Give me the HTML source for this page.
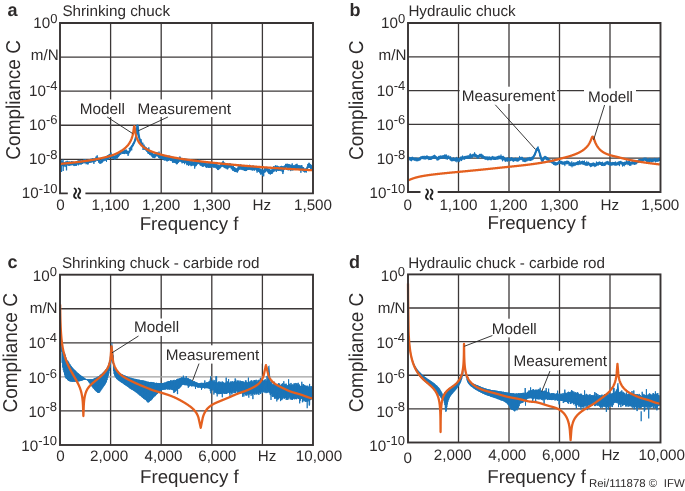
<!DOCTYPE html><html><head><meta charset="utf-8"><style>html,body{margin:0;padding:0;background:#fff;overflow:hidden}svg{display:block;will-change:transform}</style></head><body>
<svg text-rendering="geometricPrecision" width="685" height="491" viewBox="0 0 685 491" font-family="Liberation Sans, sans-serif" fill="#2e2b2b">
<line x1="110.60" y1="23" x2="110.60" y2="193.4" stroke="#3c3838" stroke-width="1.3"/>
<line x1="161.20" y1="23" x2="161.20" y2="193.4" stroke="#3c3838" stroke-width="1.3"/>
<line x1="211.80" y1="23" x2="211.80" y2="193.4" stroke="#3c3838" stroke-width="1.3"/>
<line x1="262.40" y1="23" x2="262.40" y2="193.4" stroke="#3c3838" stroke-width="1.3"/>
<line x1="60" y1="57.08" x2="313" y2="57.08" stroke="#3c3838" stroke-width="1.3"/>
<line x1="60" y1="91.16" x2="313" y2="91.16" stroke="#3c3838" stroke-width="1.3"/>
<line x1="60" y1="125.24" x2="313" y2="125.24" stroke="#3c3838" stroke-width="1.3"/>
<line x1="60" y1="159.32" x2="313" y2="159.32" stroke="#3c3838" stroke-width="1.3"/>
<path d="M60.60 160.64 60.90 163.92 61.20 160.22 61.50 164.56 61.80 161.16 62.10 164.77 62.40 161.57 62.70 165.92 63.00 159.71 63.30 166.43 63.60 162.33 63.90 165.95 64.20 162.45 64.50 165.97 64.80 161.96 65.10 167.07 65.40 161.96 65.70 165.41 66.00 161.31 66.30 164.87 66.60 161.81 66.90 164.66 67.20 160.80 67.50 165.19 67.80 161.60 68.10 165.44 68.40 161.55 68.70 165.56 69.00 162.19 69.30 165.39 69.60 161.49 69.90 165.72 70.20 161.90 70.50 164.97 70.80 161.86 71.10 165.42 71.40 161.14 71.70 164.62 72.00 161.22 72.30 165.19 72.60 161.87 72.90 164.75 73.20 161.53 73.50 165.35 73.80 162.45 74.10 166.07 74.40 162.72 74.70 165.55 75.00 162.67 75.30 165.75 75.60 162.52 75.90 165.67 76.20 162.07 76.50 165.65 76.80 161.55 77.10 164.56 77.40 160.94 77.70 164.07 78.00 160.50 78.30 165.33 78.60 160.55 78.90 164.36 79.20 160.58 79.50 164.13 79.80 159.87 80.10 164.52 80.40 160.38 80.70 164.11 81.00 160.43 81.30 164.47 81.60 160.78 81.90 164.03 82.20 160.59 82.50 163.85 82.80 160.04 83.10 163.33 83.40 159.85 83.70 162.72 84.00 159.47 84.30 163.29 84.60 159.53 84.90 163.02 85.20 159.72 85.50 162.79 85.80 159.34 86.10 164.22 86.40 160.46 86.70 163.37 87.00 160.83 87.30 164.03 87.60 160.79 87.90 164.55 88.20 159.66 88.50 163.51 88.80 159.96 89.10 162.91 89.40 159.25 89.70 162.92 90.00 159.71 90.30 162.79 90.60 158.83 90.90 162.16 91.20 159.16 91.50 162.44 91.80 158.70 92.10 162.03 92.40 158.37 92.70 162.28 93.00 158.57 93.30 162.07 93.60 158.63 93.90 163.88 94.20 158.87 94.50 161.72 94.80 158.47 95.10 161.73 95.40 158.29 95.70 161.41 96.00 156.66 96.30 160.13 96.60 156.68 96.90 160.81 97.20 155.35 97.50 160.83 97.80 157.32 98.10 160.94 98.40 158.01 98.70 162.60 99.00 158.79 99.30 162.55 99.60 159.82 99.90 163.76 100.20 160.62 100.50 163.41 100.80 160.34 101.10 163.27 101.40 159.59 101.70 163.12 102.00 159.20 102.30 162.45 102.60 158.06 102.90 161.77 103.20 157.40 103.50 160.55 103.80 157.60 104.10 161.12 104.40 156.99 104.70 160.32 105.00 157.44 105.30 160.40 105.60 157.20 105.90 160.59 106.20 157.01 106.50 161.77 106.80 156.27 107.10 159.88 107.40 155.29 107.70 158.98 108.00 155.61 108.30 159.41 108.60 155.07 108.90 157.85 109.20 154.05 109.50 158.42 109.80 153.88 110.10 157.86 110.40 154.22 110.70 157.36 111.00 152.50 111.30 158.12 111.60 154.85 111.90 158.58 112.20 154.34 112.50 158.25 112.80 154.15 113.10 158.69 113.40 155.34 113.70 158.66 114.00 155.65 114.30 158.87 114.60 155.83 114.90 159.74 115.20 155.85 115.50 158.90 115.80 155.16 116.10 158.80 116.40 154.88 116.70 158.03 117.00 154.59 117.30 158.43 117.60 153.68 117.90 157.32 118.20 154.27 118.50 156.78 118.80 153.10 119.10 156.13 119.40 150.94 119.70 155.03 120.00 151.73 120.30 154.52 120.60 150.83 120.90 154.38 121.20 149.87 121.50 153.15 121.80 149.99 122.10 153.73 122.40 150.92 122.70 153.83 123.00 150.70 123.30 153.88 123.60 151.14 123.90 153.52 124.20 150.08 124.50 154.07 124.80 149.90 125.10 153.77 125.40 150.17 125.70 152.89 126.00 149.48 126.30 153.88 126.60 149.95 126.90 153.47 127.20 150.78 127.50 154.07 127.80 151.00 128.10 155.86 128.40 151.22 128.70 154.29 129.00 150.66 129.30 152.86 129.60 150.06 129.90 152.14 130.20 148.43 130.50 150.89 130.80 147.57 131.10 149.67 131.40 146.77 131.70 150.38 132.00 145.58 132.30 146.97 132.60 144.15 132.90 146.21 133.20 143.33 133.50 144.50 133.80 142.43 134.10 143.29 134.40 141.15 134.70 141.86 135.00 139.73 135.30 140.12 135.60 137.66 135.90 137.69 136.20 134.88 136.50 134.45 136.80 130.31 137.10 129.39 137.40 124.97 137.70 126.72 138.00 128.44 138.30 133.28 138.60 133.60 138.90 137.20 139.20 136.74 139.50 139.53 139.80 138.89 140.10 141.13 140.40 140.50 140.70 142.95 141.00 139.18 141.30 144.02 141.60 141.59 141.90 145.53 142.20 143.20 142.50 146.05 142.80 142.69 143.10 150.01 143.40 145.13 143.70 147.89 144.00 144.64 144.30 149.54 144.60 146.09 144.90 149.78 145.20 146.68 145.50 150.22 145.80 147.69 146.10 150.58 146.40 147.47 146.70 151.55 147.00 148.01 147.30 151.98 147.60 149.45 147.90 153.44 148.20 149.64 148.50 153.85 148.80 147.43 149.10 153.80 149.40 150.97 149.70 154.86 150.00 150.84 150.30 155.23 150.60 150.46 150.90 155.24 151.20 151.08 151.50 155.63 151.80 152.43 152.10 156.99 152.40 152.89 152.70 157.51 153.00 153.67 153.30 157.88 153.60 153.96 153.90 157.64 154.20 153.88 154.50 158.11 154.80 153.92 155.10 157.52 155.40 153.38 155.70 156.86 156.00 152.53 156.30 156.18 156.60 152.11 156.90 156.01 157.20 152.31 157.50 156.27 157.80 152.99 158.10 156.55 158.40 153.23 158.70 157.88 159.00 151.61 159.30 158.25 159.60 154.40 159.90 158.49 160.20 154.51 160.50 158.45 160.80 155.29 161.10 158.83 161.40 154.69 161.70 158.59 162.00 154.11 162.30 158.58 162.60 155.40 162.90 159.64 163.20 155.39 163.50 158.85 163.80 155.40 164.10 160.28 164.40 155.89 164.70 160.42 165.00 155.50 165.30 159.98 165.60 157.01 165.90 160.61 166.20 157.15 166.50 160.72 166.80 156.88 167.10 161.47 167.40 156.55 167.70 160.74 168.00 156.72 168.30 160.78 168.60 155.83 168.90 160.51 169.20 155.77 169.50 159.73 169.80 155.84 170.10 160.46 170.40 156.50 170.70 160.99 171.00 156.85 171.30 161.05 171.60 156.64 171.90 161.11 172.20 157.86 172.50 162.52 172.80 158.65 173.10 162.69 173.40 158.53 173.70 162.34 174.00 158.02 174.30 162.60 174.60 158.51 174.90 162.87 175.20 158.52 175.50 163.19 175.80 159.18 176.10 163.22 176.40 159.11 176.70 164.31 177.00 159.91 177.30 164.06 177.60 159.31 177.90 162.81 178.20 159.04 178.50 162.61 178.80 158.25 179.10 162.07 179.40 156.81 179.70 160.96 180.00 156.61 180.30 161.05 180.60 157.49 180.90 162.06 181.20 158.08 181.50 162.13 181.80 158.80 182.10 163.35 182.40 158.04 182.70 162.67 183.00 158.53 183.30 163.00 183.60 159.29 183.90 162.99 184.20 157.99 184.50 164.16 184.80 158.71 185.10 162.36 185.40 159.04 185.70 162.92 186.00 158.69 186.30 163.84 186.60 159.15 186.90 165.20 187.20 160.56 187.50 164.50 187.80 160.05 188.10 164.69 188.40 160.98 188.70 165.96 189.00 161.82 189.30 164.86 189.60 161.05 189.90 165.01 190.20 161.30 190.50 165.13 190.80 161.48 191.10 166.17 191.40 161.19 191.70 165.80 192.00 161.66 192.30 165.45 192.60 161.36 192.90 165.24 193.20 161.85 193.50 165.21 193.80 161.70 194.10 165.80 194.40 161.39 194.70 168.60 195.00 161.73 195.30 166.33 195.60 161.85 195.90 166.16 196.20 162.08 196.50 165.47 196.80 160.98 197.10 164.45 197.40 161.02 197.70 164.19 198.00 160.83 198.30 164.02 198.60 160.01 198.90 163.83 199.20 159.67 199.50 164.17 199.80 160.70 200.10 165.24 200.40 161.20 200.70 165.57 201.00 162.01 201.30 165.39 201.60 162.11 201.90 166.26 202.20 161.81 202.50 166.55 202.80 162.15 203.10 166.60 203.40 161.72 203.70 166.42 204.00 162.39 204.30 165.67 204.60 162.03 204.90 166.12 205.20 162.30 205.50 166.75 205.80 162.85 206.10 167.44 206.40 163.61 206.70 167.75 207.00 163.14 207.30 167.46 207.60 163.86 207.90 166.93 208.20 163.19 208.50 167.73 208.80 162.69 209.10 167.74 209.40 162.50 209.70 167.61 210.00 163.47 210.30 167.73 210.60 163.25 210.90 167.29 211.20 162.54 211.50 166.89 211.80 162.72 212.10 166.84 212.40 162.17 212.70 166.68 213.00 163.23 213.30 167.66 213.60 162.22 213.90 166.84 214.20 162.77 214.50 167.46 214.80 163.75 215.10 167.60 215.40 163.96 215.70 167.53 216.00 163.10 216.30 168.43 216.60 161.95 216.90 168.56 217.20 165.29 217.50 169.75 217.80 164.41 218.10 170.07 218.40 165.02 218.70 169.80 219.00 165.75 219.30 168.79 219.60 165.40 219.90 168.59 220.20 164.77 220.50 167.86 220.80 163.47 221.10 167.24 221.40 162.78 221.70 166.81 222.00 162.87 222.30 166.72 222.60 161.77 222.90 165.87 223.20 160.84 223.50 167.09 223.80 162.66 224.10 167.53 224.40 162.62 224.70 167.91 225.00 164.59 225.30 168.37 225.60 164.96 225.90 168.11 226.20 164.70 226.50 168.33 226.80 164.37 227.10 169.23 227.40 164.74 227.70 169.27 228.00 164.42 228.30 168.21 228.60 164.50 228.90 167.58 229.20 163.43 229.50 167.30 229.80 163.61 230.10 167.47 230.40 163.63 230.70 167.46 231.00 163.83 231.30 169.28 231.60 165.18 231.90 169.01 232.20 165.83 232.50 170.51 232.80 165.85 233.10 170.42 233.40 165.74 233.70 170.87 234.00 167.38 234.30 171.30 234.60 167.16 234.90 171.94 235.20 167.81 235.50 171.92 235.80 168.31 236.10 172.10 236.40 168.57 236.70 171.82 237.00 168.51 237.30 172.60 237.60 167.77 237.90 171.40 238.20 166.22 238.50 170.47 238.80 166.44 239.10 169.38 239.40 164.84 239.70 169.66 240.00 165.33 240.30 168.53 240.60 164.40 240.90 169.75 241.20 165.44 241.50 169.21 241.80 165.83 242.10 170.06 242.40 165.75 242.70 169.56 243.00 165.88 243.30 170.30 243.60 165.52 243.90 170.07 244.20 166.45 244.50 170.79 244.80 166.90 245.10 170.41 245.40 167.27 245.70 171.09 246.00 166.98 246.30 170.95 246.60 167.09 246.90 170.27 247.20 166.66 247.50 169.98 247.80 166.23 248.10 170.03 248.40 165.52 248.70 169.68 249.00 165.53 249.30 169.68 249.60 164.81 249.90 169.79 250.20 165.78 250.50 169.54 250.80 165.83 251.10 170.21 251.40 166.16 251.70 169.92 252.00 166.32 252.30 170.47 252.60 165.84 252.90 170.30 253.20 165.62 253.50 169.81 253.80 165.99 254.10 170.40 254.40 165.93 254.70 170.53 255.00 166.30 255.30 169.34 255.60 166.28 255.90 169.93 256.20 166.66 256.50 170.61 256.80 166.57 257.10 172.62 257.40 167.04 257.70 170.91 258.00 167.80 258.30 171.76 258.60 168.01 258.90 171.96 259.20 168.38 259.50 172.45 259.80 168.54 260.10 173.31 260.40 168.80 260.70 174.58 261.00 168.89 261.30 173.80 261.60 170.02 261.90 174.38 262.20 169.51 262.50 175.96 262.80 169.43 263.10 174.18 263.40 170.20 263.70 176.35 264.00 169.58 264.30 172.59 264.60 167.74 264.90 172.62 265.20 168.39 265.50 171.95 265.80 167.43 266.10 171.02 266.40 166.94 266.70 171.12 267.00 168.00 267.30 171.91 267.60 167.44 267.90 172.45 268.20 169.22 268.50 173.25 268.80 168.64 269.10 174.03 269.40 168.97 269.70 173.86 270.00 170.18 270.30 174.57 270.60 169.77 270.90 174.02 271.20 169.69 271.50 173.70 271.80 169.61 272.10 173.80 272.40 169.47 272.70 172.83 273.00 168.32 273.30 171.65 273.60 166.18 273.90 171.93 274.20 167.61 274.50 170.68 274.80 166.27 275.10 170.63 275.40 165.41 275.70 170.33 276.00 165.62 276.30 171.99 276.60 166.48 276.90 169.90 277.20 165.65 277.50 170.37 277.80 166.21 278.10 171.04 278.40 166.43 278.70 170.55 279.00 167.06 279.30 170.73 279.60 166.88 279.90 170.47 280.20 166.21 280.50 170.61 280.80 166.61 281.10 171.17 281.40 165.87 281.70 170.09 282.00 165.98 282.30 172.12 282.60 166.32 282.90 174.04 283.20 166.86 283.50 172.10 283.80 165.95 284.10 169.51 284.40 165.89 284.70 169.49 285.00 165.31 285.30 168.45 285.60 163.90 285.90 167.81 286.20 164.24 286.50 167.36 286.80 163.80 287.10 166.90 287.40 163.85 287.70 170.17 288.00 163.94 288.30 167.80 288.60 164.49 288.90 170.42 289.20 164.04 289.50 169.19 289.80 165.34 290.10 169.44 290.40 164.86 290.70 171.09 291.00 164.70 291.30 169.66 291.60 165.14 291.90 170.36 292.20 163.43 292.50 170.18 292.80 165.93 293.10 170.34 293.40 165.41 293.70 169.62 294.00 165.29 294.30 169.90 294.60 165.59 294.90 169.27 295.20 164.81 295.50 168.85 295.80 164.55 296.10 168.68 296.40 164.37 296.70 169.34 297.00 163.75 297.30 168.67 297.60 165.13 297.90 168.31 298.20 165.30 298.50 169.02 298.80 165.31 299.10 169.06 299.40 165.64 299.70 168.95 300.00 165.38 300.30 169.76 300.60 166.07 300.90 172.76 301.20 165.22 301.50 169.45 301.80 165.15 302.10 169.66 302.40 166.75 302.70 171.04 303.00 167.16 303.30 171.53 303.60 167.30 303.90 171.46 304.20 168.75 304.50 172.28 304.80 168.65 305.10 172.25 305.40 168.79 305.70 171.99 306.00 168.45 306.30 172.51 306.60 167.60 306.90 170.30 307.20 166.49 307.50 169.28 307.80 164.05 308.10 167.83 308.40 163.66 308.70 167.84 309.00 162.75 309.30 167.51 309.60 163.49 309.90 167.97 310.20 164.05 310.50 168.76 310.80 164.60 311.10 169.12 311.40 165.13 311.70 169.91 312.00 166.15" fill="none" stroke="#1a74b8" stroke-width="1.0" stroke-linejoin="round" />
<line x1="61.5" y1="165" x2="61.5" y2="172" stroke="#1a74b8" stroke-width="1.3"/>
<line x1="63.2" y1="165" x2="63.2" y2="171" stroke="#1a74b8" stroke-width="1.3"/>
<line x1="66.5" y1="165" x2="66.5" y2="170.5" stroke="#1a74b8" stroke-width="1.3"/>
<path d="M129.00 149.43 129.05 149.39 129.10 149.34 129.15 149.30 129.20 149.26 129.25 149.21 129.30 149.16 129.35 149.12 129.40 149.07 129.45 149.03 129.50 148.98 129.55 148.93 129.60 148.89 129.65 148.84 129.70 148.79 129.75 148.74 129.80 148.70 129.85 148.65 129.90 148.60 129.95 148.55 130.00 148.50 130.05 148.45 130.10 148.40 130.15 148.35 130.20 148.30 130.25 148.25 130.30 148.19 130.35 148.14 130.40 148.09 130.45 148.04 130.50 147.98 130.55 147.93 130.60 147.88 130.65 147.82 130.70 147.77 130.75 147.71 130.80 147.66 130.85 147.60 130.90 147.54 130.95 147.49 131.00 147.43 131.05 147.37 131.10 147.31 131.15 147.26 131.20 147.20 131.25 147.14 131.30 147.08 131.35 147.02 131.40 146.96 131.45 146.89 131.50 146.83 131.55 146.77 131.60 146.71 131.65 146.64 131.70 146.58 131.75 146.51 131.80 146.45 131.85 146.38 131.90 146.32 131.95 146.25 132.00 146.18 132.05 146.11 132.10 146.04 132.15 145.98 132.20 145.91 132.25 145.83 132.30 145.76 132.35 145.69 132.40 145.62 132.45 145.54 132.50 145.47 132.55 145.40 132.60 145.32 132.65 145.24 132.70 145.17 132.75 145.09 132.80 145.01 132.85 144.93 132.90 144.85 132.95 144.77 133.00 144.68 133.05 144.60 133.10 144.52 133.15 144.43 133.20 144.35 133.25 144.26 133.30 144.17 133.35 144.08 133.40 143.99 133.45 143.90 133.50 143.81 133.55 143.71 133.60 143.62 133.65 143.52 133.70 143.43 133.75 143.33 133.80 143.23 133.85 143.13 133.90 143.02 133.95 142.92 134.00 142.82 134.05 142.71 134.10 142.60 134.15 142.49 134.20 142.38 134.25 142.27 134.30 142.15 134.35 142.03 134.40 141.92 134.45 141.80 134.50 141.67 134.55 141.55 134.60 141.42 134.65 141.29 134.70 141.16 134.75 141.03 134.80 140.90 134.85 140.76 134.90 140.62 134.95 140.47 135.00 140.33 135.05 140.18 135.10 140.03 135.15 139.87 135.20 139.72 135.25 139.56 135.30 139.39 135.35 139.22 135.40 139.05 135.45 138.87 135.50 138.69 135.55 138.51 135.60 138.32 135.65 138.13 135.70 137.93 135.75 137.72 135.80 137.51 135.85 137.30 135.90 137.08 135.95 136.85 136.00 136.61 136.05 136.37 136.10 136.12 136.15 135.86 136.20 135.59 136.25 135.32 136.30 135.03 136.35 134.73 136.40 134.42 136.45 134.10 136.50 133.76 136.55 133.42 136.60 133.05 136.65 132.67 136.70 132.27 136.75 131.85 136.80 131.41 136.85 130.94 136.90 130.46 136.95 129.94 137.00 129.40 137.05 128.84 137.10 128.24 137.15 127.63 137.20 127.00 137.25 126.36 137.30 125.75 137.35 125.60 137.40 125.60 137.45 125.60 137.50 125.60 137.55 125.60 137.60 125.60 137.65 125.60 137.70 125.74 137.75 126.35 137.80 126.98 137.85 127.61 137.90 128.23 137.95 128.82 138.00 129.38 138.05 129.92 138.10 130.43 138.15 130.91 138.20 131.37 138.25 131.81 138.30 132.23 138.35 132.63 138.40 133.00 138.45 133.37 138.50 133.71 138.55 134.05 138.60 134.37 138.65 134.67 138.70 134.97 138.75 135.25 138.80 135.53 138.85 135.79 138.90 136.05 138.95 136.30 139.00 136.54 139.05 136.77 139.10 136.99 139.15 137.21 139.20 137.43 139.25 137.63 139.30 137.84 139.35 138.03 139.40 138.22 139.45 138.41 139.50 138.59 139.55 138.77 139.60 138.94 139.65 139.11 139.70 139.28 139.75 139.44 139.80 139.60 139.85 139.75 139.90 139.91 139.95 140.06 140.00 140.20 140.05 140.34 140.10 140.48 140.15 140.62 140.20 140.76 140.25 140.89 140.30 141.02 140.35 141.15 140.40 141.28 140.45 141.40 140.50 141.52 140.55 141.64 140.60 141.76 140.65 141.87 140.70 141.99 140.75 142.10 140.80 142.21 140.85 142.32 140.90 142.43 140.95 142.53 141.00 142.64 141.05 142.74 141.10 142.84 141.15 142.94 141.20 143.04 141.25 143.14 141.30 143.23 141.35 143.33 141.40 143.42 141.45 143.51 141.50 143.61 141.55 143.70 141.60 143.78 141.65 143.87 141.70 143.96 141.75 144.05 141.80 144.13 141.85 144.21 141.90 144.30 141.95 144.38 142.00 144.46 142.05 144.54 142.10 144.62 142.15 144.70 142.20 144.77 142.25 144.85 142.30 144.93 142.35 145.00 142.40 145.08 142.45 145.15 142.50 145.22 142.55 145.29 142.60 145.36 142.65 145.43 142.70 145.50 142.75 145.57 142.80 145.64 142.85 145.71 142.90 145.78 142.95 145.84 143.00 145.91 143.05 145.98 143.10 146.04 143.15 146.10 143.20 146.17 143.25 146.23 143.30 146.29 143.35 146.35 143.40 146.42 143.45 146.48 143.50 146.54 143.55 146.60 143.60 146.66 143.65 146.72 143.70 146.77 143.75 146.83 143.80 146.89 143.85 146.95 143.90 147.00 143.95 147.06 144.00 147.11 144.05 147.17 144.10 147.22 144.15 147.28 144.20 147.33 144.25 147.39 144.30 147.44 144.35 147.49 144.40 147.54 144.45 147.60 144.50 147.65 144.55 147.70 144.60 147.75 144.65 147.80 144.70 147.85 144.75 147.90 144.80 147.95 144.85 148.00 144.90 148.05 144.95 148.09 145.00 148.14 145.05 148.19 145.10 148.24 145.15 148.28 145.20 148.33 145.25 148.38 145.30 148.42 145.35 148.47 145.40 148.51 145.45 148.56 145.50 148.60 145.55 148.65 145.60 148.69 145.65 148.74 145.70 148.78 145.75 148.82 145.80 148.87 145.85 148.91 145.90 148.95 145.95 149.00" fill="none" stroke="#1a74b8" stroke-width="2.1" stroke-linejoin="round" />
<path d="M60.50 163.87 60.70 163.85 60.90 163.83 61.10 163.81 61.30 163.79 61.50 163.77 61.70 163.76 61.90 163.74 62.10 163.72 62.30 163.70 62.50 163.68 62.70 163.66 62.90 163.64 63.10 163.62 63.30 163.60 63.50 163.58 63.70 163.56 63.90 163.54 64.10 163.52 64.30 163.50 64.50 163.48 64.70 163.46 64.90 163.44 65.10 163.42 65.30 163.40 65.50 163.38 65.70 163.36 65.90 163.34 66.10 163.32 66.30 163.30 66.50 163.28 66.70 163.26 66.90 163.24 67.10 163.22 67.30 163.20 67.50 163.18 67.70 163.16 67.90 163.14 68.10 163.12 68.30 163.09 68.50 163.07 68.70 163.05 68.90 163.03 69.10 163.01 69.30 162.99 69.50 162.97 69.70 162.95 69.90 162.92 70.10 162.90 70.30 162.88 70.50 162.86 70.70 162.84 70.90 162.81 71.10 162.79 71.30 162.77 71.50 162.75 71.70 162.73 71.90 162.70 72.10 162.68 72.30 162.66 72.50 162.64 72.70 162.61 72.90 162.59 73.10 162.57 73.30 162.55 73.50 162.52 73.70 162.50 73.90 162.48 74.10 162.45 74.30 162.43 74.50 162.41 74.70 162.38 74.90 162.36 75.10 162.34 75.30 162.31 75.50 162.29 75.70 162.26 75.90 162.24 76.10 162.22 76.30 162.19 76.50 162.17 76.70 162.14 76.90 162.12 77.10 162.09 77.30 162.07 77.50 162.05 77.70 162.02 77.90 162.00 78.10 161.97 78.30 161.95 78.50 161.92 78.70 161.90 78.90 161.87 79.10 161.84 79.30 161.82 79.50 161.79 79.70 161.77 79.90 161.74 80.10 161.72 80.30 161.69 80.50 161.66 80.70 161.64 80.90 161.61 81.10 161.59 81.30 161.56 81.50 161.53 81.70 161.51 81.90 161.48 82.10 161.45 82.30 161.42 82.50 161.40 82.70 161.37 82.90 161.34 83.10 161.31 83.30 161.29 83.50 161.26 83.70 161.23 83.90 161.20 84.10 161.18 84.30 161.15 84.50 161.12 84.70 161.09 84.90 161.06 85.10 161.03 85.30 161.00 85.50 160.98 85.70 160.95 85.90 160.92 86.10 160.89 86.30 160.86 86.50 160.83 86.70 160.80 86.90 160.77 87.10 160.74 87.30 160.71 87.50 160.68 87.70 160.65 87.90 160.62 88.10 160.59 88.30 160.56 88.50 160.53 88.70 160.50 88.90 160.46 89.10 160.43 89.30 160.40 89.50 160.37 89.70 160.34 89.90 160.31 90.10 160.27 90.30 160.24 90.50 160.21 90.70 160.18 90.90 160.14 91.10 160.11 91.30 160.08 91.50 160.04 91.70 160.01 91.90 159.98 92.10 159.94 92.30 159.91 92.50 159.88 92.70 159.84 92.90 159.81 93.10 159.77 93.30 159.74 93.50 159.70 93.70 159.67 93.90 159.63 94.10 159.60 94.30 159.56 94.50 159.53 94.70 159.49 94.90 159.45 95.10 159.42 95.30 159.38 95.50 159.35 95.70 159.31 95.90 159.27 96.10 159.23 96.30 159.20 96.50 159.16 96.70 159.12 96.90 159.08 97.10 159.04 97.30 159.01 97.50 158.97 97.70 158.93 97.90 158.89 98.10 158.85 98.30 158.81 98.50 158.77 98.70 158.73 98.90 158.69 99.10 158.65 99.30 158.61 99.50 158.57 99.70 158.53 99.90 158.48 100.10 158.44 100.30 158.40 100.50 158.36 100.70 158.31 100.90 158.27 101.10 158.23 101.30 158.19 101.50 158.14 101.70 158.10 101.90 158.05 102.10 158.01 102.30 157.96 102.50 157.92 102.70 157.87 102.90 157.83 103.10 157.78 103.30 157.74 103.50 157.69 103.70 157.64 103.90 157.60 104.10 157.55 104.30 157.50 104.50 157.45 104.70 157.40 104.90 157.35 105.10 157.31 105.30 157.26 105.50 157.21 105.70 157.16 105.90 157.10 106.10 157.05 106.30 157.00 106.50 156.95 106.70 156.90 106.90 156.85 107.10 156.79 107.30 156.74 107.50 156.69 107.70 156.63 107.90 156.58 108.10 156.52 108.30 156.47 108.50 156.41 108.70 156.36 108.90 156.30 109.10 156.24 109.30 156.18 109.50 156.13 109.70 156.07 109.90 156.01 110.10 155.95 110.30 155.89 110.50 155.83 110.70 155.76 110.90 155.70 111.10 155.64 111.30 155.57 111.50 155.50 111.70 155.44 111.90 155.37 112.10 155.30 112.30 155.23 112.50 155.16 112.70 155.09 112.90 155.01 113.10 154.94 113.30 154.86 113.50 154.79 113.70 154.71 113.90 154.63 114.10 154.55 114.30 154.47 114.50 154.39 114.70 154.31 114.90 154.22 115.10 154.14 115.30 154.05 115.50 153.97 115.70 153.88 115.90 153.79 116.10 153.70 116.30 153.61 116.50 153.52 116.70 153.42 116.90 153.33 117.10 153.23 117.30 153.13 117.50 153.04 117.70 152.94 117.90 152.83 118.10 152.73 118.30 152.63 118.50 152.52 118.70 152.42 118.90 152.31 119.10 152.20 119.30 152.09 119.50 151.98 119.70 151.86 119.90 151.75 120.10 151.63 120.30 151.51 120.50 151.39 120.70 151.27 120.90 151.14 121.10 151.02 121.30 150.89 121.50 150.76 121.70 150.63 121.90 150.50 122.10 150.36 122.30 150.23 122.50 150.09 122.70 149.95 122.90 149.80 123.10 149.66 123.30 149.51 123.50 149.36 123.70 149.21 123.90 149.05 124.10 148.89 124.30 148.73 124.50 148.57 124.70 148.40 124.90 148.23 125.10 148.05 125.30 147.88 125.50 147.70 125.70 147.51 125.90 147.32 126.10 147.13 126.30 146.93 126.50 146.73 126.70 146.52 126.90 146.31 127.10 146.10 127.30 145.87 127.50 145.65 127.70 145.41 127.90 145.17 128.10 144.92 128.30 144.67 128.50 144.40 128.70 144.13 128.90 143.85 129.10 143.56 129.30 143.26 129.50 142.95 129.70 142.62 129.90 142.28 130.10 141.93 130.30 141.56 130.50 141.18 130.70 140.77 130.90 140.35 131.10 139.90 131.30 139.42 131.50 138.91 131.70 138.37 131.90 137.79 132.10 137.17 132.30 136.49 132.50 135.76 132.70 134.95 132.90 134.06 133.00 133.58 133.02 133.48 133.04 133.38 133.06 133.27 133.08 133.17 133.10 133.07 133.10 133.07 133.12 132.96 133.14 132.86 133.16 132.75 133.18 132.64 133.20 132.53 133.22 132.42 133.24 132.30 133.26 132.19 133.28 132.08 133.30 131.96 133.30 131.96 133.32 131.84 133.34 131.72 133.36 131.60 133.38 131.48 133.40 131.36 133.42 131.23 133.44 131.10 133.46 130.98 133.48 130.85 133.50 130.72 133.50 130.72 133.52 130.59 133.54 130.45 133.56 130.32 133.58 130.19 133.60 130.05 133.62 129.91 133.64 129.77 133.66 129.63 133.68 129.49 133.70 129.35 133.70 129.35 133.72 129.21 133.74 129.07 133.76 128.93 133.78 128.78 133.80 128.64 133.82 128.50 133.84 128.36 133.86 128.22 133.88 128.08 133.90 127.94 133.90 127.94 133.92 127.80 133.94 127.67 133.96 127.54 133.98 127.41 134.00 127.28 134.02 127.16 134.04 127.04 134.06 126.93 134.08 126.83 134.10 126.73 134.10 126.73 134.12 126.64 134.14 126.55 134.16 126.48 134.18 126.41 134.20 126.35 134.22 126.30 134.24 126.27 134.26 126.24 134.28 126.22 134.30 126.21 134.30 126.21 134.32 126.22 134.34 126.23 134.36 126.26 134.38 126.30 134.40 126.34 134.42 126.40 134.44 126.47 134.46 126.54 134.48 126.62 134.50 126.71 134.50 126.71 134.52 126.81 134.54 126.91 134.56 127.02 134.58 127.14 134.60 127.26 134.62 127.38 134.64 127.51 134.66 127.64 134.68 127.77 134.70 127.91 134.70 127.91 134.72 128.04 134.74 128.18 134.76 128.32 134.78 128.46 134.80 128.60 134.82 128.74 134.84 128.88 134.86 129.03 134.88 129.17 134.90 129.31 134.90 129.31 134.92 129.44 134.94 129.58 134.96 129.72 134.98 129.86 135.00 129.99 135.02 130.13 135.04 130.26 135.06 130.39 135.08 130.52 135.10 130.65 135.10 130.65 135.12 130.78 135.14 130.91 135.16 131.03 135.18 131.16 135.20 131.28 135.22 131.40 135.24 131.52 135.26 131.64 135.28 131.76 135.30 131.88 135.30 131.88 135.32 131.99 135.34 132.10 135.36 132.22 135.38 132.33 135.40 132.44 135.42 132.55 135.44 132.65 135.46 132.76 135.48 132.86 135.50 132.97 135.70 133.94 135.90 134.81 136.10 135.60 136.30 136.32 136.50 136.98 136.70 137.58 136.90 138.14 137.10 138.66 137.30 139.15 137.50 139.60 137.70 140.03 137.90 140.44 138.10 140.82 138.30 141.19 138.50 141.54 138.70 141.87 138.90 142.19 139.10 142.49 139.30 142.78 139.50 143.06 139.70 143.33 139.90 143.59 140.10 143.84 140.30 144.08 140.50 144.31 140.70 144.54 140.90 144.76 141.10 144.97 141.30 145.17 141.50 145.37 141.70 145.57 141.90 145.76 142.10 145.94 142.30 146.12 142.50 146.29 142.70 146.46 142.90 146.63 143.10 146.79 143.30 146.95 143.50 147.10 143.70 147.26 143.90 147.40 144.10 147.55 144.30 147.69 144.50 147.83 144.70 147.97 144.90 148.10 145.10 148.23 145.30 148.36 145.50 148.48 145.70 148.61 145.90 148.73 146.10 148.85 146.30 148.97 146.50 149.08 146.70 149.20 146.90 149.31 147.10 149.42 147.30 149.53 147.50 149.63 147.70 149.74 147.90 149.84 148.10 149.94 148.30 150.04 148.50 150.14 148.70 150.24 148.90 150.33 149.10 150.43 149.30 150.52 149.50 150.61 149.70 150.70 149.90 150.79 150.10 150.88 150.30 150.97 150.50 151.06 150.70 151.14 150.90 151.23 151.10 151.31 151.30 151.39 151.50 151.47 151.70 151.55 151.90 151.63 152.10 151.71 152.30 151.79 152.50 151.87 152.70 151.94 152.90 152.02 153.10 152.09 153.30 152.17 153.50 152.24 153.70 152.31 153.90 152.39 154.10 152.46 154.30 152.53 154.50 152.60 154.70 152.67 154.90 152.74 155.10 152.80 155.30 152.87 155.50 152.94 155.70 153.00 155.90 153.07 156.10 153.14 156.30 153.20 156.50 153.27 156.70 153.33 156.90 153.39 157.10 153.46 157.30 153.52 157.50 153.58 157.70 153.64 157.90 153.70 158.10 153.77 158.30 153.83 158.50 153.89 158.70 153.95 158.90 154.01 159.10 154.06 159.30 154.12 159.50 154.18 159.70 154.24 159.90 154.30 160.10 154.35 160.30 154.41 160.50 154.47 160.70 154.52 160.90 154.58 161.10 154.64 161.30 154.69 161.50 154.74 161.70 154.80 161.90 154.85 162.10 154.91 162.30 154.96 162.50 155.01 162.70 155.06 162.90 155.12 163.10 155.17 163.30 155.22 163.50 155.27 163.70 155.32 163.90 155.37 164.10 155.42 164.30 155.47 164.50 155.52 164.70 155.57 164.90 155.62 165.10 155.66 165.30 155.71 165.50 155.76 165.70 155.81 165.90 155.85 166.10 155.90 166.30 155.95 166.50 155.99 166.70 156.04 166.90 156.08 167.10 156.13 167.30 156.17 167.50 156.22 167.70 156.26 167.90 156.31 168.10 156.35 168.30 156.40 168.50 156.44 168.70 156.48 168.90 156.53 169.10 156.57 169.30 156.61 169.50 156.65 169.70 156.70 169.90 156.74 170.10 156.78 170.30 156.82 170.50 156.86 170.70 156.90 170.90 156.94 171.10 156.98 171.30 157.02 171.50 157.06 171.70 157.10 171.90 157.14 172.10 157.18 172.30 157.22 172.50 157.26 172.70 157.30 172.90 157.34 173.10 157.38 173.30 157.42 173.50 157.45 173.70 157.49 173.90 157.53 174.10 157.57 174.30 157.60 174.50 157.64 174.70 157.68 174.90 157.71 175.10 157.75 175.30 157.79 175.50 157.82 175.70 157.86 175.90 157.90 176.10 157.93 176.30 157.97 176.50 158.00 176.70 158.04 176.90 158.07 177.10 158.11 177.30 158.14 177.50 158.18 177.70 158.21 177.90 158.25 178.10 158.28 178.30 158.32 178.50 158.35 178.70 158.38 178.90 158.42 179.10 158.45 179.30 158.48 179.50 158.52 179.70 158.55 179.90 158.58 180.10 158.62 180.30 158.65 180.50 158.68 180.70 158.71 180.90 158.75 181.10 158.78 181.30 158.81 181.50 158.84 181.70 158.87 181.90 158.90 182.10 158.94 182.30 158.97 182.50 159.00 182.70 159.03 182.90 159.06 183.10 159.09 183.30 159.12 183.50 159.15 183.70 159.18 183.90 159.21 184.10 159.24 184.30 159.27 184.50 159.30 184.70 159.33 184.90 159.36 185.10 159.39 185.30 159.42 185.50 159.45 185.70 159.48 185.90 159.51 186.10 159.54 186.30 159.57 186.50 159.60 186.70 159.63 186.90 159.66 187.10 159.69 187.30 159.71 187.50 159.74 187.70 159.77 187.90 159.80 188.10 159.83 188.30 159.86 188.50 159.88 188.70 159.91 188.90 159.94 189.10 159.97 189.30 159.99 189.50 160.02 189.70 160.05 189.90 160.08 190.10 160.10 190.30 160.13 190.50 160.16 190.70 160.19 190.90 160.21 191.10 160.24 191.30 160.27 191.50 160.29 191.70 160.32 191.90 160.35 192.10 160.37 192.30 160.40 192.50 160.42 192.70 160.45 192.90 160.48 193.10 160.50 193.30 160.53 193.50 160.55 193.70 160.58 193.90 160.61 194.10 160.63 194.30 160.66 194.50 160.68 194.70 160.71 194.90 160.73 195.10 160.76 195.30 160.78 195.50 160.81 195.70 160.83 195.90 160.86 196.10 160.88 196.30 160.91 196.50 160.93 196.70 160.96 196.90 160.98 197.10 161.01 197.30 161.03 197.50 161.05 197.70 161.08 197.90 161.10 198.10 161.13 198.30 161.15 198.50 161.17 198.70 161.20 198.90 161.22 199.10 161.25 199.30 161.27 199.50 161.29 199.70 161.32 199.90 161.34 200.10 161.36 200.30 161.39 200.50 161.41 200.70 161.43 200.90 161.46 201.10 161.48 201.30 161.50 201.50 161.53 201.70 161.55 201.90 161.57 202.10 161.60 202.30 161.62 202.50 161.64 202.70 161.66 202.90 161.69 203.10 161.71 203.30 161.73 203.50 161.75 203.70 161.78 203.90 161.80 204.10 161.82 204.30 161.84 204.50 161.86 204.70 161.89 204.90 161.91 205.10 161.93 205.30 161.95 205.50 161.97 205.70 162.00 205.90 162.02 206.10 162.04 206.30 162.06 206.50 162.08 206.70 162.11 206.90 162.13 207.10 162.15 207.30 162.17 207.50 162.19 207.70 162.21 207.90 162.23 208.10 162.25 208.30 162.28 208.50 162.30 208.70 162.32 208.90 162.34 209.10 162.36 209.30 162.38 209.50 162.40 209.70 162.42 209.90 162.44 210.10 162.46 210.30 162.49 210.50 162.51 210.70 162.53 210.90 162.55 211.10 162.57 211.30 162.59 211.50 162.61 211.70 162.63 211.90 162.65 212.10 162.67 212.30 162.69 212.50 162.71 212.70 162.73 212.90 162.75 213.10 162.77 213.30 162.79 213.50 162.81 213.70 162.83 213.90 162.86 214.10 162.88 214.30 162.90 214.50 162.92 214.70 162.94 214.90 162.96 215.10 162.98 215.30 163.00 215.50 163.02 215.70 163.04 215.90 163.06 216.10 163.08 216.30 163.10 216.50 163.12 216.70 163.14 216.90 163.16 217.10 163.18 217.30 163.20 217.50 163.22 217.70 163.24 217.90 163.26 218.10 163.28 218.30 163.30 218.50 163.32 218.70 163.34 218.90 163.36 219.10 163.38 219.30 163.40 219.50 163.42 219.70 163.44 219.90 163.46 220.10 163.48 220.30 163.50 220.50 163.52 220.70 163.54 220.90 163.56 221.10 163.58 221.30 163.60 221.50 163.62 221.70 163.64 221.90 163.66 222.10 163.68 222.30 163.70 222.50 163.72 222.70 163.74 222.90 163.75 223.10 163.77 223.30 163.79 223.50 163.81 223.70 163.83 223.90 163.85 224.10 163.87 224.30 163.89 224.50 163.91 224.70 163.93 224.90 163.95 225.10 163.97 225.30 163.99 225.50 164.01 225.70 164.03 225.90 164.05 226.10 164.07 226.30 164.09 226.50 164.10 226.70 164.12 226.90 164.14 227.10 164.16 227.30 164.18 227.50 164.20 227.70 164.22 227.90 164.24 228.10 164.26 228.30 164.28 228.50 164.30 228.70 164.32 228.90 164.33 229.10 164.35 229.30 164.37 229.50 164.39 229.70 164.41 229.90 164.43 230.10 164.45 230.30 164.47 230.50 164.49 230.70 164.50 230.90 164.52 231.10 164.54 231.30 164.56 231.50 164.58 231.70 164.60 231.90 164.62 232.10 164.64 232.30 164.65 232.50 164.67 232.70 164.69 232.90 164.71 233.10 164.73 233.30 164.75 233.50 164.77 233.70 164.79 233.90 164.80 234.10 164.82 234.30 164.84 234.50 164.86 234.70 164.88 234.90 164.90 235.10 164.91 235.30 164.93 235.50 164.95 235.70 164.97 235.90 164.99 236.10 165.01 236.30 165.02 236.50 165.04 236.70 165.06 236.90 165.08 237.10 165.10 237.30 165.12 237.50 165.13 237.70 165.15 237.90 165.17 238.10 165.19 238.30 165.21 238.50 165.22 238.70 165.24 238.90 165.26 239.10 165.28 239.30 165.30 239.50 165.31 239.70 165.33 239.90 165.35 240.10 165.37 240.30 165.38 240.50 165.40 240.70 165.42 240.90 165.44 241.10 165.46 241.30 165.47 241.50 165.49 241.70 165.51 241.90 165.53 242.10 165.54 242.30 165.56 242.50 165.58 242.70 165.60 242.90 165.61 243.10 165.63 243.30 165.65 243.50 165.67 243.70 165.68 243.90 165.70 244.10 165.72 244.30 165.73 244.50 165.75 244.70 165.77 244.90 165.79 245.10 165.80 245.30 165.82 245.50 165.84 245.70 165.85 245.90 165.87 246.10 165.89 246.30 165.91 246.50 165.92 246.70 165.94 246.90 165.96 247.10 165.97 247.30 165.99 247.50 166.01 247.70 166.02 247.90 166.04 248.10 166.06 248.30 166.07 248.50 166.09 248.70 166.11 248.90 166.12 249.10 166.14 249.30 166.16 249.50 166.17 249.70 166.19 249.90 166.21 250.10 166.22 250.30 166.24 250.50 166.26 250.70 166.27 250.90 166.29 251.10 166.30 251.30 166.32 251.50 166.34 251.70 166.35 251.90 166.37 252.10 166.39 252.30 166.40 252.50 166.42 252.70 166.43 252.90 166.45 253.10 166.47 253.30 166.48 253.50 166.50 253.70 166.51 253.90 166.53 254.10 166.54 254.30 166.56 254.50 166.58 254.70 166.59 254.90 166.61 255.10 166.62 255.30 166.64 255.50 166.65 255.70 166.67 255.90 166.69 256.10 166.70 256.30 166.72 256.50 166.73 256.70 166.75 256.90 166.76 257.10 166.78 257.30 166.79 257.50 166.81 257.70 166.82 257.90 166.84 258.10 166.85 258.30 166.87 258.50 166.88 258.70 166.90 258.90 166.91 259.10 166.93 259.30 166.94 259.50 166.96 259.70 166.97 259.90 166.99 260.10 167.00 260.30 167.02 260.50 167.03 260.70 167.05 260.90 167.06 261.10 167.07 261.30 167.09 261.50 167.10 261.70 167.12 261.90 167.13 262.10 167.15 262.30 167.16 262.50 167.18 262.70 167.19 262.90 167.20 263.10 167.22 263.30 167.23 263.50 167.25 263.70 167.26 263.90 167.28 264.10 167.29 264.30 167.30 264.50 167.32 264.70 167.33 264.90 167.35 265.10 167.36 265.30 167.37 265.50 167.39 265.70 167.40 265.90 167.42 266.10 167.43 266.30 167.44 266.50 167.46 266.70 167.47 266.90 167.49 267.10 167.50 267.30 167.51 267.50 167.53 267.70 167.54 267.90 167.55 268.10 167.57 268.30 167.58 268.50 167.60 268.70 167.61 268.90 167.62 269.10 167.64 269.30 167.65 269.50 167.66 269.70 167.68 269.90 167.69 270.10 167.70 270.30 167.72 270.50 167.73 270.70 167.74 270.90 167.76 271.10 167.77 271.30 167.79 271.50 167.80 271.70 167.81 271.90 167.83 272.10 167.84 272.30 167.85 272.50 167.87 272.70 167.88 272.90 167.89 273.10 167.91 273.30 167.92 273.50 167.93 273.70 167.95 273.90 167.96 274.10 167.97 274.30 167.99 274.50 168.00 274.70 168.01 274.90 168.02 275.10 168.04 275.30 168.05 275.50 168.06 275.70 168.08 275.90 168.09 276.10 168.10 276.30 168.12 276.50 168.13 276.70 168.14 276.90 168.16 277.10 168.17 277.30 168.18 277.50 168.19 277.70 168.21 277.90 168.22 278.10 168.23 278.30 168.25 278.50 168.26 278.70 168.27 278.90 168.28 279.10 168.30 279.30 168.31 279.50 168.32 279.70 168.34 279.90 168.35 280.10 168.36 280.30 168.37 280.50 168.39 280.70 168.40 280.90 168.41 281.10 168.42 281.30 168.44 281.50 168.45 281.70 168.46 281.90 168.47 282.10 168.49 282.30 168.50 282.50 168.51 282.70 168.52 282.90 168.54 283.10 168.55 283.30 168.56 283.50 168.57 283.70 168.59 283.90 168.60 284.10 168.61 284.30 168.62 284.50 168.64 284.70 168.65 284.90 168.66 285.10 168.67 285.30 168.69 285.50 168.70 285.70 168.71 285.90 168.72 286.10 168.74 286.30 168.75 286.50 168.76 286.70 168.77 286.90 168.78 287.10 168.80 287.30 168.81 287.50 168.82 287.70 168.83 287.90 168.84 288.10 168.86 288.30 168.87 288.50 168.88 288.70 168.89 288.90 168.91 289.10 168.92 289.30 168.93 289.50 168.94 289.70 168.95 289.90 168.97 290.10 168.98 290.30 168.99 290.50 169.00 290.70 169.01 290.90 169.02 291.10 169.04 291.30 169.05 291.50 169.06 291.70 169.07 291.90 169.08 292.10 169.10 292.30 169.11 292.50 169.12 292.70 169.13 292.90 169.14 293.10 169.15 293.30 169.17 293.50 169.18 293.70 169.19 293.90 169.20 294.10 169.21 294.30 169.22 294.50 169.24 294.70 169.25 294.90 169.26 295.10 169.27 295.30 169.28 295.50 169.29 295.70 169.31 295.90 169.32 296.10 169.33 296.30 169.34 296.50 169.35 296.70 169.36 296.90 169.37 297.10 169.39 297.30 169.40 297.50 169.41 297.70 169.42 297.90 169.43 298.10 169.44 298.30 169.45 298.50 169.47 298.70 169.48 298.90 169.49 299.10 169.50 299.30 169.51 299.50 169.52 299.70 169.53 299.90 169.55 300.10 169.56 300.30 169.57 300.50 169.58 300.70 169.59 300.90 169.60 301.10 169.61 301.30 169.62 301.50 169.63 301.70 169.65 301.90 169.66 302.10 169.67 302.30 169.68 302.50 169.69 302.70 169.70 302.90 169.71 303.10 169.72 303.30 169.73 303.50 169.75 303.70 169.76 303.90 169.77 304.10 169.78 304.30 169.79 304.50 169.80 304.70 169.81 304.90 169.82 305.10 169.83 305.30 169.84 305.50 169.86 305.70 169.87 305.90 169.88 306.10 169.89 306.30 169.90 306.50 169.91 306.70 169.92 306.90 169.93 307.10 169.94 307.30 169.95 307.50 169.96 307.70 169.97 307.90 169.98 308.10 170.00 308.30 170.01 308.50 170.02 308.70 170.03 308.90 170.04 309.10 170.05 309.30 170.06 309.50 170.07 309.70 170.08 309.90 170.09 310.10 170.10 310.30 170.11 310.50 170.12 310.70 170.13 310.90 170.14 311.10 170.16 311.30 170.17 311.50 170.18 311.70 170.19 311.90 170.20 312.10 170.21 312.30 170.22 312.50 170.23 312.70 170.24 312.90 170.25" fill="none" stroke="#e4601f" stroke-width="2.3" stroke-linejoin="round" />
<rect x="76" y="99.4" width="160" height="17.599999999999994" fill="#fff"/>
<text x="79.8" y="113.7" font-size="15.3">Modell</text>
<text x="137.6" y="113.7" font-size="15.3">Measurement</text>
<line x1="107.2" y1="117" x2="132.6" y2="133.5" stroke="#222" stroke-width="0.9"/>
<line x1="167.9" y1="117" x2="138.3" y2="130.8" stroke="#222" stroke-width="0.9"/>
<path d="M67.8 193.4H60V23H313V193.4H85.4" fill="none" stroke="#383434" stroke-width="1.9"/>
<path d="M74.60 188.50C76.60 189.40 76.50 191.90 75.10 193.40S73.50 197.40 75.90 198.20" fill="none" stroke="#222" stroke-width="1.9" stroke-linecap="round"/>
<path d="M78.70 188.50C80.70 189.40 80.60 191.90 79.20 193.40S77.60 197.40 80.00 198.20" fill="none" stroke="#222" stroke-width="1.9" stroke-linecap="round"/>
<text x="57.5" y="27.80" text-anchor="end" font-size="15.2">10<tspan dy="-5.2" font-size="13">0</tspan></text>
<text x="58.7" y="60.00" text-anchor="end" font-size="15.2">m/N</text>
<text x="57.5" y="95.50" text-anchor="end" font-size="15.2">10<tspan dy="-5.2" font-size="13">-4</tspan></text>
<text x="57.5" y="129.60" text-anchor="end" font-size="15.2">10<tspan dy="-5.2" font-size="13">-6</tspan></text>
<text x="57.5" y="163.70" text-anchor="end" font-size="15.2">10<tspan dy="-5.2" font-size="13">-8</tspan></text>
<text x="57.5" y="197.80" text-anchor="end" font-size="15.2">10<tspan dy="-5.2" font-size="13">-10</tspan></text>
<text x="60.4" y="210.3" text-anchor="middle" font-size="15.2">0</text>
<text x="110.5" y="210.3" text-anchor="middle" font-size="15.2">1,100</text>
<text x="161.1" y="210.3" text-anchor="middle" font-size="15.2">1,200</text>
<text x="211.8" y="210.3" text-anchor="middle" font-size="15.2">1,300</text>
<text x="261.8" y="210.3" text-anchor="middle" font-size="15.2">Hz</text>
<text x="313.0" y="210.3" text-anchor="middle" font-size="15.2">1,500</text>
<line x1="458.50" y1="23" x2="458.50" y2="192" stroke="#3c3838" stroke-width="1.3"/>
<line x1="509.00" y1="23" x2="509.00" y2="192" stroke="#3c3838" stroke-width="1.3"/>
<line x1="559.50" y1="23" x2="559.50" y2="192" stroke="#3c3838" stroke-width="1.3"/>
<line x1="610.00" y1="23" x2="610.00" y2="192" stroke="#3c3838" stroke-width="1.3"/>
<line x1="408" y1="56.80" x2="660.5" y2="56.80" stroke="#3c3838" stroke-width="1.3"/>
<line x1="408" y1="90.60" x2="660.5" y2="90.60" stroke="#3c3838" stroke-width="1.3"/>
<line x1="408" y1="124.40" x2="660.5" y2="124.40" stroke="#3c3838" stroke-width="1.3"/>
<line x1="408" y1="158.20" x2="660.5" y2="158.20" stroke="#3c3838" stroke-width="1.3"/>
<path d="M408.60 156.65 408.90 159.92 409.20 157.19 409.50 159.67 409.80 157.61 410.10 160.14 410.40 157.59 410.70 160.33 411.00 157.72 411.30 160.83 411.60 157.54 411.90 160.44 412.20 157.00 412.50 159.51 412.80 157.42 413.10 159.69 413.40 157.75 413.70 159.93 414.00 157.98 414.30 160.18 414.60 157.97 414.90 160.56 415.20 157.81 415.50 160.26 415.80 158.31 416.10 160.84 416.40 157.97 416.70 160.59 417.00 157.97 417.30 160.80 417.60 158.54 417.90 160.87 418.20 158.52 418.50 160.53 418.80 158.31 419.10 160.20 419.40 157.72 419.70 160.30 420.00 157.55 420.30 159.91 420.60 156.82 420.90 159.18 421.20 156.77 421.50 158.69 421.80 156.59 422.10 158.39 422.40 156.27 422.70 158.61 423.00 156.24 423.30 158.93 423.60 156.24 423.90 158.69 424.20 156.76 424.50 158.98 424.80 156.06 425.10 159.21 425.40 156.49 425.70 158.90 426.00 156.66 426.30 158.76 426.60 155.74 426.90 158.71 427.20 155.85 427.50 158.79 427.80 156.65 428.10 158.81 428.40 156.62 428.70 159.60 429.00 156.54 429.30 159.52 429.60 156.73 429.90 159.54 430.20 157.08 430.50 159.45 430.80 156.56 431.10 159.53 431.40 156.89 431.70 159.15 432.00 156.42 432.30 158.65 432.60 156.22 432.90 158.44 433.20 155.88 433.50 158.28 433.80 155.56 434.10 157.91 434.40 155.14 434.70 158.12 435.00 155.61 435.30 158.40 435.60 156.01 435.90 158.58 436.20 156.66 436.50 159.09 436.80 157.16 437.10 160.21 437.40 157.33 437.70 159.99 438.00 157.36 438.30 159.98 438.60 156.18 438.90 159.39 439.20 156.59 439.50 159.04 439.80 155.95 440.10 158.71 440.40 155.84 440.70 158.24 441.00 156.02 441.30 158.52 441.60 156.13 441.90 158.57 442.20 155.82 442.50 157.99 442.80 155.69 443.10 158.19 443.40 155.44 443.70 157.69 444.00 155.67 444.30 158.29 444.60 154.69 444.90 158.33 445.20 154.80 445.50 158.58 445.80 156.06 446.10 158.60 446.40 154.84 446.70 158.79 447.00 156.12 447.30 159.41 447.60 155.97 447.90 158.09 448.20 155.97 448.50 158.40 448.80 155.87 449.10 158.68 449.40 156.70 449.70 159.15 450.00 157.36 450.30 160.10 450.60 156.52 450.90 160.27 451.20 158.29 451.50 160.94 451.80 158.12 452.10 160.40 452.40 158.21 452.70 160.84 453.00 158.03 453.30 160.55 453.60 157.67 453.90 160.70 454.20 158.26 454.50 160.55 454.80 158.47 455.10 160.95 455.40 158.16 455.70 161.30 456.00 158.33 456.30 160.64 456.60 157.21 456.90 161.93 457.20 157.89 457.50 160.94 457.80 158.46 458.10 161.16 458.40 158.60 458.70 160.95 459.00 158.29 459.30 161.77 459.60 158.38 459.90 160.10 460.20 157.50 460.50 159.72 460.80 156.86 461.10 160.61 461.40 157.10 461.70 160.51 462.00 156.81 462.30 159.29 462.60 155.81 462.90 159.29 463.20 157.04 463.50 159.05 463.80 156.68 464.10 159.46 464.40 156.64 464.70 159.12 465.00 156.31 465.30 158.57 465.60 156.40 465.90 158.61 466.20 156.20 466.50 158.22 466.80 156.12 467.10 158.48 467.40 156.07 467.70 158.13 468.00 155.64 468.30 158.41 468.60 155.76 468.90 158.24 469.20 155.97 469.50 158.18 469.80 154.38 470.10 158.05 470.40 153.85 470.70 157.83 471.00 155.07 471.30 157.38 471.60 154.74 471.90 157.28 472.20 154.82 472.50 157.41 472.80 154.30 473.10 156.52 473.40 154.22 473.70 156.30 474.00 153.80 474.30 156.32 474.60 152.44 474.90 156.67 475.20 154.06 475.50 156.55 475.80 154.22 476.10 156.60 476.40 154.79 476.70 157.52 477.00 155.39 477.30 158.07 477.60 155.65 477.90 158.45 478.20 155.62 478.50 158.09 478.80 155.19 479.10 157.20 479.40 154.24 479.70 156.80 480.00 154.34 480.30 156.36 480.60 154.31 480.90 156.67 481.20 154.04 481.50 157.45 481.80 154.53 482.10 157.36 482.40 154.98 482.70 157.86 483.00 155.26 483.30 158.03 483.60 155.99 483.90 158.45 484.20 156.43 484.50 158.69 484.80 156.50 485.10 159.43 485.40 156.83 485.70 159.19 486.00 156.75 486.30 159.29 486.60 156.72 486.90 159.46 487.20 157.09 487.50 159.91 487.80 156.84 488.10 159.70 488.40 157.40 488.70 159.62 489.00 156.79 489.30 159.24 489.60 156.77 489.90 159.71 490.20 157.21 490.50 159.82 490.80 157.30 491.10 159.61 491.40 157.16 491.70 159.64 492.00 156.91 492.30 158.84 492.60 156.41 492.90 159.28 493.20 156.95 493.50 159.35 493.80 156.88 494.10 159.44 494.40 157.13 494.70 159.40 495.00 157.23 495.30 159.43 495.60 157.01 495.90 159.45 496.20 157.15 496.50 159.11 496.80 156.87 497.10 159.14 497.40 156.55 497.70 159.11 498.00 156.35 498.30 158.98 498.60 156.05 498.90 158.94 499.20 156.03 499.50 158.56 499.80 156.15 500.10 158.82 500.40 156.19 500.70 158.50 501.00 154.87 501.30 159.19 501.60 156.21 501.90 158.95 502.20 156.51 502.50 160.94 502.80 156.29 503.10 160.27 503.40 156.38 503.70 159.24 504.00 157.02 504.30 159.87 504.60 157.58 504.90 160.90 505.20 158.86 505.50 161.47 505.80 158.36 506.10 160.90 506.40 158.65 506.70 160.72 507.00 157.77 507.30 161.54 507.60 157.85 507.90 160.12 508.20 157.84 508.50 160.56 508.80 158.49 509.10 160.71 509.40 158.64 509.70 161.03 510.00 158.33 510.30 160.69 510.60 158.12 510.90 160.37 511.20 157.55 511.50 160.17 511.80 157.89 512.10 160.51 512.40 158.16 512.70 160.94 513.00 158.83 513.30 161.45 513.60 158.60 513.90 161.09 514.20 158.54 514.50 160.43 514.80 158.31 515.10 160.36 515.40 158.05 515.70 160.70 516.00 158.61 516.30 160.94 516.60 158.25 516.90 160.87 517.20 158.64 517.50 161.10 517.80 158.64 518.10 161.18 518.40 158.33 518.70 160.79 519.00 158.11 519.30 160.12 519.60 156.37 519.90 159.94 520.20 157.52 520.50 159.56 520.80 157.51 521.10 159.53 521.40 157.31 521.70 159.64 522.00 157.15 522.30 159.92 522.60 157.60 522.90 161.33 523.20 158.45 523.50 160.80 523.80 158.86 524.10 161.58 524.40 158.51 524.70 161.37 525.00 158.70 525.30 161.77 525.60 159.09 525.90 161.21 526.20 158.77 526.50 161.02 526.80 158.36 527.10 160.96 527.40 158.12 527.70 160.28 528.00 157.94 528.30 160.26 528.60 157.86 528.90 160.31 529.20 157.71 529.50 160.17 529.80 157.27 530.10 160.36 530.40 157.90 530.70 160.39 531.00 157.76 531.30 160.06 531.60 157.41 531.90 160.11 532.20 156.91 532.50 159.27 532.80 156.81 533.10 159.52 533.40 155.78 533.70 157.38 534.00 154.84 534.30 156.30 534.60 153.29 534.90 155.34 535.20 152.13 535.50 154.35 535.80 150.71 536.10 152.11 536.40 148.31 536.70 151.13 537.00 148.26 537.30 149.95 537.60 147.16 537.90 150.37 538.20 146.83 538.50 151.19 538.80 149.39 539.10 152.42 539.40 150.86 539.70 156.03 540.00 153.15 540.30 156.40 540.60 154.38 540.90 159.07 541.20 156.94 541.50 160.76 541.80 158.65 542.10 161.74 542.40 159.17 542.70 161.23 543.00 158.13 543.30 161.17 543.60 157.42 543.90 159.66 544.20 156.81 544.50 158.93 544.80 156.39 545.10 158.90 545.40 156.33 545.70 158.76 546.00 156.81 546.30 159.69 546.60 157.03 546.90 159.97 547.20 157.45 547.50 159.85 547.80 157.78 548.10 160.68 548.40 158.42 548.70 161.36 549.00 159.22 549.30 162.25 549.60 159.73 549.90 161.96 550.20 159.77 550.50 162.27 550.80 160.20 551.10 162.45 551.40 160.38 551.70 162.86 552.00 160.46 552.30 163.31 552.60 159.67 552.90 163.57 553.20 161.40 553.50 164.40 553.80 161.47 554.10 164.54 554.40 161.91 554.70 164.97 555.00 162.59 555.30 165.12 555.60 162.27 555.90 164.90 556.20 162.99 556.50 164.98 556.80 162.63 557.10 164.74 557.40 162.63 557.70 164.54 558.00 162.07 558.30 164.05 558.60 161.57 558.90 163.62 559.20 161.50 559.50 163.51 559.80 161.28 560.10 163.61 560.40 161.02 560.70 163.36 561.00 161.31 561.30 163.56 561.60 161.28 561.90 164.31 562.20 161.84 562.50 164.11 562.80 161.74 563.10 164.27 563.40 162.11 563.70 164.23 564.00 161.93 564.30 164.50 564.60 161.59 564.90 165.67 565.20 161.50 565.50 163.85 565.80 161.70 566.10 163.57 566.40 161.14 566.70 163.88 567.00 161.33 567.30 163.51 567.60 161.12 567.90 163.87 568.20 161.27 568.50 163.67 568.80 161.52 569.10 165.57 569.40 162.20 569.70 164.62 570.00 162.82 570.30 165.81 570.60 162.92 570.90 165.58 571.20 163.12 571.50 165.88 571.80 161.66 572.10 166.96 572.40 163.04 572.70 165.25 573.00 163.25 573.30 165.57 573.60 162.67 573.90 165.91 574.20 163.13 574.50 165.26 574.80 162.85 575.10 165.39 575.40 162.85 575.70 164.97 576.00 162.53 576.30 164.77 576.60 162.43 576.90 164.47 577.20 161.78 577.50 164.59 577.80 161.51 578.10 163.69 578.40 161.49 578.70 164.76 579.00 161.66 579.30 163.97 579.60 160.61 579.90 164.12 580.20 161.91 580.50 164.15 580.80 161.91 581.10 164.05 581.40 161.55 581.70 163.72 582.00 161.20 582.30 163.85 582.60 160.96 582.90 164.08 583.20 161.50 583.50 164.41 583.80 161.66 584.10 164.12 584.40 160.81 584.70 164.81 585.00 162.57 585.30 165.15 585.60 162.67 585.90 165.20 586.20 163.03 586.50 165.18 586.80 161.42 587.10 165.35 587.40 162.83 587.70 165.13 588.00 162.67 588.30 164.81 588.60 161.94 588.90 164.85 589.20 162.97 589.50 165.50 589.80 163.45 590.10 166.21 590.40 163.58 590.70 166.62 591.00 163.43 591.30 166.54 591.60 163.64 591.90 166.06 592.20 163.11 592.50 165.77 592.80 163.43 593.10 165.96 593.40 162.86 593.70 165.51 594.00 163.22 594.30 165.94 594.60 163.40 594.90 166.68 595.20 163.95 595.50 166.16 595.80 163.51 596.10 166.05 596.40 161.70 596.70 165.38 597.00 162.60 597.30 165.08 597.60 162.73 597.90 164.98 598.20 162.32 598.50 165.27 598.80 162.20 599.10 164.17 599.40 161.91 599.70 164.43 600.00 162.22 600.30 164.52 600.60 162.24 600.90 164.71 601.20 162.66 601.50 165.39 601.80 162.74 602.10 165.37 602.40 162.12 602.70 165.50 603.00 162.97 603.30 165.24 603.60 163.40 603.90 165.77 604.20 162.96 604.50 165.54 604.80 162.66 605.10 165.34 605.40 162.46 605.70 164.77 606.00 161.70 606.30 164.31 606.60 161.71 606.90 163.83 607.20 161.28 607.50 164.04 607.80 161.80 608.10 164.72 608.40 162.26 608.70 164.55 609.00 161.55 609.30 164.78 609.60 162.75 609.90 165.15 610.20 162.31 610.50 165.20 610.80 162.48 611.10 165.34 611.40 162.48 611.70 164.83 612.00 162.83 612.30 165.00 612.60 162.38 612.90 165.05 613.20 162.53 613.50 164.68 613.80 162.55 614.10 165.03 614.40 162.29 614.70 165.31 615.00 162.64 615.30 165.14 615.60 161.88 615.90 165.12 616.20 163.08 616.50 165.29 616.80 162.68 617.10 164.96 617.40 162.58 617.70 164.65 618.00 162.10 618.30 164.67 618.60 161.87 618.90 164.70 619.20 161.72 619.50 165.66 619.80 161.48 620.10 164.02 620.40 161.42 620.70 163.81 621.00 161.39 621.30 164.01 621.60 162.07 621.90 164.48 622.20 162.40 622.50 166.13 622.80 162.36 623.10 165.42 623.40 162.67 623.70 165.22 624.00 162.61 624.30 165.97 624.60 162.01 624.90 164.56 625.20 162.35 625.50 164.62 625.80 161.93 626.10 164.23 626.40 160.44 626.70 163.97 627.00 161.74 627.30 163.78 627.60 161.48 627.90 164.63 628.20 161.49 628.50 164.05 628.80 161.60 629.10 164.64 629.40 160.62 629.70 165.57 630.00 162.39 630.30 165.05 630.60 162.02 630.90 165.57 631.20 162.08 631.50 163.95 631.80 161.70 632.10 164.31 632.40 161.42 632.70 164.04 633.00 161.46 633.30 164.07 633.60 162.10 633.90 164.26 634.20 162.22 634.50 164.38 634.80 162.07 635.10 164.36 635.40 161.35 635.70 163.81 636.00 161.45 636.30 163.95 636.60 161.10 636.90 163.26 637.20 160.77 637.50 162.64 637.80 160.49 638.10 162.54 638.40 159.69 638.70 162.45 639.00 159.61 639.30 161.94 639.60 159.33 639.90 161.82 640.20 159.23 640.50 161.70 640.80 159.08 641.10 161.91 641.40 159.62 641.70 161.98 642.00 159.27 642.30 161.99 642.60 159.07 642.90 161.22 643.20 158.18 643.50 160.57 643.80 158.42 644.10 160.32 644.40 158.10 644.70 160.10 645.00 158.09 645.30 160.39 645.60 157.95 645.90 160.69 646.20 158.15 646.50 161.38 646.80 159.05 647.10 161.45 647.40 159.41 647.70 161.77 648.00 159.09 648.30 161.79 648.60 159.38 648.90 161.16 649.20 158.69 649.50 162.01 649.80 158.48 650.10 161.29 650.40 158.75 650.70 161.47 651.00 159.18 651.30 161.81 651.60 159.03 651.90 161.93 652.20 159.05 652.50 161.45 652.80 158.80 653.10 161.46 653.40 159.02 653.70 161.28 654.00 158.75 654.30 161.01 654.60 158.35 654.90 161.07 655.20 158.58 655.50 161.99 655.80 158.71 656.10 160.86 656.40 158.83 656.70 161.52 657.00 158.93 657.30 161.43 657.60 159.04 657.90 161.00 658.20 158.59 658.50 161.16 658.80 158.24 659.10 160.51 659.40 158.11 659.70 161.01" fill="none" stroke="#1a74b8" stroke-width="1.1" stroke-linejoin="round" />
<path d="M531.00 158.82 531.20 158.77 531.40 158.71 531.60 158.64 531.80 158.57 532.00 158.50 532.20 158.40 532.40 158.24 532.60 158.04 532.80 157.80 533.00 157.53 533.20 157.22 533.40 156.90 533.60 156.56 533.80 156.21 534.00 155.86 534.20 155.51 534.40 155.17 534.60 154.83 534.80 154.44 535.00 154.00 535.20 153.52 535.40 153.01 535.60 152.48 535.80 151.94 536.00 151.41 536.20 150.89 536.40 150.40 536.60 149.94 536.80 149.54 537.00 149.19 537.20 148.91 537.40 148.72 537.60 148.61 537.80 148.62 538.00 148.76 538.20 149.02 538.40 149.39 538.60 149.85 538.80 150.39 539.00 150.99 539.20 151.64 539.40 152.32 539.60 153.03 539.80 153.73 540.00 154.42 540.20 155.09 540.40 155.71 540.60 156.30 540.80 157.01 541.00 157.80 541.20 158.59 541.40 159.32 541.60 159.93 541.80 160.35 542.00 160.50 542.20 160.45 542.40 160.33 542.60 160.13 542.80 159.89 543.00 159.60 543.20 159.28 543.40 158.95 543.60 158.62 543.80 158.30 544.00 158.01 544.20 157.77 544.40 157.57 544.60 157.45 544.80 157.40 545.00 157.42 545.20 157.47 545.40 157.55 545.60 157.66 545.80 157.78 546.00 157.93 546.20 158.09 546.40 158.26 546.60 158.43 546.80 158.61" fill="none" stroke="#1a74b8" stroke-width="1.9" stroke-linejoin="round" />
<path d="M408.80 180.21 409.00 180.11 409.20 180.01 409.40 179.91 409.60 179.81 409.80 179.72 410.00 179.62 410.20 179.53 410.40 179.44 410.60 179.35 410.80 179.26 411.00 179.18 411.20 179.09 411.40 179.01 411.60 178.94 411.80 178.86 412.00 178.79 412.20 178.72 412.40 178.65 412.60 178.58 412.80 178.51 413.00 178.45 413.20 178.38 413.40 178.32 413.60 178.25 413.80 178.19 414.00 178.12 414.20 178.06 414.40 178.00 414.60 177.94 414.80 177.88 415.00 177.82 415.20 177.76 415.40 177.70 415.60 177.64 415.80 177.59 416.00 177.53 416.20 177.47 416.40 177.42 416.60 177.37 416.80 177.31 417.00 177.26 417.20 177.21 417.40 177.16 417.60 177.11 417.80 177.06 418.00 177.01 418.20 176.96 418.40 176.91 418.60 176.87 418.80 176.82 419.00 176.78 419.20 176.73 419.40 176.69 419.60 176.65 419.80 176.60 420.00 176.56 420.20 176.52 420.40 176.48 420.60 176.44 420.80 176.40 421.00 176.36 421.20 176.32 421.40 176.29 421.60 176.25 421.80 176.21 422.00 176.17 422.20 176.14 422.40 176.10 422.60 176.06 422.80 176.03 423.00 175.99 423.20 175.96 423.40 175.92 423.60 175.89 423.80 175.85 424.00 175.82 424.20 175.78 424.40 175.75 424.60 175.72 424.80 175.68 425.00 175.65 425.20 175.62 425.40 175.59 425.60 175.56 425.80 175.52 426.00 175.49 426.20 175.46 426.40 175.43 426.60 175.40 426.80 175.37 427.00 175.34 427.20 175.31 427.40 175.28 427.60 175.25 427.80 175.22 428.00 175.19 428.20 175.17 428.40 175.14 428.60 175.11 428.80 175.08 429.00 175.05 429.20 175.03 429.40 175.00 429.60 174.97 429.80 174.95 430.00 174.92 430.20 174.89 430.40 174.87 430.60 174.84 430.80 174.81 431.00 174.79 431.20 174.76 431.40 174.73 431.60 174.71 431.80 174.68 432.00 174.66 432.20 174.63 432.40 174.61 432.60 174.58 432.80 174.56 433.00 174.53 433.20 174.51 433.40 174.48 433.60 174.46 433.80 174.43 434.00 174.41 434.20 174.39 434.40 174.36 434.60 174.34 434.80 174.31 435.00 174.29 435.20 174.27 435.40 174.24 435.60 174.22 435.80 174.20 436.00 174.17 436.20 174.15 436.40 174.13 436.60 174.10 436.80 174.08 437.00 174.06 437.20 174.04 437.40 174.01 437.60 173.99 437.80 173.97 438.00 173.95 438.20 173.92 438.40 173.90 438.60 173.88 438.80 173.86 439.00 173.84 439.20 173.81 439.40 173.79 439.60 173.77 439.80 173.75 440.00 173.73 440.20 173.70 440.40 173.68 440.60 173.66 440.80 173.64 441.00 173.62 441.20 173.60 441.40 173.58 441.60 173.55 441.80 173.53 442.00 173.51 442.20 173.49 442.40 173.47 442.60 173.45 442.80 173.43 443.00 173.41 443.20 173.39 443.40 173.37 443.60 173.34 443.80 173.32 444.00 173.30 444.20 173.28 444.40 173.26 444.60 173.24 444.80 173.22 445.00 173.20 445.20 173.18 445.40 173.16 445.60 173.14 445.80 173.12 446.00 173.10 446.20 173.08 446.40 173.06 446.60 173.04 446.80 173.02 447.00 173.00 447.20 172.98 447.40 172.96 447.60 172.94 447.80 172.92 448.00 172.90 448.20 172.88 448.40 172.86 448.60 172.84 448.80 172.82 449.00 172.80 449.20 172.78 449.40 172.76 449.60 172.74 449.80 172.72 450.00 172.70 450.20 172.69 450.40 172.67 450.60 172.65 450.80 172.63 451.00 172.61 451.20 172.59 451.40 172.57 451.60 172.55 451.80 172.53 452.00 172.51 452.20 172.50 452.40 172.48 452.60 172.46 452.80 172.44 453.00 172.42 453.20 172.40 453.40 172.38 453.60 172.36 453.80 172.34 454.00 172.33 454.20 172.31 454.40 172.29 454.60 172.27 454.80 172.25 455.00 172.23 455.20 172.21 455.40 172.19 455.60 172.18 455.80 172.16 456.00 172.14 456.20 172.12 456.40 172.10 456.60 172.08 456.80 172.06 457.00 172.04 457.20 172.02 457.40 172.01 457.60 171.99 457.80 171.97 458.00 171.95 458.20 171.93 458.40 171.91 458.60 171.89 458.80 171.87 459.00 171.85 459.20 171.83 459.40 171.81 459.60 171.80 459.80 171.78 460.00 171.76 460.20 171.74 460.40 171.72 460.60 171.70 460.80 171.68 461.00 171.66 461.20 171.64 461.40 171.62 461.60 171.60 461.80 171.58 462.00 171.57 462.20 171.55 462.40 171.53 462.60 171.51 462.80 171.49 463.00 171.47 463.20 171.45 463.40 171.43 463.60 171.41 463.80 171.39 464.00 171.37 464.20 171.35 464.40 171.33 464.60 171.32 464.80 171.30 465.00 171.28 465.20 171.26 465.40 171.24 465.60 171.22 465.80 171.20 466.00 171.18 466.20 171.16 466.40 171.14 466.60 171.12 466.80 171.10 467.00 171.08 467.20 171.06 467.40 171.04 467.60 171.03 467.80 171.01 468.00 170.99 468.20 170.97 468.40 170.95 468.60 170.93 468.80 170.91 469.00 170.89 469.20 170.87 469.40 170.85 469.60 170.83 469.80 170.81 470.00 170.79 470.20 170.77 470.40 170.75 470.60 170.73 470.80 170.71 471.00 170.70 471.20 170.68 471.40 170.66 471.60 170.64 471.80 170.62 472.00 170.60 472.20 170.58 472.40 170.56 472.60 170.54 472.80 170.52 473.00 170.50 473.20 170.48 473.40 170.46 473.60 170.44 473.80 170.42 474.00 170.40 474.20 170.38 474.40 170.36 474.60 170.34 474.80 170.32 475.00 170.31 475.20 170.29 475.40 170.27 475.60 170.25 475.80 170.23 476.00 170.21 476.20 170.19 476.40 170.17 476.60 170.15 476.80 170.13 477.00 170.11 477.20 170.09 477.40 170.07 477.60 170.05 477.80 170.03 478.00 170.01 478.20 169.99 478.40 169.97 478.60 169.95 478.80 169.93 479.00 169.91 479.20 169.89 479.40 169.87 479.60 169.85 479.80 169.84 480.00 169.82 480.20 169.80 480.40 169.78 480.60 169.76 480.80 169.74 481.00 169.72 481.20 169.70 481.40 169.68 481.60 169.66 481.80 169.64 482.00 169.62 482.20 169.60 482.40 169.58 482.60 169.56 482.80 169.54 483.00 169.52 483.20 169.50 483.40 169.48 483.60 169.46 483.80 169.44 484.00 169.42 484.20 169.40 484.40 169.37 484.60 169.35 484.80 169.33 485.00 169.31 485.20 169.29 485.40 169.27 485.60 169.25 485.80 169.23 486.00 169.21 486.20 169.19 486.40 169.17 486.60 169.15 486.80 169.13 487.00 169.11 487.20 169.09 487.40 169.07 487.60 169.05 487.80 169.02 488.00 169.00 488.20 168.98 488.40 168.96 488.60 168.94 488.80 168.92 489.00 168.90 489.20 168.88 489.40 168.86 489.60 168.84 489.80 168.82 490.00 168.79 490.20 168.77 490.40 168.75 490.60 168.73 490.80 168.71 491.00 168.69 491.20 168.67 491.40 168.65 491.60 168.63 491.80 168.61 492.00 168.58 492.20 168.56 492.40 168.54 492.60 168.52 492.80 168.50 493.00 168.48 493.20 168.46 493.40 168.44 493.60 168.41 493.80 168.39 494.00 168.37 494.20 168.35 494.40 168.33 494.60 168.31 494.80 168.29 495.00 168.27 495.20 168.24 495.40 168.22 495.60 168.20 495.80 168.18 496.00 168.16 496.20 168.14 496.40 168.12 496.60 168.10 496.80 168.07 497.00 168.05 497.20 168.03 497.40 168.01 497.60 167.99 497.80 167.97 498.00 167.95 498.20 167.92 498.40 167.90 498.60 167.88 498.80 167.86 499.00 167.84 499.20 167.82 499.40 167.80 499.60 167.78 499.80 167.75 500.00 167.73 500.20 167.71 500.40 167.69 500.60 167.67 500.80 167.65 501.00 167.63 501.20 167.61 501.40 167.58 501.60 167.56 501.80 167.54 502.00 167.52 502.20 167.50 502.40 167.48 502.60 167.46 502.80 167.44 503.00 167.41 503.20 167.39 503.40 167.37 503.60 167.35 503.80 167.33 504.00 167.31 504.20 167.29 504.40 167.27 504.60 167.24 504.80 167.22 505.00 167.20 505.20 167.18 505.40 167.16 505.60 167.14 505.80 167.12 506.00 167.10 506.20 167.08 506.40 167.06 506.60 167.03 506.80 167.01 507.00 166.99 507.20 166.97 507.40 166.95 507.60 166.93 507.80 166.91 508.00 166.89 508.20 166.87 508.40 166.85 508.60 166.83 508.80 166.81 509.00 166.78 509.20 166.76 509.40 166.74 509.60 166.72 509.80 166.70 510.00 166.68 510.20 166.66 510.40 166.64 510.60 166.62 510.80 166.60 511.00 166.58 511.20 166.56 511.40 166.54 511.60 166.52 511.80 166.50 512.00 166.47 512.20 166.45 512.40 166.43 512.60 166.41 512.80 166.39 513.00 166.37 513.20 166.35 513.40 166.33 513.60 166.31 513.80 166.29 514.00 166.27 514.20 166.25 514.40 166.23 514.60 166.21 514.80 166.18 515.00 166.16 515.20 166.14 515.40 166.12 515.60 166.10 515.80 166.08 516.00 166.06 516.20 166.04 516.40 166.02 516.60 166.00 516.80 165.97 517.00 165.95 517.20 165.93 517.40 165.91 517.60 165.89 517.80 165.87 518.00 165.85 518.20 165.83 518.40 165.80 518.60 165.78 518.80 165.76 519.00 165.74 519.20 165.72 519.40 165.70 519.60 165.68 519.80 165.65 520.00 165.63 520.20 165.61 520.40 165.59 520.60 165.57 520.80 165.54 521.00 165.52 521.20 165.50 521.40 165.48 521.60 165.46 521.80 165.43 522.00 165.41 522.20 165.39 522.40 165.37 522.60 165.34 522.80 165.32 523.00 165.30 523.20 165.27 523.40 165.25 523.60 165.23 523.80 165.21 524.00 165.18 524.20 165.16 524.40 165.14 524.60 165.11 524.80 165.09 525.00 165.07 525.20 165.04 525.40 165.02 525.60 164.99 525.80 164.97 526.00 164.95 526.20 164.92 526.40 164.90 526.60 164.87 526.80 164.85 527.00 164.83 527.20 164.80 527.40 164.78 527.60 164.75 527.80 164.73 528.00 164.70 528.20 164.68 528.40 164.65 528.60 164.63 528.80 164.60 529.00 164.57 529.20 164.55 529.40 164.52 529.60 164.50 529.80 164.47 530.00 164.45 530.20 164.42 530.40 164.39 530.60 164.37 530.80 164.34 531.00 164.31 531.20 164.29 531.40 164.26 531.60 164.23 531.80 164.21 532.00 164.18 532.20 164.15 532.40 164.12 532.60 164.10 532.80 164.07 533.00 164.04 533.20 164.01 533.40 163.99 533.60 163.96 533.80 163.93 534.00 163.90 534.20 163.87 534.40 163.84 534.60 163.82 534.80 163.79 535.00 163.76 535.20 163.73 535.40 163.70 535.60 163.67 535.80 163.64 536.00 163.61 536.20 163.59 536.40 163.56 536.60 163.53 536.80 163.50 537.00 163.47 537.20 163.44 537.40 163.41 537.60 163.38 537.80 163.35 538.00 163.32 538.20 163.29 538.40 163.25 538.60 163.22 538.80 163.19 539.00 163.16 539.20 163.13 539.40 163.10 539.60 163.07 539.80 163.04 540.00 163.01 540.20 162.97 540.40 162.94 540.60 162.91 540.80 162.88 541.00 162.85 541.20 162.81 541.40 162.78 541.60 162.75 541.80 162.71 542.00 162.68 542.20 162.65 542.40 162.62 542.60 162.58 542.80 162.55 543.00 162.51 543.20 162.48 543.40 162.45 543.60 162.41 543.80 162.38 544.00 162.34 544.20 162.31 544.40 162.27 544.60 162.24 544.80 162.20 545.00 162.17 545.20 162.13 545.40 162.10 545.60 162.06 545.80 162.03 546.00 161.99 546.20 161.95 546.40 161.92 546.60 161.88 546.80 161.84 547.00 161.81 547.20 161.77 547.40 161.73 547.60 161.70 547.80 161.66 548.00 161.62 548.20 161.58 548.40 161.54 548.60 161.51 548.80 161.47 549.00 161.43 549.20 161.39 549.40 161.35 549.60 161.31 549.80 161.27 550.00 161.23 550.20 161.19 550.40 161.15 550.60 161.11 550.80 161.07 551.00 161.03 551.20 160.98 551.40 160.94 551.60 160.90 551.80 160.85 552.00 160.81 552.20 160.76 552.40 160.72 552.60 160.67 552.80 160.63 553.00 160.58 553.20 160.53 553.40 160.49 553.60 160.44 553.80 160.39 554.00 160.34 554.20 160.29 554.40 160.25 554.60 160.20 554.80 160.15 555.00 160.10 555.20 160.05 555.40 160.00 555.60 159.95 555.80 159.90 556.00 159.84 556.20 159.79 556.40 159.74 556.60 159.69 556.80 159.64 557.00 159.59 557.20 159.54 557.40 159.48 557.60 159.43 557.80 159.38 558.00 159.33 558.20 159.27 558.40 159.22 558.60 159.17 558.80 159.11 559.00 159.06 559.20 159.01 559.40 158.95 559.60 158.90 559.80 158.85 560.00 158.79 560.20 158.74 560.40 158.69 560.60 158.63 560.80 158.58 561.00 158.52 561.20 158.47 561.40 158.42 561.60 158.36 561.80 158.31 562.00 158.26 562.20 158.20 562.40 158.15 562.60 158.10 562.80 158.04 563.00 157.99 563.20 157.94 563.40 157.88 563.60 157.83 563.80 157.78 564.00 157.73 564.20 157.67 564.40 157.62 564.60 157.57 564.80 157.52 565.00 157.47 565.20 157.41 565.40 157.36 565.60 157.31 565.80 157.26 566.00 157.20 566.20 157.15 566.40 157.10 566.60 157.04 566.80 156.99 567.00 156.93 567.20 156.88 567.40 156.82 567.60 156.76 567.80 156.71 568.00 156.65 568.20 156.59 568.40 156.54 568.60 156.48 568.80 156.42 569.00 156.36 569.20 156.30 569.40 156.24 569.60 156.18 569.80 156.12 570.00 156.06 570.20 156.00 570.40 155.94 570.60 155.87 570.80 155.81 571.00 155.75 571.20 155.68 571.40 155.62 571.60 155.55 571.80 155.48 572.00 155.42 572.20 155.35 572.40 155.28 572.60 155.21 572.80 155.14 573.00 155.07 573.20 155.00 573.40 154.93 573.60 154.86 573.80 154.79 574.00 154.71 574.20 154.64 574.40 154.57 574.60 154.49 574.80 154.41 575.00 154.34 575.20 154.26 575.40 154.18 575.60 154.10 575.80 154.02 576.00 153.94 576.20 153.85 576.40 153.77 576.60 153.68 576.80 153.60 577.00 153.51 577.20 153.42 577.40 153.33 577.60 153.24 577.80 153.15 578.00 153.06 578.20 152.96 578.40 152.87 578.60 152.77 578.80 152.67 579.00 152.57 579.20 152.47 579.40 152.37 579.60 152.27 579.80 152.16 580.00 152.05 580.20 151.94 580.40 151.83 580.60 151.72 580.80 151.61 581.00 151.49 581.20 151.37 581.40 151.25 581.60 151.13 581.80 151.00 582.00 150.88 582.20 150.75 582.40 150.61 582.60 150.48 582.80 150.34 583.00 150.20 583.20 150.06 583.40 149.91 583.60 149.76 583.80 149.61 584.00 149.46 584.20 149.30 584.40 149.13 584.60 148.97 584.80 148.80 585.00 148.62 585.20 148.44 585.40 148.26 585.60 148.07 585.80 147.88 586.00 147.69 586.20 147.49 586.40 147.28 586.60 147.07 586.80 146.85 587.00 146.63 587.20 146.40 587.40 146.16 587.60 145.92 587.80 145.66 588.00 145.40 588.20 145.13 588.40 144.84 588.60 144.55 588.80 144.24 589.00 143.92 589.20 143.59 589.40 143.24 589.60 142.87 589.80 142.49 590.00 142.09 590.20 141.67 590.40 141.24 590.60 140.78 590.80 140.30 591.00 139.81 591.20 139.31 591.40 138.80 591.60 138.29 591.80 137.81 592.00 137.37 592.20 137.00 592.40 136.74 592.60 136.61 592.80 136.63 593.00 136.80 593.20 137.11 593.40 137.52 593.60 138.00 593.80 138.53 594.00 139.08 594.20 139.64 594.40 140.19 594.60 140.73 594.80 141.25 595.00 141.75 595.20 142.24 595.40 142.71 595.60 143.15 595.80 143.58 596.00 143.99 596.20 144.39 596.40 144.77 596.60 145.14 596.80 145.49 597.00 145.82 597.20 146.15 597.40 146.46 597.60 146.77 597.80 147.06 598.00 147.34 598.20 147.61 598.40 147.87 598.60 148.13 598.80 148.37 599.00 148.61 599.20 148.84 599.40 149.06 599.60 149.27 599.80 149.48 600.00 149.68 600.20 149.87 600.40 150.06 600.60 150.24 600.80 150.41 601.00 150.58 601.20 150.75 601.40 150.91 601.60 151.07 601.80 151.22 602.00 151.37 602.20 151.51 602.40 151.65 602.60 151.79 602.80 151.92 603.00 152.05 603.20 152.18 603.40 152.30 603.60 152.42 603.80 152.54 604.00 152.65 604.20 152.77 604.40 152.87 604.60 152.98 604.80 153.08 605.00 153.19 605.20 153.28 605.40 153.38 605.60 153.47 605.80 153.57 606.00 153.66 606.20 153.74 606.40 153.83 606.60 153.91 606.80 154.00 607.00 154.08 607.20 154.16 607.40 154.23 607.60 154.31 607.80 154.38 608.00 154.46 608.20 154.53 608.40 154.60 608.60 154.67 608.80 154.73 609.00 154.80 609.20 154.86 609.40 154.93 609.60 154.99 609.80 155.05 610.00 155.11 610.20 155.17 610.40 155.23 610.60 155.29 610.80 155.34 611.00 155.40 611.20 155.46 611.40 155.51 611.60 155.56 611.80 155.62 612.00 155.67 612.20 155.72 612.40 155.77 612.60 155.82 612.80 155.88 613.00 155.93 613.20 155.98 613.40 156.02 613.60 156.07 613.80 156.12 614.00 156.17 614.20 156.22 614.40 156.27 614.60 156.32 614.80 156.36 615.00 156.41 615.20 156.46 615.40 156.51 615.60 156.55 615.80 156.60 616.00 156.65 616.20 156.70 616.40 156.74 616.60 156.79 616.80 156.84 617.00 156.89 617.20 156.94 617.40 156.98 617.60 157.03 617.80 157.08 618.00 157.13 618.20 157.18 618.40 157.23 618.60 157.28 618.80 157.33 619.00 157.39 619.20 157.44 619.40 157.49 619.60 157.54 619.80 157.60 620.00 157.65 620.20 157.71 620.40 157.76 620.60 157.82 620.80 157.87 621.00 157.92 621.20 157.97 621.40 158.03 621.60 158.08 621.80 158.13 622.00 158.18 622.20 158.23 622.40 158.28 622.60 158.33 622.80 158.38 623.00 158.43 623.20 158.48 623.40 158.53 623.60 158.58 623.80 158.63 624.00 158.67 624.20 158.72 624.40 158.77 624.60 158.82 624.80 158.86 625.00 158.91 625.20 158.96 625.40 159.00 625.60 159.05 625.80 159.09 626.00 159.14 626.20 159.18 626.40 159.23 626.60 159.27 626.80 159.32 627.00 159.36 627.20 159.40 627.40 159.45 627.60 159.49 627.80 159.53 628.00 159.58 628.20 159.62 628.40 159.66 628.60 159.70 628.80 159.75 629.00 159.79 629.20 159.83 629.40 159.87 629.60 159.91 629.80 159.95 630.00 159.99 630.20 160.03 630.40 160.07 630.60 160.11 630.80 160.15 631.00 160.19 631.20 160.23 631.40 160.27 631.60 160.31 631.80 160.35 632.00 160.38 632.20 160.42 632.40 160.46 632.60 160.50 632.80 160.54 633.00 160.57 633.20 160.61 633.40 160.65 633.60 160.69 633.80 160.72 634.00 160.76 634.20 160.79 634.40 160.83 634.60 160.87 634.80 160.90 635.00 160.94 635.20 160.97 635.40 161.01 635.60 161.05 635.80 161.08 636.00 161.12 636.20 161.15 636.40 161.18 636.60 161.22 636.80 161.25 637.00 161.29 637.20 161.32 637.40 161.36 637.60 161.39 637.80 161.42 638.00 161.46 638.20 161.49 638.40 161.52 638.60 161.56 638.80 161.59 639.00 161.62 639.20 161.65 639.40 161.69 639.60 161.72 639.80 161.75 640.00 161.78 640.20 161.82 640.40 161.85 640.60 161.88 640.80 161.91 641.00 161.94 641.20 161.97 641.40 162.01 641.60 162.04 641.80 162.07 642.00 162.10 642.20 162.13 642.40 162.16 642.60 162.19 642.80 162.22 643.00 162.25 643.20 162.28 643.40 162.31 643.60 162.34 643.80 162.37 644.00 162.40 644.20 162.43 644.40 162.46 644.60 162.49 644.80 162.52 645.00 162.55 645.20 162.58 645.40 162.60 645.60 162.63 645.80 162.66 646.00 162.69 646.20 162.72 646.40 162.75 646.60 162.78 646.80 162.80 647.00 162.83 647.20 162.86 647.40 162.89 647.60 162.92 647.80 162.94 648.00 162.97 648.20 163.00 648.40 163.03 648.60 163.05 648.80 163.08 649.00 163.11 649.20 163.13 649.40 163.16 649.60 163.19 649.80 163.22 650.00 163.24 650.20 163.27 650.40 163.29 650.60 163.32 650.80 163.35 651.00 163.37 651.20 163.40 651.40 163.43 651.60 163.45 651.80 163.48 652.00 163.50 652.20 163.53 652.40 163.56 652.60 163.58 652.80 163.61 653.00 163.63 653.20 163.66 653.40 163.68 653.60 163.71 653.80 163.73 654.00 163.76 654.20 163.78 654.40 163.81 654.60 163.83 654.80 163.86 655.00 163.88 655.20 163.91 655.40 163.93 655.60 163.95 655.80 163.98 656.00 164.00 656.20 164.03 656.40 164.05 656.60 164.08 656.80 164.10 657.00 164.12 657.20 164.15 657.40 164.17 657.60 164.19 657.80 164.22 658.00 164.24 658.20 164.26 658.40 164.29 658.60 164.31 658.80 164.33 659.00 164.36 659.20 164.38 659.40 164.40 659.60 164.43 659.80 164.45" fill="none" stroke="#e4601f" stroke-width="2.3" stroke-linejoin="round" />
<rect x="459.7" y="86.7" width="97.40000000000003" height="17.299999999999997" fill="#fff"/>
<rect x="584" y="88.4" width="52" height="17.299999999999997" fill="#fff"/>
<text x="461.7" y="100.9" font-size="15.3">Measurement</text>
<text x="587.9" y="102" font-size="15.3">Modell</text>
<line x1="495.3" y1="104.8" x2="535.5" y2="149.5" stroke="#222" stroke-width="0.9"/>
<line x1="604.6" y1="105" x2="593.6" y2="139.9" stroke="#222" stroke-width="0.9"/>
<path d="M420.5 192H408V23H660.5V192H437.7" fill="none" stroke="#383434" stroke-width="1.9"/>
<path d="M426.50 189.50C428.50 190.40 428.40 192.90 427.00 194.40S425.40 198.40 427.80 199.20" fill="none" stroke="#222" stroke-width="1.9" stroke-linecap="round"/>
<path d="M431.00 189.50C433.00 190.40 432.90 192.90 431.50 194.40S429.90 198.40 432.30 199.20" fill="none" stroke="#222" stroke-width="1.9" stroke-linecap="round"/>
<text x="405.2" y="27.80" text-anchor="end" font-size="15.2">10<tspan dy="-5.2" font-size="13">0</tspan></text>
<text x="406.4" y="60.00" text-anchor="end" font-size="15.2">m/N</text>
<text x="405.2" y="95.50" text-anchor="end" font-size="15.2">10<tspan dy="-5.2" font-size="13">-4</tspan></text>
<text x="405.2" y="129.60" text-anchor="end" font-size="15.2">10<tspan dy="-5.2" font-size="13">-6</tspan></text>
<text x="405.2" y="163.70" text-anchor="end" font-size="15.2">10<tspan dy="-5.2" font-size="13">-8</tspan></text>
<text x="405.2" y="197.80" text-anchor="end" font-size="15.2">10<tspan dy="-5.2" font-size="13">-10</tspan></text>
<text x="407.7" y="210.4" text-anchor="middle" font-size="15.2">0</text>
<text x="458.4" y="210.4" text-anchor="middle" font-size="15.2">1,100</text>
<text x="508.4" y="210.4" text-anchor="middle" font-size="15.2">1,200</text>
<text x="559.4" y="210.4" text-anchor="middle" font-size="15.2">1,300</text>
<text x="609.8" y="210.4" text-anchor="middle" font-size="15.2">Hz</text>
<text x="660.3" y="210.4" text-anchor="middle" font-size="15.2">1,500</text>
<line x1="110.60" y1="274.7" x2="110.60" y2="445" stroke="#3c3838" stroke-width="1.3"/>
<line x1="161.20" y1="274.7" x2="161.20" y2="445" stroke="#3c3838" stroke-width="1.3"/>
<line x1="211.80" y1="274.7" x2="211.80" y2="445" stroke="#3c3838" stroke-width="1.3"/>
<line x1="262.40" y1="274.7" x2="262.40" y2="445" stroke="#3c3838" stroke-width="1.3"/>
<line x1="60" y1="308.76" x2="313" y2="308.76" stroke="#3c3838" stroke-width="1.3"/>
<line x1="60" y1="342.82" x2="313" y2="342.82" stroke="#3c3838" stroke-width="1.3"/>
<line x1="60" y1="376.88" x2="313" y2="376.88" stroke="#a0a0a0" stroke-width="1.3"/>
<line x1="60" y1="410.94" x2="313" y2="410.94" stroke="#3c3838" stroke-width="1.3"/>
<path d="M60.60 335.15 60.90 346.33 61.20 342.77 61.50 351.76 61.80 346.69 62.10 362.83 62.40 348.76 62.70 367.52 63.00 350.15 63.30 370.14 63.60 351.62 63.90 372.25 64.20 352.43 64.50 374.76 64.80 353.68 65.10 376.77 65.40 355.24 65.70 377.91 66.00 357.44 66.30 378.98 66.60 359.24 66.90 379.04 67.20 360.47 67.50 380.14 67.80 360.80 68.10 380.00 68.40 361.71 68.70 380.93 69.00 362.66 69.30 380.84 69.60 363.92 69.90 381.45 70.20 364.54 70.50 381.38 70.80 365.73 71.10 381.40 71.40 366.31 71.70 381.65 72.00 367.03 72.30 381.77 72.60 367.91 72.90 381.84 73.20 368.52 73.50 381.53 73.80 369.16 74.10 381.66 74.40 369.84 74.70 381.84 75.00 370.20 75.30 381.78 75.60 370.92 75.90 381.58 76.20 371.51 76.50 381.56 76.80 372.20 77.10 381.36 77.40 372.75 77.70 381.34 78.00 373.04 78.30 381.39 78.60 373.69 78.90 381.25 79.20 374.20 79.50 381.19 79.80 374.76 80.10 381.08 80.40 375.08 80.70 380.85 81.00 375.64 81.30 380.73 81.60 376.03 81.90 380.59 82.20 376.41 82.50 380.28 82.80 376.85 83.10 380.10 83.40 377.12 83.70 380.00 84.00 377.62 84.30 379.98 84.60 378.01 84.90 379.96 85.20 378.50 85.50 379.95 85.80 378.98 86.10 379.98 86.40 379.22 86.70 380.01 87.00 379.23 87.30 380.35 87.60 379.25 87.90 380.98 88.20 379.21 88.50 381.79 88.80 379.31 89.10 382.52 89.40 379.31 89.70 383.22 90.00 379.33 90.30 384.18 90.60 379.19 90.90 385.06 91.20 379.16 91.50 385.93 91.80 379.16 92.10 386.72 92.40 379.19 92.70 387.49 93.00 379.08 93.30 388.30 93.60 378.95 93.90 388.88 94.20 378.31 94.50 389.68 94.80 378.27 95.10 390.24 95.40 377.87 95.70 390.89 96.00 377.92 96.30 391.52 96.60 377.50 96.90 392.04 97.20 376.99 97.50 392.57 97.80 376.70 98.10 392.76 98.40 376.50 98.70 393.00 99.00 376.10 99.30 392.65 99.60 375.70 99.90 392.10 100.20 374.86 100.50 390.79 100.80 374.60 101.10 390.29 101.40 374.20 101.70 389.28 102.00 373.64 102.30 388.42 102.60 373.08 102.90 387.53 103.20 372.36 103.50 386.63 103.80 371.88 104.10 386.06 104.40 371.05 104.70 384.99 105.00 370.61 105.30 384.17 105.60 369.93 105.90 383.00 106.20 369.03 106.50 381.81 106.80 368.61 107.10 380.09 107.40 367.35 107.70 377.89 108.00 366.08 108.30 375.72 108.60 364.74 108.90 373.45 109.20 362.43 109.50 370.85 109.80 359.84 110.10 367.58 110.40 356.44 110.70 363.06 111.00 351.86" fill="none" stroke="#1a74b8" stroke-width="0.9" stroke-linejoin="round" />
<path d="M110.6 360 L111.5 343.2 L112.3 342.4 L113.1 352 L114.2 366 Z" fill="#1a74b8"/>
<path d="M112.60 350.01 112.90 361.91 113.20 355.38 113.50 371.06 113.80 363.03 114.10 373.95 114.40 366.56 114.70 375.64 115.00 367.37 115.30 376.82 115.60 368.25 115.90 377.76 116.20 369.55 116.50 378.80 116.80 370.63 117.10 379.19 117.40 371.14 117.70 379.68 118.00 371.83 118.30 380.19 118.60 372.21 118.90 380.82 119.20 372.83 119.50 381.11 119.80 373.04 120.10 381.51 120.40 373.55 120.70 381.93 121.00 373.88 121.30 382.47 121.60 374.24 121.90 382.86 122.20 374.24 122.50 383.10 122.80 374.78 123.10 383.43 123.40 374.96 123.70 383.99 124.00 375.33 124.30 384.53 124.60 375.60 124.90 384.99 125.20 375.62 125.50 385.18 125.80 376.12 126.10 385.66 126.40 376.27 126.70 385.93 127.00 376.66 127.30 386.54 127.60 376.71 127.90 386.80 128.20 377.23 128.50 387.18 128.80 377.19 129.10 387.85 129.40 377.55 129.70 388.28 130.00 377.81 130.30 388.70 130.60 377.82 130.90 389.11 131.20 377.82 131.50 389.44 131.80 378.13 132.10 389.64 132.40 378.38 132.70 389.98 133.00 378.47 133.30 390.52 133.60 378.72 133.90 390.92 134.20 378.73 134.50 391.21 134.80 379.04 135.10 391.55 135.40 378.88 135.70 392.14 136.00 379.13 136.30 392.38 136.60 379.14 136.90 393.08 137.20 379.50 137.50 393.22 137.80 379.67 138.10 394.11 138.40 379.63 138.70 394.36 139.00 379.92 139.30 394.81 139.60 379.74 139.90 395.66 140.20 380.27 140.50 395.63 140.80 380.21 141.10 396.30 141.40 380.34 141.70 397.02 142.00 380.30 142.30 397.48 142.60 380.43 142.90 397.99 143.20 380.67 143.50 398.58 143.80 380.45 144.10 398.87 144.40 381.08 144.70 399.29 145.00 380.81 145.30 399.91 145.60 381.26 145.90 400.13 146.20 381.28 146.50 400.85 146.80 381.75 147.10 401.66 147.40 381.91 147.70 402.28 148.00 381.53 148.30 402.44 148.60 382.01 148.90 402.10 149.20 382.13 149.50 401.50 149.80 382.06 150.10 400.92 150.40 381.96 150.70 400.66 151.00 382.39 151.30 400.08 151.60 381.98 151.90 399.38 152.20 382.33 152.50 398.77 152.80 382.30 153.10 397.75 153.40 382.38 153.70 397.25 154.00 382.74 154.30 396.43 154.60 382.69 154.90 396.26 155.20 382.98 155.50 395.61 155.80 383.03 156.10 395.05 156.40 382.71 156.70 394.16 157.00 383.10 157.30 393.92 157.60 382.99 157.90 393.09 158.20 382.97 158.50 392.54 158.80 383.02 159.10 392.09 159.40 383.10 159.70 391.52 160.00 383.14 160.30 391.13 160.60 383.23 160.90 390.52 161.20 383.29 161.50 390.27 161.80 383.27 162.10 390.04 162.40 383.12 162.70 389.86 163.00 383.02 163.30 389.79 163.60 382.95 163.90 389.69 164.20 382.79 164.50 389.48 164.80 382.58" fill="none" stroke="#1a74b8" stroke-width="0.9" stroke-linejoin="round" />
<path d="M164.00 383.37 164.30 388.80 164.60 382.92 164.90 389.33 165.20 382.57 165.50 389.47 165.80 382.62 166.10 389.01 166.40 381.94 166.70 389.26 167.00 381.72 167.30 388.93 167.60 381.76 167.90 389.74 168.20 380.97 168.50 389.03 168.80 381.07 169.10 389.41 169.40 381.26 169.70 389.61 170.00 381.26 170.30 389.21 170.60 380.31 170.90 389.39 171.20 381.21 171.50 389.39 171.80 380.34 172.10 390.00 172.40 381.03 172.70 389.74 173.00 380.31 173.30 390.50 173.60 380.40 173.90 393.04 174.20 379.87 174.50 392.17 174.80 381.17 175.10 391.92 175.40 380.04 175.70 390.84 176.00 380.72 176.30 390.47 176.60 379.47 176.90 390.14 177.20 379.22 177.50 389.98 177.80 378.75 178.10 388.81 178.40 379.48 178.70 388.87 179.00 378.52 179.30 388.28 179.60 378.48 179.90 387.83 180.20 378.44 180.50 386.89 180.80 377.94 181.10 386.41 181.40 377.52 181.70 385.38 182.00 377.34 182.30 384.75 182.60 377.97 182.90 384.85 183.20 377.26 183.50 384.27 183.80 377.58 184.10 385.02 184.40 377.95 184.70 385.16 185.00 377.74 185.30 385.06 185.60 378.04 185.90 385.28 186.20 376.04 186.50 385.09 186.80 378.04 187.10 385.24 187.40 378.24 187.70 385.57 188.00 378.51 188.30 387.76 188.60 378.45 188.90 387.00 189.20 379.07 189.50 385.68 189.80 379.41 190.10 385.74 190.40 379.50 190.70 385.56 191.00 379.81 191.30 386.16 191.60 380.15 191.90 386.45 192.20 380.93 192.50 385.88 192.80 381.21 193.10 386.21 193.40 381.40 193.70 386.10 194.00 381.29 194.30 386.34 194.60 381.42 194.90 386.30 195.20 381.91 195.50 388.85 195.80 382.32 196.10 386.64 196.40 382.41 196.70 386.65 197.00 382.63 197.30 387.12 197.60 382.90 197.90 387.81 198.20 383.24 198.50 387.38 198.80 383.36 199.10 387.41 199.40 383.32 199.70 387.34 200.00 383.33 200.30 387.77 200.60 383.09 200.90 387.60 201.20 382.79 201.50 389.72 201.80 382.95 202.10 388.29 202.40 383.13 202.70 387.94 203.00 382.80 203.30 387.97 203.60 383.03 203.90 387.65 204.20 383.04 204.50 388.34 204.80 380.43 205.10 388.33 205.40 383.08 205.70 387.75 206.00 382.66 206.30 388.16 206.60 382.38 206.90 388.10 207.20 382.71 207.50 388.09 207.80 382.13 208.10 388.35 208.40 382.36 208.70 388.30 209.00 381.38 209.30 388.74 209.60 381.45 209.90 388.90 210.20 381.40 210.50 389.28 210.80 381.54" fill="none" stroke="#1a74b8" stroke-width="1.0" stroke-linejoin="round" />
<path d="M210.00 379.48 210.30 390.83 210.60 376.52 210.90 393.30 211.20 381.14 211.50 388.93 211.80 380.69 212.10 389.42 212.40 380.88 212.70 390.44 213.00 379.78 213.30 389.87 213.60 381.38 213.90 394.51 214.20 381.73 214.50 392.37 214.80 380.18 215.10 392.74 215.40 381.98 215.70 392.57 216.00 376.33 216.30 392.73 216.60 376.45 216.90 393.73 217.20 382.38 217.50 392.46 217.80 382.85 218.10 393.95 218.40 382.18 218.70 394.11 219.00 381.26 219.30 394.11 219.60 382.60 219.90 392.91 220.20 382.06 220.50 393.89 220.80 381.79 221.10 393.86 221.40 382.94 221.70 393.80 222.00 381.74 222.30 397.24 222.60 381.60 222.90 392.98 223.20 382.30 223.50 393.36 223.80 382.59 224.10 393.61 224.40 382.91 224.70 393.83 225.00 383.41 225.30 393.80 225.60 382.60 225.90 393.22 226.20 377.62 226.50 393.88 226.80 382.65 227.10 393.51 227.40 381.49 227.70 392.98 228.00 381.81 228.30 392.91 228.60 379.06 228.90 391.86 229.20 382.87 229.50 393.59 229.80 382.64 230.10 391.59 230.40 381.66 230.70 392.61 231.00 381.70 231.30 393.25 231.60 382.07 231.90 394.47 232.20 381.00 232.50 392.19 232.80 382.23 233.10 393.11 233.40 381.68 233.70 391.21 234.00 382.20 234.30 392.76 234.60 381.00 234.90 393.10 235.20 378.45 235.50 392.96 235.80 379.75 236.10 391.24 236.40 381.77 236.70 391.26 237.00 381.62 237.30 393.13 237.60 380.64 237.90 391.31 238.20 380.51 238.50 392.46 238.80 381.21 239.10 391.78 239.40 382.33 239.70 391.80 240.00 380.50 240.30 393.60 240.60 381.39 240.90 393.47 241.20 381.21 241.50 392.48 241.80 381.46 242.10 393.24 242.40 381.29 242.70 396.74 243.00 382.11 243.30 394.28 243.60 381.51 243.90 396.47 244.20 382.56 244.50 394.13 244.80 382.30 245.10 393.28 245.40 380.57 245.70 395.39 246.00 380.43 246.30 395.26 246.60 382.14 246.90 395.63 247.20 382.31 247.50 394.07 247.80 382.65 248.10 394.81 248.40 377.65 248.70 393.33 249.00 381.69 249.30 394.54 249.60 381.77 249.90 393.53 250.20 382.48 250.50 393.91 250.80 380.80 251.10 395.75 251.40 380.34 251.70 393.51 252.00 381.11 252.30 394.69 252.60 382.26 252.90 399.14 253.20 380.45 253.50 393.68 253.80 382.43 254.10 393.71 254.40 380.01 254.70 394.74 255.00 380.81 255.30 392.82 255.60 380.41 255.90 394.33 256.20 379.78 256.50 394.25 256.80 381.93 257.10 394.21 257.40 381.68 257.70 392.56 258.00 380.06 258.30 394.18 258.60 380.79 258.90 394.95 259.20 379.66 259.50 392.37 259.80 382.07 260.10 393.19 260.40 377.82 260.70 393.59 261.00 380.78 261.30 392.27 261.60 380.49 261.90 392.11 262.20 381.17 262.50 393.18 262.80 381.44 263.10 392.36 263.40 380.71 263.70 391.77 264.00 380.33 264.30 391.45 264.60 380.02 264.90 392.76 265.20 379.16 265.50 392.08 265.80 380.98 266.10 393.16 266.40 380.49 266.70 392.43 267.00 375.94 267.30 391.69 267.60 379.72 267.90 393.04 268.20 374.53 268.50 391.64 268.80 380.12 269.10 391.89 269.40 379.26 269.70 393.24 270.00 381.89 270.30 395.11 270.60 382.22 270.90 393.54 271.20 380.85 271.50 393.73 271.80 383.14 272.10 396.28 272.40 384.41 272.70 397.03 273.00 384.60 273.30 395.99 273.60 384.36 273.90 397.10 274.20 381.70 274.50 398.49 274.80 384.00 275.10 398.87 275.40 384.37 275.70 397.76 276.00 384.94 276.30 398.44 276.60 384.24 276.90 397.60 277.20 384.12 277.50 399.53 277.80 385.47 278.10 399.36 278.40 383.13 278.70 399.12 279.00 385.50 279.30 397.78 279.60 383.50 279.90 398.08 280.20 385.66 280.50 401.10 280.80 384.91 281.10 397.64 281.40 384.46 281.70 400.18 282.00 383.84 282.30 399.25 282.60 383.37 282.90 397.50 283.20 386.12 283.50 397.67 283.80 381.27 284.10 398.80 284.40 384.49 284.70 398.45 285.00 383.83 285.30 397.96 285.60 384.53 285.90 397.87 286.20 383.68 286.50 399.21 286.80 385.71 287.10 397.83 287.40 385.28 287.70 399.91 288.00 385.99 288.30 398.04 288.60 379.32 288.90 399.31 289.20 384.59 289.50 397.36 289.80 383.75 290.10 397.46 290.40 385.33 290.70 399.32 291.00 382.95 291.30 399.75 291.60 384.70 291.90 399.07 292.20 385.16 292.50 399.95 292.80 384.27 293.10 398.30 293.40 385.12 293.70 397.99 294.00 383.39 294.30 399.33 294.60 383.60 294.90 398.42 295.20 385.61 295.50 398.87 295.80 382.96 296.10 399.20 296.40 383.86 296.70 399.11 297.00 383.22 297.30 397.88 297.60 384.67 297.90 398.52 298.20 382.79 298.50 399.00 298.80 384.95 299.10 398.42 299.40 384.52 299.70 403.33 300.00 385.72 300.30 400.69 300.60 386.08 300.90 399.05 301.20 385.99 301.50 398.72 301.80 381.79 302.10 398.72 302.40 385.90 302.70 399.57 303.00 384.23 303.30 400.03 303.60 384.04 303.90 401.32 304.20 385.27 304.50 400.42 304.80 385.08 305.10 401.32 305.40 385.87 305.70 401.93 306.00 385.82 306.30 401.18 306.60 385.87 306.90 401.86 307.20 386.64 307.50 400.63 307.80 385.66 308.10 401.41 308.40 386.92 308.70 400.44 309.00 386.59 309.30 405.60 309.60 383.90 309.90 399.72 310.20 387.93 310.50 400.12 310.80 386.23 311.10 399.63 311.40 386.33 311.70 398.04 312.00 386.85 312.30 396.11" fill="none" stroke="#1a74b8" stroke-width="1.0" stroke-linejoin="round" />
<line x1="177.5" y1="386.2" x2="177.5" y2="394.2" stroke="#1a74b8" stroke-width="1.3"/>
<line x1="217.2" y1="388.5" x2="217.2" y2="396.5" stroke="#1a74b8" stroke-width="1.3"/>
<line x1="230" y1="388.5" x2="230" y2="396.5" stroke="#1a74b8" stroke-width="1.3"/>
<line x1="248.8" y1="389.7" x2="248.8" y2="397.7" stroke="#1a74b8" stroke-width="1.3"/>
<line x1="260.5" y1="386" x2="260.5" y2="394" stroke="#1a74b8" stroke-width="1.3"/>
<line x1="271" y1="392" x2="271" y2="400" stroke="#1a74b8" stroke-width="1.3"/>
<line x1="276.8" y1="393.5" x2="276.8" y2="401.5" stroke="#1a74b8" stroke-width="1.3"/>
<line x1="286.2" y1="392" x2="286.2" y2="400" stroke="#1a74b8" stroke-width="1.3"/>
<line x1="293.2" y1="391" x2="293.2" y2="399" stroke="#1a74b8" stroke-width="1.3"/>
<line x1="302.5" y1="394.4" x2="302.5" y2="402.4" stroke="#1a74b8" stroke-width="1.3"/>
<line x1="307.2" y1="400.2" x2="307.2" y2="408.2" stroke="#1a74b8" stroke-width="1.3"/>
<line x1="309.5" y1="396.7" x2="309.5" y2="404.7" stroke="#1a74b8" stroke-width="1.3"/>
<line x1="183.4" y1="382" x2="183.4" y2="375.5" stroke="#1a74b8" stroke-width="1.3"/>
<path d="M267.2 388 L268.2 366.5 L269.4 365.3 L270.4 380 L271 392 Z" fill="#1a74b8"/>
<path d="M60.15 304.58 60.17 306.44 60.19 308.08 60.21 309.56 60.23 310.91 60.25 312.14 60.27 313.28 60.29 314.34 60.31 315.33 60.33 316.26 60.35 317.13 60.37 317.95 60.39 318.73 60.41 319.47 60.43 320.18 60.45 320.85 60.47 321.50 60.49 322.11 60.50 322.41 60.70 327.41 60.90 331.14 61.10 334.12 61.30 336.61 61.50 338.75 61.70 340.62 61.90 342.29 62.10 343.79 62.30 345.16 62.50 346.42 62.70 347.59 62.90 348.67 63.10 349.69 63.30 350.64 63.50 351.55 63.70 352.40 63.90 353.22 64.10 353.99 64.30 354.74 64.50 355.45 64.70 356.13 64.90 356.79 65.10 357.43 65.30 358.05 65.50 358.64 65.70 359.22 65.90 359.78 66.10 360.33 66.30 360.86 66.50 361.38 66.70 361.88 66.90 362.38 67.10 362.86 67.30 363.34 67.50 363.80 67.70 364.26 67.90 364.71 68.10 365.15 68.30 365.58 68.50 366.01 68.70 366.43 68.90 366.85 69.10 367.26 69.30 367.66 69.50 368.06 69.70 368.45 69.90 368.85 70.10 369.23 70.30 369.62 70.50 370.00 70.70 370.37 70.90 370.75 71.10 371.12 71.30 371.48 71.50 371.85 71.70 372.21 71.90 372.57 72.10 372.93 72.30 373.29 72.50 373.65 72.70 374.00 72.90 374.36 73.10 374.71 73.30 375.06 73.50 375.41 73.70 375.76 73.90 376.11 74.10 376.46 74.30 376.81 74.50 377.16 74.70 377.51 74.90 377.86 75.10 378.21 75.30 378.57 75.50 378.92 75.70 379.28 75.90 379.63 76.10 379.99 76.30 380.36 76.50 380.72 76.70 381.09 76.90 381.46 77.10 381.84 77.30 382.22 77.50 382.60 77.70 383.00 77.90 383.39 78.10 383.80 78.30 384.21 78.50 384.63 78.70 385.06 78.90 385.50 79.10 385.96 79.30 386.42 79.50 386.90 79.70 387.40 79.90 387.92 80.10 388.46 80.30 389.03 80.50 389.62 80.70 390.25 80.90 390.91 81.10 391.62 81.30 392.39 81.50 393.23 81.70 394.14 81.90 395.16 82.00 395.72 82.02 395.84 82.04 395.95 82.06 396.07 82.08 396.19 82.10 396.32 82.10 396.32 82.12 396.44 82.14 396.57 82.16 396.70 82.18 396.83 82.20 396.96 82.22 397.09 82.24 397.23 82.26 397.37 82.28 397.51 82.30 397.65 82.30 397.65 82.32 397.80 82.34 397.95 82.36 398.10 82.38 398.26 82.40 398.41 82.42 398.58 82.44 398.74 82.46 398.91 82.48 399.08 82.50 399.25 82.50 399.25 82.52 399.43 82.54 399.61 82.56 399.80 82.58 399.99 82.60 400.19 82.62 400.39 82.64 400.59 82.66 400.80 82.68 401.02 82.70 401.25 82.70 401.25 82.72 401.47 82.74 401.71 82.76 401.96 82.78 402.21 82.80 402.47 82.82 402.74 82.84 403.02 82.86 403.31 82.88 403.61 82.90 403.92 82.90 403.92 82.92 404.24 82.94 404.59 82.96 404.94 82.98 405.31 83.00 405.71 83.02 406.25 83.04 406.79 83.06 407.33 83.08 407.87 83.10 408.42 83.10 408.42 83.12 408.96 83.14 409.50 83.16 410.04 83.18 410.58 83.20 411.12 83.22 411.67 83.24 412.21 83.26 412.75 83.28 413.29 83.30 413.83 83.30 413.83 83.32 414.37 83.34 414.92 83.36 415.46 83.38 416.00 83.40 415.46 83.42 414.91 83.44 414.37 83.46 413.83 83.48 413.29 83.50 412.74 83.50 412.74 83.52 412.20 83.54 411.66 83.56 411.11 83.58 410.57 83.60 410.03 83.62 409.48 83.64 408.94 83.66 408.40 83.68 407.86 83.70 407.31 83.70 407.31 83.72 406.77 83.74 406.23 83.76 405.68 83.78 405.32 83.80 404.97 83.82 404.63 83.84 404.32 83.86 404.01 83.88 403.72 83.90 403.44 83.90 403.44 83.92 403.17 83.94 402.91 83.96 402.66 83.98 402.41 84.00 402.18 84.02 401.95 84.04 401.73 84.06 401.52 84.08 401.31 84.10 401.11 84.10 401.11 84.12 400.92 84.14 400.73 84.16 400.54 84.18 400.36 84.20 400.19 84.22 400.01 84.24 399.85 84.26 399.68 84.28 399.52 84.30 399.37 84.30 399.37 84.32 399.21 84.34 399.07 84.36 398.92 84.38 398.78 84.40 398.64 84.42 398.50 84.44 398.36 84.46 398.23 84.48 398.10 84.50 397.97 84.50 397.97 84.52 397.85 84.54 397.73 84.56 397.61 84.58 397.49 84.60 397.37 84.62 397.26 84.64 397.14 84.66 397.03 84.68 396.92 84.70 396.82 84.70 396.82 84.72 396.71 84.74 396.61 84.76 396.50 84.78 396.40 84.80 396.30 84.82 396.20 84.84 396.11 84.86 396.01 84.88 395.92 84.90 395.83 84.90 395.83 84.92 395.73 84.94 395.64 84.96 395.55 84.98 395.47 85.10 394.96 85.30 394.20 85.50 393.51 85.70 392.89 85.90 392.32 86.10 391.79 86.30 391.30 86.50 390.85 86.70 390.43 86.90 390.03 87.10 389.65 87.30 389.29 87.50 388.95 87.70 388.63 87.90 388.32 88.10 388.02 88.30 387.74 88.50 387.46 88.70 387.20 88.90 386.94 89.10 386.70 89.30 386.46 89.50 386.23 89.70 386.00 89.90 385.78 90.10 385.56 90.30 385.35 90.50 385.15 90.70 384.95 90.90 384.75 91.10 384.56 91.30 384.36 91.50 384.18 91.70 383.99 91.90 383.81 92.10 383.63 92.30 383.45 92.50 383.28 92.70 383.10 92.90 382.93 93.10 382.76 93.30 382.59 93.50 382.42 93.70 382.25 93.90 382.08 94.10 381.91 94.30 381.75 94.50 381.58 94.70 381.42 94.90 381.25 95.10 381.09 95.30 380.92 95.50 380.76 95.70 380.59 95.90 380.43 96.10 380.26 96.30 380.10 96.50 379.93 96.70 379.77 96.90 379.60 97.10 379.44 97.30 379.27 97.50 379.11 97.70 378.94 97.90 378.77 98.10 378.60 98.30 378.43 98.50 378.27 98.70 378.10 98.90 377.93 99.10 377.75 99.30 377.58 99.50 377.41 99.70 377.24 99.90 377.06 100.10 376.89 100.30 376.71 100.50 376.53 100.70 376.35 100.90 376.17 101.10 375.99 101.30 375.81 101.50 375.62 101.70 375.44 101.90 375.25 102.10 375.06 102.30 374.87 102.50 374.67 102.70 374.48 102.90 374.28 103.10 374.07 103.30 373.87 103.50 373.66 103.70 373.45 103.90 373.23 104.10 373.01 104.30 372.78 104.50 372.55 104.70 372.32 104.90 372.08 105.10 371.83 105.30 371.58 105.50 371.32 105.70 371.06 105.90 370.79 106.10 370.50 106.30 370.21 106.50 369.91 106.70 369.60 106.90 369.28 107.10 368.94 107.30 368.59 107.50 368.22 107.70 367.84 107.90 367.43 108.10 367.01 108.30 366.56 108.50 366.08 108.70 365.57 108.90 365.03 109.10 364.44 109.30 363.80 109.50 363.11 109.70 362.34 109.90 361.49 110.10 360.53 110.30 359.42 110.50 358.12 110.50 358.12 110.52 357.98 110.54 357.83 110.56 357.68 110.58 357.53 110.60 357.37 110.62 357.21 110.64 357.05 110.66 356.89 110.68 356.72 110.70 356.54 110.70 356.54 110.72 356.30 110.74 356.06 110.76 355.82 110.78 355.58 110.80 355.33 110.82 355.09 110.84 354.85 110.86 354.61 110.88 354.37 110.90 354.13 110.90 354.13 110.92 353.89 110.94 353.64 110.96 353.40 110.98 353.16 111.00 352.92 111.02 352.68 111.04 352.44 111.06 352.19 111.08 351.95 111.10 351.71 111.10 351.71 111.12 351.47 111.14 351.23 111.16 350.99 111.18 350.75 111.20 350.50 111.22 350.26 111.24 350.02 111.26 349.78 111.28 349.54 111.30 349.30 111.30 349.30 111.32 349.06 111.34 348.81 111.36 348.57 111.38 348.33 111.40 348.09 111.42 347.85 111.44 347.61 111.46 347.37 111.48 347.12 111.50 346.88 111.50 346.88 111.52 346.64 111.54 346.40 111.56 346.64 111.58 346.88 111.60 347.13 111.62 347.37 111.64 347.61 111.66 347.85 111.68 348.09 111.70 348.34 111.70 348.34 111.72 348.58 111.74 348.82 111.76 349.06 111.78 349.31 111.80 349.55 111.82 349.79 111.84 350.03 111.86 350.27 111.88 350.52 111.90 350.76 111.90 350.76 111.92 351.00 111.94 351.24 111.96 351.48 111.98 351.73 112.00 351.97 112.02 352.21 112.04 352.45 112.06 352.69 112.08 352.94 112.10 353.18 112.10 353.18 112.12 353.42 112.14 353.66 112.16 353.91 112.18 354.15 112.20 354.39 112.22 354.63 112.24 354.87 112.26 355.12 112.28 355.36 112.30 355.60 112.30 355.60 112.32 355.84 112.34 356.08 112.36 356.33 112.38 356.57 112.40 356.74 112.42 356.91 112.44 357.08 112.46 357.24 112.48 357.40 112.50 357.56 112.50 357.56 112.52 357.71 112.54 357.86 112.56 358.01 112.58 358.15 112.60 358.29 112.62 358.43 112.64 358.57 112.66 358.70 112.68 358.83 112.70 358.96 112.70 358.96 112.72 359.09 112.74 359.22 112.76 359.34 112.78 359.46 112.80 359.58 112.82 359.69 112.84 359.81 112.86 359.92 112.88 360.04 112.90 360.15 112.90 360.15 112.92 360.25 112.94 360.36 112.96 360.47 112.98 360.57 113.10 361.17 113.30 362.06 113.50 362.87 113.70 363.59 113.90 364.25 114.10 364.86 114.30 365.43 114.50 365.95 114.70 366.45 114.90 366.91 115.10 367.35 115.30 367.76 115.50 368.15 115.70 368.53 115.90 368.88 116.10 369.22 116.30 369.55 116.50 369.87 116.70 370.17 116.90 370.46 117.10 370.74 117.30 371.02 117.50 371.28 117.70 371.53 117.90 371.78 118.10 372.02 118.30 372.25 118.50 372.48 118.70 372.70 118.90 372.92 119.10 373.13 119.30 373.33 119.50 373.53 119.70 373.73 119.90 373.92 120.10 374.10 120.30 374.29 120.50 374.46 120.70 374.64 120.90 374.81 121.10 374.98 121.30 375.14 121.50 375.30 121.70 375.46 121.90 375.62 122.10 375.77 122.30 375.92 122.50 376.07 122.70 376.21 122.90 376.35 123.10 376.49 123.30 376.63 123.50 376.77 123.70 376.90 123.90 377.03 124.10 377.16 124.30 377.29 124.50 377.42 124.70 377.54 124.90 377.67 125.10 377.79 125.30 377.91 125.50 378.03 125.70 378.15 125.90 378.26 126.10 378.38 126.30 378.49 126.50 378.60 126.70 378.71 126.90 378.82 127.10 378.93 127.30 379.04 127.50 379.15 127.70 379.25 127.90 379.36 128.10 379.46 128.30 379.57 128.50 379.67 128.70 379.77 128.90 379.88 129.10 379.98 129.30 380.08 129.50 380.18 129.70 380.28 129.90 380.38 130.10 380.48 130.30 380.57 130.50 380.67 130.70 380.77 130.90 380.87 131.10 380.96 131.30 381.06 131.50 381.16 131.70 381.25 131.90 381.35 132.10 381.44 132.30 381.54 132.50 381.63 132.70 381.73 132.90 381.82 133.10 381.92 133.30 382.01 133.50 382.11 133.70 382.20 133.90 382.29 134.10 382.39 134.30 382.48 134.50 382.57 134.70 382.67 134.90 382.76 135.10 382.85 135.30 382.95 135.50 383.04 135.70 383.13 135.90 383.22 136.10 383.31 136.30 383.40 136.50 383.50 136.70 383.59 136.90 383.68 137.10 383.77 137.30 383.86 137.50 383.94 137.70 384.03 137.90 384.12 138.10 384.21 138.30 384.30 138.50 384.39 138.70 384.47 138.90 384.56 139.10 384.65 139.30 384.73 139.50 384.82 139.70 384.90 139.90 384.99 140.10 385.07 140.30 385.16 140.50 385.24 140.70 385.33 140.90 385.41 141.10 385.49 141.30 385.58 141.50 385.66 141.70 385.74 141.90 385.82 142.10 385.90 142.30 385.99 142.50 386.07 142.70 386.15 142.90 386.23 143.10 386.31 143.30 386.39 143.50 386.48 143.70 386.56 143.90 386.64 144.10 386.72 144.30 386.80 144.50 386.88 144.70 386.96 144.90 387.04 145.10 387.13 145.30 387.21 145.50 387.29 145.70 387.37 145.90 387.45 146.10 387.54 146.30 387.62 146.50 387.70 146.70 387.78 146.90 387.86 147.10 387.95 147.30 388.03 147.50 388.11 147.70 388.20 147.90 388.28 148.10 388.36 148.30 388.44 148.50 388.53 148.70 388.61 148.90 388.69 149.10 388.77 149.30 388.85 149.50 388.94 149.70 389.02 149.90 389.10 150.10 389.18 150.30 389.26 150.50 389.34 150.70 389.41 150.90 389.49 151.10 389.57 151.30 389.64 151.50 389.72 151.70 389.79 151.90 389.87 152.10 389.94 152.30 390.01 152.50 390.08 152.70 390.15 152.90 390.22 153.10 390.29 153.30 390.36 153.50 390.43 153.70 390.49 153.90 390.56 154.10 390.63 154.30 390.69 154.50 390.75 154.70 390.82 154.90 390.88 155.10 390.94 155.30 391.00 155.50 391.06 155.70 391.12 155.90 391.18 156.10 391.24 156.30 391.30 156.50 391.36 156.70 391.42 156.90 391.48 157.10 391.54 157.30 391.60 157.50 391.65 157.70 391.71 157.90 391.77 158.10 391.83 158.30 391.88 158.50 391.94 158.70 392.00 158.90 392.06 159.10 392.11 159.30 392.17 159.50 392.23 159.70 392.29 159.90 392.34 160.10 392.40 160.30 392.46 160.50 392.52 160.70 392.57 160.90 392.63 161.10 392.69 161.30 392.75 161.50 392.81 161.70 392.87 161.90 392.93 162.10 392.99 162.30 393.04 162.50 393.10 162.70 393.16 162.90 393.22 163.10 393.29 163.30 393.35 163.50 393.41 163.70 393.47 163.90 393.53 164.10 393.59 164.30 393.65 164.50 393.72 164.70 393.78 164.90 393.84 165.10 393.90 165.30 393.97 165.50 394.03 165.70 394.10 165.90 394.16 166.10 394.23 166.30 394.29 166.50 394.36 166.70 394.42 166.90 394.49 167.10 394.55 167.30 394.62 167.50 394.69 167.70 394.76 167.90 394.82 168.10 394.89 168.30 394.96 168.50 395.03 168.70 395.10 168.90 395.17 169.10 395.24 169.30 395.31 169.50 395.39 169.70 395.46 169.90 395.53 170.10 395.60 170.30 395.68 170.50 395.75 170.70 395.83 170.90 395.90 171.10 395.98 171.30 396.06 171.50 396.13 171.70 396.21 171.90 396.29 172.10 396.37 172.30 396.45 172.50 396.53 172.70 396.62 172.90 396.70 173.10 396.78 173.30 396.87 173.50 396.95 173.70 397.04 173.90 397.13 174.10 397.22 174.30 397.30 174.50 397.39 174.70 397.49 174.90 397.58 175.10 397.67 175.30 397.76 175.50 397.86 175.70 397.95 175.90 398.05 176.10 398.14 176.30 398.24 176.50 398.34 176.70 398.44 176.90 398.54 177.10 398.64 177.30 398.74 177.50 398.84 177.70 398.94 177.90 399.04 178.10 399.15 178.30 399.25 178.50 399.35 178.70 399.46 178.90 399.56 179.10 399.67 179.30 399.78 179.50 399.88 179.70 399.99 179.90 400.10 180.10 400.21 180.30 400.32 180.50 400.43 180.70 400.54 180.90 400.65 181.10 400.76 181.30 400.87 181.50 400.98 181.70 401.09 181.90 401.21 182.10 401.32 182.30 401.44 182.50 401.55 182.70 401.67 182.90 401.78 183.10 401.90 183.30 402.01 183.50 402.13 183.70 402.25 183.90 402.37 184.10 402.49 184.30 402.61 184.50 402.73 184.70 402.85 184.90 402.97 185.10 403.09 185.30 403.22 185.50 403.34 185.70 403.46 185.90 403.59 186.10 403.71 186.30 403.84 186.50 403.97 186.70 404.10 186.90 404.23 187.10 404.36 187.30 404.49 187.50 404.62 187.70 404.75 187.90 404.89 188.10 405.02 188.30 405.16 188.50 405.30 188.70 405.43 188.90 405.57 189.10 405.72 189.30 405.86 189.50 406.00 189.70 406.15 189.90 406.30 190.10 406.45 190.30 406.60 190.50 406.75 190.70 406.91 190.90 407.07 191.10 407.23 191.30 407.39 191.50 407.56 191.70 407.72 191.90 407.89 192.10 408.07 192.30 408.25 192.50 408.43 192.70 408.61 192.90 408.80 193.10 408.99 193.30 409.18 193.50 409.38 193.70 409.59 193.90 409.80 194.10 410.02 194.30 410.24 194.50 410.46 194.70 410.70 194.90 410.94 195.10 411.19 195.30 411.44 195.50 411.71 195.70 411.99 195.90 412.27 196.10 412.57 196.30 412.88 196.50 413.21 196.70 413.55 196.90 413.91 197.10 414.28 197.30 414.68 197.50 415.10 197.70 415.56 197.90 416.04 198.10 416.56 198.30 417.12 198.50 417.73 198.70 418.64 198.90 419.54 199.10 420.45 199.30 421.36 199.50 422.27 199.50 422.27 199.52 422.36 199.54 422.45 199.56 422.54 199.58 422.63 199.60 422.72 199.62 422.81 199.64 422.90 199.66 422.99 199.68 423.08 199.70 423.17 199.70 423.17 199.72 423.26 199.74 423.35 199.76 423.45 199.78 423.54 199.80 423.63 199.82 423.72 199.84 423.81 199.86 423.90 199.88 423.99 199.90 424.08 199.90 424.08 199.92 424.17 199.94 424.26 199.96 424.35 199.98 424.44 200.00 424.53 200.02 424.62 200.04 424.72 200.06 424.81 200.08 424.90 200.10 424.99 200.10 424.99 200.12 425.08 200.14 425.17 200.16 425.26 200.18 425.35 200.20 425.44 200.22 425.53 200.24 425.62 200.26 425.71 200.28 425.80 200.30 425.89 200.30 425.89 200.32 425.99 200.34 426.08 200.36 426.17 200.38 426.26 200.40 426.35 200.42 426.44 200.44 426.53 200.46 426.62 200.48 426.71 200.50 426.80 200.50 426.80 200.52 426.89 200.54 426.98 200.56 427.07 200.58 427.16 200.60 427.26 200.62 427.35 200.64 427.44 200.66 427.53 200.68 427.62 200.70 427.71 200.70 427.71 200.72 427.80 200.74 427.70 200.76 427.60 200.78 427.50 200.80 427.41 200.82 427.31 200.84 427.21 200.86 427.11 200.88 427.01 200.90 426.91 200.90 426.91 200.92 426.82 200.94 426.72 200.96 426.62 200.98 426.52 201.00 426.42 201.02 426.32 201.04 426.22 201.06 426.13 201.08 426.03 201.10 425.93 201.10 425.93 201.12 425.83 201.14 425.73 201.16 425.63 201.18 425.53 201.20 425.44 201.22 425.34 201.24 425.24 201.26 425.14 201.28 425.04 201.30 424.94 201.30 424.94 201.32 424.85 201.34 424.75 201.36 424.65 201.38 424.55 201.40 424.45 201.42 424.35 201.44 424.25 201.46 424.16 201.48 424.06 201.50 423.96 201.50 423.96 201.52 423.86 201.54 423.76 201.56 423.66 201.58 423.57 201.60 423.47 201.62 423.37 201.64 423.27 201.66 423.17 201.68 423.07 201.70 422.97 201.70 422.97 201.72 422.88 201.74 422.78 201.76 422.68 201.78 422.58 201.80 422.48 201.82 422.38 201.84 422.28 201.86 422.19 201.88 422.09 201.90 421.99 201.90 421.99 201.92 421.89 201.94 421.79 201.96 421.69 201.98 421.60 202.00 421.50 202.02 421.40 202.04 421.30 202.06 421.20 202.08 421.10 202.10 421.00 202.10 421.00 202.12 420.91 202.14 420.81 202.16 420.71 202.18 420.61 202.20 420.51 202.22 420.41 202.24 420.32 202.26 420.22 202.28 420.12 202.30 420.02 202.30 420.02 202.32 419.92 202.34 419.82 202.36 419.72 202.38 419.63 202.40 419.53 202.42 419.43 202.44 419.33 202.46 419.23 202.48 419.13 202.50 419.03 202.50 419.03 202.52 418.94 202.54 418.84 202.56 418.74 202.58 418.64 202.60 418.54 202.62 418.44 202.64 418.35 202.66 418.25 202.68 418.15 202.70 418.05 202.70 418.05 202.72 417.95 202.74 417.85 202.76 417.75 202.78 417.68 202.80 417.61 202.82 417.53 202.84 417.46 202.86 417.39 202.88 417.32 202.90 417.25 202.90 417.25 202.92 417.18 202.94 417.11 202.96 417.04 202.98 416.97 203.10 416.58 203.30 415.96 203.50 415.39 203.70 414.86 203.90 414.36 204.10 413.89 204.30 413.45 204.50 413.04 204.70 412.64 204.90 412.26 205.10 411.91 205.30 411.56 205.50 411.24 205.70 410.93 205.90 410.63 206.10 410.34 206.30 410.06 206.50 409.79 206.70 409.54 206.90 409.29 207.10 409.05 207.30 408.81 207.50 408.59 207.70 408.37 207.90 408.16 208.10 407.96 208.30 407.76 208.50 407.57 208.70 407.38 208.90 407.20 209.10 407.02 209.30 406.85 209.50 406.68 209.70 406.51 209.90 406.35 210.10 406.20 210.30 406.05 210.50 405.90 210.70 405.75 210.90 405.61 211.10 405.47 211.30 405.34 211.50 405.20 211.70 405.07 211.90 404.95 212.10 404.82 212.30 404.70 212.50 404.58 212.70 404.47 212.90 404.35 213.10 404.24 213.30 404.13 213.50 404.02 213.70 403.91 213.90 403.81 214.10 403.71 214.30 403.60 214.50 403.50 214.70 403.41 214.90 403.31 215.10 403.21 215.30 403.12 215.50 403.03 215.70 402.93 215.90 402.84 216.10 402.75 216.30 402.66 216.50 402.58 216.70 402.49 216.90 402.40 217.10 402.31 217.30 402.23 217.50 402.14 217.70 402.06 217.90 401.98 218.10 401.89 218.30 401.81 218.50 401.73 218.70 401.64 218.90 401.56 219.10 401.48 219.30 401.40 219.50 401.31 219.70 401.23 219.90 401.15 220.10 401.07 220.30 400.99 220.50 400.91 220.70 400.83 220.90 400.75 221.10 400.67 221.30 400.58 221.50 400.50 221.70 400.42 221.90 400.34 222.10 400.26 222.30 400.18 222.50 400.10 222.70 400.02 222.90 399.94 223.10 399.86 223.30 399.78 223.50 399.69 223.70 399.61 223.90 399.53 224.10 399.45 224.30 399.37 224.50 399.29 224.70 399.21 224.90 399.12 225.10 399.04 225.30 398.96 225.50 398.88 225.70 398.80 225.90 398.71 226.10 398.63 226.30 398.55 226.50 398.47 226.70 398.38 226.90 398.30 227.10 398.22 227.30 398.13 227.50 398.05 227.70 397.96 227.90 397.88 228.10 397.79 228.30 397.71 228.50 397.62 228.70 397.54 228.90 397.45 229.10 397.37 229.30 397.28 229.50 397.19 229.70 397.11 229.90 397.02 230.10 396.93 230.30 396.84 230.50 396.75 230.70 396.67 230.90 396.58 231.10 396.49 231.30 396.40 231.50 396.31 231.70 396.22 231.90 396.13 232.10 396.04 232.30 395.95 232.50 395.86 232.70 395.77 232.90 395.68 233.10 395.59 233.30 395.51 233.50 395.42 233.70 395.33 233.90 395.24 234.10 395.15 234.30 395.06 234.50 394.98 234.70 394.89 234.90 394.81 235.10 394.72 235.30 394.64 235.50 394.55 235.70 394.47 235.90 394.38 236.10 394.30 236.30 394.22 236.50 394.14 236.70 394.06 236.90 393.98 237.10 393.90 237.30 393.83 237.50 393.75 237.70 393.67 237.90 393.60 238.10 393.52 238.30 393.45 238.50 393.37 238.70 393.30 238.90 393.23 239.10 393.15 239.30 393.08 239.50 393.01 239.70 392.94 239.90 392.87 240.10 392.80 240.30 392.73 240.50 392.66 240.70 392.59 240.90 392.52 241.10 392.45 241.30 392.38 241.50 392.31 241.70 392.24 241.90 392.17 242.10 392.10 242.30 392.03 242.50 391.96 242.70 391.89 242.90 391.82 243.10 391.75 243.30 391.68 243.50 391.61 243.70 391.54 243.90 391.47 244.10 391.40 244.30 391.32 244.50 391.25 244.70 391.18 244.90 391.10 245.10 391.03 245.30 390.95 245.50 390.88 245.70 390.80 245.90 390.72 246.10 390.65 246.30 390.57 246.50 390.49 246.70 390.41 246.90 390.33 247.10 390.25 247.30 390.17 247.50 390.08 247.70 390.00 247.90 389.92 248.10 389.83 248.30 389.75 248.50 389.66 248.70 389.57 248.90 389.49 249.10 389.40 249.30 389.31 249.50 389.22 249.70 389.13 249.90 389.04 250.10 388.95 250.30 388.85 250.50 388.76 250.70 388.66 250.90 388.57 251.10 388.47 251.30 388.38 251.50 388.28 251.70 388.18 251.90 388.08 252.10 387.98 252.30 387.88 252.50 387.78 252.70 387.68 252.90 387.57 253.10 387.47 253.30 387.36 253.50 387.25 253.70 387.14 253.90 387.03 254.10 386.92 254.30 386.81 254.50 386.69 254.70 386.57 254.90 386.46 255.10 386.34 255.30 386.21 255.50 386.09 255.70 385.96 255.90 385.83 256.10 385.70 256.30 385.56 256.50 385.43 256.70 385.28 256.90 385.14 257.10 384.99 257.30 384.84 257.50 384.68 257.70 384.52 257.90 384.36 258.10 384.19 258.30 384.01 258.50 383.83 258.70 383.65 258.90 383.46 259.10 383.26 259.30 383.05 259.50 382.84 259.70 382.62 259.90 382.39 260.10 382.16 260.30 381.91 260.50 381.65 260.70 381.39 260.90 381.11 261.10 380.82 261.30 380.51 261.50 380.19 261.70 379.85 261.90 379.50 262.10 379.13 262.30 378.74 262.50 378.32 262.70 377.88 262.90 377.40 263.10 376.90 263.30 376.36 263.50 375.77 263.70 375.14 263.90 374.26 264.10 373.38 264.30 372.50 264.50 371.62 264.70 370.74 264.90 369.86 265.10 368.97 265.30 368.09 265.50 367.21 265.50 367.21 265.52 367.13 265.54 367.04 265.56 366.95 265.58 366.86 265.60 366.77 265.62 366.69 265.64 366.60 265.66 366.51 265.68 366.42 265.70 366.33 265.70 366.33 265.72 366.24 265.74 366.16 265.76 366.07 265.78 365.98 265.80 365.89 265.82 365.80 265.84 365.72 265.86 365.63 265.88 365.54 265.90 365.45 265.90 365.45 265.92 365.36 265.94 365.28 265.96 365.19 265.98 365.10 266.00 365.18 266.02 365.26 266.04 365.35 266.06 365.43 266.08 365.51 266.10 365.59 266.10 365.59 266.12 365.67 266.14 365.76 266.16 365.84 266.18 365.92 266.20 366.00 266.22 366.08 266.24 366.17 266.26 366.25 266.28 366.33 266.30 366.41 266.30 366.41 266.32 366.50 266.34 366.58 266.36 366.66 266.38 366.74 266.40 366.82 266.42 366.91 266.44 366.99 266.46 367.07 266.48 367.15 266.50 367.23 266.50 367.23 266.52 367.32 266.54 367.40 266.56 367.48 266.58 367.56 266.60 367.64 266.62 367.73 266.64 367.81 266.66 367.89 266.68 367.97 266.70 368.05 266.70 368.05 266.72 368.14 266.74 368.22 266.76 368.30 266.78 368.38 266.80 368.46 266.82 368.55 266.84 368.63 266.86 368.71 266.88 368.79 266.90 368.87 266.90 368.87 266.92 368.96 266.94 369.04 266.96 369.12 266.98 369.20 267.00 369.29 267.02 369.37 267.04 369.45 267.06 369.53 267.08 369.61 267.10 369.70 267.10 369.70 267.12 369.78 267.14 369.86 267.16 369.94 267.18 370.02 267.20 370.11 267.22 370.19 267.24 370.27 267.26 370.35 267.28 370.43 267.30 370.52 267.30 370.52 267.32 370.60 267.34 370.68 267.36 370.76 267.38 370.84 267.40 370.93 267.42 371.01 267.44 371.09 267.46 371.17 267.48 371.25 267.50 371.34 267.50 371.34 267.52 371.42 267.54 371.50 267.56 371.58 267.58 371.66 267.60 371.75 267.62 371.83 267.64 371.91 267.66 371.99 267.68 372.08 267.70 372.16 267.70 372.16 267.72 372.24 267.74 372.32 267.76 372.40 267.78 372.49 267.80 372.57 267.82 372.65 267.84 372.73 267.86 372.81 267.88 372.90 267.90 372.98 267.90 372.98 267.92 373.06 267.94 373.14 267.96 373.22 267.98 373.31 268.00 373.39 268.02 373.47 268.04 373.55 268.06 373.63 268.08 373.72 268.10 373.80 268.10 373.80 268.12 373.88 268.14 373.96 268.16 374.04 268.18 374.13 268.20 374.21 268.22 374.29 268.24 374.37 268.26 374.45 268.28 374.54 268.30 374.62 268.30 374.62 268.32 374.70 268.34 374.78 268.36 374.87 268.38 374.95 268.40 375.03 268.42 375.11 268.44 375.17 268.46 375.22 268.48 375.28 268.50 375.34 268.70 375.86 268.90 376.35 269.10 376.81 269.30 377.23 269.50 377.63 269.70 378.00 269.90 378.35 270.10 378.68 270.30 379.00 270.50 379.30 270.70 379.58 270.90 379.86 271.10 380.12 271.30 380.37 271.50 380.60 271.70 380.83 271.90 381.06 272.10 381.27 272.30 381.48 272.50 381.68 272.70 381.87 272.90 382.06 273.10 382.24 273.30 382.41 273.50 382.59 273.70 382.75 273.90 382.92 274.10 383.08 274.30 383.23 274.50 383.38 274.70 383.53 274.90 383.68 275.10 383.82 275.30 383.96 275.50 384.09 275.70 384.23 275.90 384.36 276.10 384.49 276.30 384.61 276.50 384.74 276.70 384.86 276.90 384.98 277.10 385.10 277.30 385.22 277.50 385.34 277.70 385.45 277.90 385.56 278.10 385.68 278.30 385.79 278.50 385.89 278.70 386.00 278.90 386.11 279.10 386.21 279.30 386.32 279.50 386.42 279.70 386.52 279.90 386.63 280.10 386.73 280.30 386.83 280.50 386.93 280.70 387.02 280.90 387.12 281.10 387.22 281.30 387.32 281.50 387.41 281.70 387.51 281.90 387.61 282.10 387.70 282.30 387.80 282.50 387.89 282.70 387.99 282.90 388.08 283.10 388.18 283.30 388.27 283.50 388.37 283.70 388.46 283.90 388.56 284.10 388.65 284.30 388.75 284.50 388.84 284.70 388.94 284.90 389.03 285.10 389.13 285.30 389.22 285.50 389.32 285.70 389.41 285.90 389.51 286.10 389.60 286.30 389.70 286.50 389.79 286.70 389.88 286.90 389.98 287.10 390.07 287.30 390.16 287.50 390.25 287.70 390.35 287.90 390.44 288.10 390.53 288.30 390.61 288.50 390.70 288.70 390.79 288.90 390.88 289.10 390.96 289.30 391.04 289.50 391.13 289.70 391.21 289.90 391.29 290.10 391.37 290.30 391.44 290.50 391.52 290.70 391.59 290.90 391.67 291.10 391.74 291.30 391.81 291.50 391.88 291.70 391.95 291.90 392.01 292.10 392.08 292.30 392.14 292.50 392.21 292.70 392.27 292.90 392.33 293.10 392.39 293.30 392.45 293.50 392.51 293.70 392.57 293.90 392.63 294.10 392.69 294.30 392.74 294.50 392.80 294.70 392.86 294.90 392.91 295.10 392.97 295.30 393.02 295.50 393.08 295.70 393.13 295.90 393.19 296.10 393.24 296.30 393.30 296.50 393.35 296.70 393.41 296.90 393.46 297.10 393.52 297.30 393.58 297.50 393.63 297.70 393.69 297.90 393.75 298.10 393.80 298.30 393.86 298.50 393.92 298.70 393.98 298.90 394.04 299.10 394.10 299.30 394.16 299.50 394.22 299.70 394.28 299.90 394.34 300.10 394.40 300.30 394.46 300.50 394.53 300.70 394.59 300.90 394.66 301.10 394.72 301.30 394.79 301.50 394.85 301.70 394.92 301.90 394.99 302.10 395.06 302.30 395.13 302.50 395.20 302.70 395.27 302.90 395.34 303.10 395.41 303.30 395.48 303.50 395.55 303.70 395.62 303.90 395.70 304.10 395.77 304.30 395.84 304.50 395.92 304.70 395.99 304.90 396.07 305.10 396.14 305.30 396.22 305.50 396.29 305.70 396.36 305.90 396.44 306.10 396.51 306.30 396.59 306.50 396.66 306.70 396.74 306.90 396.81 307.10 396.88 307.30 396.95 307.50 397.02 307.70 397.10 307.90 397.17 308.10 397.24 308.30 397.30 308.50 397.37 308.70 397.44 308.90 397.51 309.10 397.57 309.30 397.64 309.50 397.70 309.70 397.76 309.90 397.82 310.10 397.88 310.30 397.94 310.50 398.00 310.70 398.06 310.90 398.11 311.10 398.17 311.30 398.22 311.50 398.28 311.70 398.33 311.90 398.38 312.10 398.43 312.30 398.48 312.50 398.53 312.70 398.58 312.90 398.62" fill="none" stroke="#e4601f" stroke-width="2.3" stroke-linejoin="round" />
<rect x="131" y="318.5" width="52" height="17.5" fill="#fff"/>
<rect x="163" y="345.3" width="99" height="18.30000000000001" fill="#fff"/>
<text x="134" y="332.3" font-size="15.3">Modell</text>
<text x="165.8" y="360" font-size="15.3">Measurement</text>
<line x1="138.5" y1="336" x2="111.9" y2="352.9" stroke="#222" stroke-width="0.9"/>
<line x1="199" y1="363.6" x2="192.5" y2="380.9" stroke="#222" stroke-width="0.9"/>
<rect x="60" y="274.7" width="253" height="170.3" fill="none" stroke="#383434" stroke-width="1.9"/>
<text x="57.0" y="280.70" text-anchor="end" font-size="15.2">10<tspan dy="-5.2" font-size="13">0</tspan></text>
<text x="57.6" y="312.90" text-anchor="end" font-size="15.2">m/N</text>
<text x="57.0" y="347.60" text-anchor="end" font-size="15.2">10<tspan dy="-5.2" font-size="13">-4</tspan></text>
<text x="57.0" y="382.90" text-anchor="end" font-size="15.2">10<tspan dy="-5.2" font-size="13">-6</tspan></text>
<text x="57.0" y="416.60" text-anchor="end" font-size="15.2">10<tspan dy="-5.2" font-size="13">-8</tspan></text>
<text x="57.0" y="450.60" text-anchor="end" font-size="15.2">10<tspan dy="-5.2" font-size="13">-10</tspan></text>
<text x="60.5" y="460.5" text-anchor="middle" font-size="15.2">0</text>
<text x="109.1" y="460.5" text-anchor="middle" font-size="15.2">2,000</text>
<text x="163.5" y="460.5" text-anchor="middle" font-size="15.2">4,000</text>
<text x="217.3" y="460.5" text-anchor="middle" font-size="15.2">6,000</text>
<text x="267.0" y="460.5" text-anchor="middle" font-size="15.2">Hz</text>
<text x="319.0" y="460.5" text-anchor="middle" font-size="15.2">10,000</text>
<line x1="458.50" y1="274.4" x2="458.50" y2="442.5" stroke="#3c3838" stroke-width="1.3"/>
<line x1="509.00" y1="274.4" x2="509.00" y2="442.5" stroke="#3c3838" stroke-width="1.3"/>
<line x1="559.50" y1="274.4" x2="559.50" y2="442.5" stroke="#3c3838" stroke-width="1.3"/>
<line x1="610.00" y1="274.4" x2="610.00" y2="442.5" stroke="#3c3838" stroke-width="1.3"/>
<line x1="408" y1="308.02" x2="660.5" y2="308.02" stroke="#3c3838" stroke-width="1.3"/>
<line x1="408" y1="341.64" x2="660.5" y2="341.64" stroke="#3c3838" stroke-width="1.3"/>
<line x1="408" y1="375.26" x2="660.5" y2="375.26" stroke="#3c3838" stroke-width="1.3"/>
<line x1="408" y1="408.88" x2="660.5" y2="408.88" stroke="#3c3838" stroke-width="1.3"/>
<path d="M409.60 345.34 409.85 349.18 410.10 349.26 410.35 352.67 410.60 352.22 410.85 355.43 411.10 354.76 411.35 357.81 411.60 356.90 411.85 359.84 412.10 358.74 412.35 361.62 412.60 360.33 412.85 363.31 413.10 361.64 413.35 364.66 413.60 362.97 413.85 365.97 414.10 364.17 414.35 367.19 414.60 365.16 414.85 368.31 415.10 366.14 415.35 369.34 415.60 366.93 415.85 370.37 416.10 367.84 416.35 371.22 416.60 368.57 416.85 372.12 417.10 369.22 417.35 372.83 417.60 370.04 417.85 373.70 418.10 370.55 418.35 374.46 418.60 371.21 418.85 375.03 419.10 371.70 419.35 375.65 419.60 372.30 419.85 376.45 420.10 372.61 420.35 376.89 420.60 373.23 420.85 377.43 421.10 373.70 421.35 378.10 421.60 374.17 421.85 378.51 422.10 374.81 422.35 379.07 422.60 375.28 422.85 379.55 423.10 375.53 423.35 380.11 423.60 376.09 423.85 380.58 424.10 376.36 424.35 380.94 424.60 376.87 424.85 381.34 425.10 377.20 425.35 381.99 425.60 377.43 425.85 382.23 426.10 377.82 426.35 382.66 426.60 378.07 426.85 383.18 427.10 378.60 427.35 383.52 427.60 378.94 427.85 383.92 428.10 379.23 428.35 384.29 428.60 379.55 428.85 384.90 429.10 379.87 429.35 385.29 429.60 380.10 429.85 385.63 430.10 380.52 430.35 386.31 430.60 380.96 430.85 386.76 431.10 381.27 431.35 387.15 431.60 381.60 431.85 387.53 432.10 381.91 432.35 387.99 432.60 382.45 432.85 388.57 433.10 382.56 433.35 389.12 433.60 383.25 433.85 389.76 434.10 383.26 434.35 390.37 434.60 383.83 434.85 390.93 435.10 384.19 435.35 391.19 435.60 384.90 435.85 391.98 436.10 385.37 436.35 392.39 436.60 385.43 436.85 392.53 437.10 385.93 437.35 393.05 437.60 386.65 437.85 393.70 438.10 387.14 438.35 394.26 438.60 387.60 438.85 394.72 439.10 388.33 439.35 395.40 439.60 388.74 439.85 396.05 440.10 389.76 440.35 396.43 440.60 390.69 440.85 397.43 441.10 391.45 441.35 397.97 441.60 392.33 441.85 398.89 442.10 393.39 442.35 400.03 442.60 394.70 442.85 398.69 443.10 395.48 443.35 399.32 443.60 394.51 443.85 400.67 444.10 393.72 444.35 402.77 444.60 392.60 444.85 405.09 445.10 392.16 445.35 409.33 445.60 392.28 445.85 411.86 446.10 391.73 446.35 410.78 446.60 391.21 446.85 407.18 447.10 390.62 447.35 404.48 447.60 389.79 447.85 402.09 448.10 389.30 448.35 400.28 448.60 389.13 448.85 399.35 449.10 388.14 449.35 397.98 449.60 388.17 449.85 396.96 450.10 387.64 450.35 396.11 450.60 387.27 450.85 395.40 451.10 387.09 451.35 394.70 451.60 386.68 451.85 394.13 452.10 386.43 452.35 393.57 452.60 385.90 452.85 393.10 453.10 385.40 453.35 392.28 453.60 385.28 453.85 391.96 454.10 384.76 454.35 391.20 454.60 384.38 454.85 390.70 455.10 384.01 455.35 390.13 455.60 383.46 455.85 389.58 456.10 383.18 456.35 388.84 456.60 382.72 456.85 388.23 457.10 382.18 457.35 387.52 457.60 381.61 457.85 386.95 458.10 380.96 458.35 386.18 458.60 380.17 458.85 385.51 459.10 379.45 459.35 384.56 459.60 378.73 459.85 383.76 460.10 377.65 460.35 382.70 460.60 376.70 460.85 381.56 461.10 375.67 461.35 380.10 461.60 374.01 461.85 378.67 462.10 372.41 462.35 376.54 462.60 370.41 462.85 373.98 463.10 366.99" fill="none" stroke="#1a74b8" stroke-width="0.9" stroke-linejoin="round" />
<path d="M465.50 372.01 465.80 375.29 466.10 374.76 466.40 377.98 466.70 377.31 467.00 380.34 467.30 379.32 467.60 382.09 467.90 380.41 468.20 383.05 468.50 380.97 468.80 383.98 469.10 381.52 469.40 384.77 469.70 381.94 470.00 385.31 470.30 382.37 470.60 385.93 470.90 382.56 471.20 386.50 471.50 382.84 471.80 386.94 472.10 383.23 472.40 387.24 472.70 383.40 473.00 387.68 473.30 383.74 473.60 388.25 473.90 383.88 474.20 388.56 474.50 384.16 474.80 389.07 475.10 384.46 475.40 389.46 475.70 384.66 476.00 389.92 476.30 384.98 476.60 390.11 476.90 385.17 477.20 390.48 477.50 385.37 477.80 390.72 478.10 385.54 478.40 391.24 478.70 385.97 479.00 391.51 479.30 386.05 479.60 391.80 479.90 386.40 480.20 392.03 480.50 386.70 480.80 392.50 481.10 386.95 481.40 392.88 481.70 387.25 482.00 392.95 482.30 387.51 482.60 393.36 482.90 387.61 483.20 393.68 483.50 387.87 483.80 393.84 484.10 388.16 484.40 394.08 484.70 388.33 485.00 394.62 485.30 388.41 485.60 394.60 485.90 388.76 486.20 394.83 486.50 388.80 486.80 395.20 487.10 389.11 487.40 395.38 487.70 389.24 488.00 395.51 488.30 389.23 488.60 395.95 488.90 389.55 489.20 396.03 489.50 389.66 489.80 396.08 490.10 389.57 490.40 396.49 490.70 389.96 491.00 396.65 491.30 390.05 491.60 396.77 491.90 390.09 492.20 397.17 492.50 389.99 492.80 397.12 493.10 390.34 493.40 397.45 493.70 390.43 494.00 397.47 494.30 390.32 494.60 397.80 494.90 390.70 495.20 398.15 495.50 390.62 495.80 398.13 496.10 390.91 496.40 398.33 496.70 390.68 497.00 398.68 497.30 390.87 497.60 399.08 497.90 391.07 498.20 399.16 498.50 391.31 498.80 399.30 499.10 391.24 499.40 399.51 499.70 391.36 500.00 399.82 500.30 391.60 500.60 400.12 500.90 391.37 501.20 400.46 501.50 391.65 501.80 400.44 502.10 391.99 502.40 400.51 502.70 391.75 503.00 400.87 503.30 391.73 503.60 401.15 503.90 392.30 504.20 401.48 504.50 392.28 504.80 401.79 505.10 392.00 505.40 402.31 505.70 392.37 506.00 402.59 506.30 392.52 506.60 402.97 506.90 392.57 507.20 403.68 507.50 392.79 507.80 404.42 508.10 392.51 508.40 404.77 508.70 392.83 509.00 405.65 509.30 392.88 509.60 406.43 509.90 393.21 510.20 408.22 510.50 393.05 510.80 408.75 511.10 393.12 511.40 409.24 511.70 393.37 512.00 409.93 512.30 393.34 512.60 409.94 512.90 393.45 513.20 410.14 513.50 393.41 513.80 410.56 514.10 393.51 514.40 410.31 514.70 393.86 515.00 410.46 515.30 393.74 515.60 410.32 515.90 393.70 516.20 410.01 516.50 393.54 516.80 409.39 517.10 393.78 517.40 409.14 517.70 393.79 518.00 408.35 518.30 393.06 518.60 407.47 518.90 393.69 519.20 405.96 519.50 393.49 519.80 404.02 520.10 393.39 520.40 403.25 520.70 393.49 521.00 403.26 521.30 393.16 521.60 402.66 521.90 393.30" fill="none" stroke="#1a74b8" stroke-width="1.0" stroke-linejoin="round" />
<path d="M521.00 393.14 521.30 402.21 521.60 393.98 521.90 402.74 522.20 393.09 522.50 402.61 522.80 392.88 523.10 402.44 523.40 393.08 523.70 401.23 524.00 392.71 524.30 401.27 524.60 393.64 524.90 400.72 525.20 388.03 525.50 405.57 525.80 392.21 526.10 400.87 526.40 393.23 526.70 399.27 527.00 393.12 527.30 398.66 527.60 391.84 527.90 398.70 528.20 392.13 528.50 398.07 528.80 390.61 529.10 398.50 529.40 390.62 529.70 398.06 530.00 390.95 530.30 397.77 530.60 387.40 530.90 398.36 531.20 390.43 531.50 398.10 531.80 390.18 532.10 398.49 532.40 390.32 532.70 402.91 533.00 389.16 533.30 399.23 533.60 389.30 533.90 398.84 534.20 390.86 534.50 398.18 534.80 390.03 535.10 398.18 535.40 389.70 535.70 402.88 536.00 390.84 536.30 398.98 536.60 389.79 536.90 398.85 537.20 389.67 537.50 398.98 537.80 390.07 538.10 399.58 538.40 389.68 538.70 399.09 539.00 388.94 539.30 398.81 539.60 389.91 539.90 399.56 540.20 387.76 540.50 398.96 540.80 391.31 541.10 399.04 541.40 390.96 541.70 399.90 542.00 390.57 542.30 399.49 542.60 391.16 542.90 400.35 543.20 391.02 543.50 399.33 543.80 391.38 544.10 403.83 544.40 390.63 544.70 399.44 545.00 391.92 545.30 399.47 545.60 390.73 545.90 398.72 546.20 388.08 546.50 399.22 546.80 391.61 547.10 398.90 547.40 392.18 547.70 400.05 548.00 392.78 548.30 399.66 548.60 388.68 548.90 398.78 549.20 392.50 549.50 399.80 549.80 393.19 550.10 399.64 550.40 393.74 550.70 399.87 551.00 393.84 551.30 399.99 551.60 393.19 551.90 400.11 552.20 393.09 552.50 399.59 552.80 393.52 553.10 399.97 553.40 393.40 553.70 399.73 554.00 393.18 554.30 399.25 554.60 394.23 554.90 400.44 555.20 393.77 555.50 400.18 555.80 394.25 556.10 399.73 556.40 393.50 556.70 399.93 557.00 393.39 557.30 400.78 557.60 390.70 557.90 400.85 558.20 393.76 558.50 400.08 558.80 394.58 559.10 404.45 559.40 393.75 559.70 400.66 560.00 393.56 560.30 400.40 560.60 394.47 560.90 400.96 561.20 394.10 561.50 400.86 561.80 393.64 562.10 400.79 562.40 394.73 562.70 400.87 563.00 393.13 563.30 403.04 563.60 394.49 563.90 400.82 564.20 392.85 564.50 402.13 564.80 389.63 565.10 401.98 565.40 392.86 565.70 401.50 566.00 392.75 566.30 401.99 566.60 393.35 566.90 401.57 567.20 393.56 567.50 403.11 567.80 392.25 568.10 401.66 568.40 391.76 568.70 403.77 569.00 391.96 569.30 401.85 569.60 392.12 569.90 401.97 570.20 392.51 570.50 403.98 570.80 391.68 571.10 403.48 571.40 392.03 571.70 403.11 572.00 391.51 572.30 403.18 572.60 391.16 572.90 402.78 573.20 392.68 573.50 404.35 573.80 391.48 574.10 403.69 574.40 392.48 574.70 403.73 575.00 393.61 575.30 405.68 575.60 392.26 575.90 404.94 576.20 392.80 576.50 408.40 576.80 393.17 577.10 405.10 577.40 392.18 577.70 404.80 578.00 392.72 578.30 405.47 578.60 393.72 578.90 406.76 579.20 394.83 579.50 405.42 579.80 394.00 580.10 406.74 580.40 393.71 580.70 406.77 581.00 394.59 581.30 406.45 581.60 393.79 581.90 407.26 582.20 394.98 582.50 407.21 582.80 395.61 583.10 405.55 583.40 394.99 583.70 406.92 584.00 395.30 584.30 406.01 584.60 390.37 584.90 405.49 585.20 394.56 585.50 405.62 585.80 395.82 586.10 407.82 586.40 393.85 586.70 405.37 587.00 394.65 587.30 410.13 587.60 394.87 587.90 405.43 588.20 394.84 588.50 405.28 588.80 395.98 589.10 405.39 589.40 394.77 589.70 405.95 590.00 394.18 590.30 404.39 590.60 395.74 590.90 405.54 591.20 395.09 591.50 404.22 591.80 395.02 592.10 405.77 592.40 395.56 592.70 404.23 593.00 395.16 593.30 404.52 593.60 395.75 593.90 404.91 594.20 394.76 594.50 406.07 594.80 392.04 595.10 404.98 595.40 396.09 595.70 406.08 596.00 393.09 596.30 404.70 596.60 393.46 596.90 405.20 597.20 396.11 597.50 405.59 597.80 394.06 598.10 405.18 598.40 396.25 598.70 405.51 599.00 394.99 599.30 406.11 599.60 395.12 599.90 406.81 600.20 395.52 600.50 407.69 600.80 395.62 601.10 405.70 601.40 395.46 601.70 407.42 602.00 394.58 602.30 407.61 602.60 395.95 602.90 406.82 603.20 395.00 603.50 405.90 603.80 395.45 604.10 406.88 604.40 394.07 604.70 406.34 605.00 394.09 605.30 406.76 605.60 394.63 605.90 407.42 606.20 395.46 606.50 406.57 606.80 393.66 607.10 406.90 607.40 394.84 607.70 407.13 608.00 393.98 608.30 409.46 608.60 395.37 608.90 406.61 609.20 393.04 609.50 405.41 609.80 394.69 610.10 406.73 610.40 393.79 610.70 404.89 611.00 394.09 611.30 405.30 611.60 393.58 611.90 406.77 612.20 393.80 612.50 407.04 612.80 392.98 613.10 405.09 613.40 387.89 613.70 403.38 614.00 387.87 614.30 402.83 614.60 392.84 614.90 402.50 615.20 391.83 615.50 402.31 615.80 391.38 616.10 402.88 616.40 389.50 616.70 402.62 617.00 390.52 617.30 403.30 617.60 391.30 617.90 401.95 618.20 390.29 618.50 407.09 618.80 392.19 619.10 403.47 619.40 392.13 619.70 404.69 620.00 392.24 620.30 404.41 620.60 391.67 620.90 407.12 621.20 391.56 621.50 404.05 621.80 390.42 622.10 404.54 622.40 392.79 622.70 406.12 623.00 391.84 623.30 405.04 623.60 392.64 623.90 405.04 624.20 393.62 624.50 404.60 624.80 392.87 625.10 404.73 625.40 394.60 625.70 406.44 626.00 394.46 626.30 406.40 626.60 392.46 626.90 405.84 627.20 395.07 627.50 405.10 627.80 394.07 628.10 406.88 628.40 394.14 628.70 405.58 629.00 393.38 629.30 406.33 629.60 393.67 629.90 406.00 630.20 394.81 630.50 405.88 630.80 394.08 631.10 406.66 631.40 393.31 631.70 406.36 632.00 391.05 632.30 407.73 632.60 394.44 632.90 406.18 633.20 394.04 633.50 407.12 633.80 390.48 634.10 409.34 634.40 393.91 634.70 409.02 635.00 393.99 635.30 406.62 635.60 394.74 635.90 407.04 636.20 394.02 636.50 408.50 636.80 395.94 637.10 411.09 637.40 394.12 637.70 407.48 638.00 395.93 638.30 407.61 638.60 394.72 638.90 407.34 639.20 393.92 639.50 407.67 639.80 395.60 640.10 408.29 640.40 395.16 640.70 407.81 641.00 395.96 641.30 407.67 641.60 396.16 641.90 407.09 642.20 391.79 642.50 406.76 642.80 393.76 643.10 407.00 643.40 394.97 643.70 406.46 644.00 394.23 644.30 411.56 644.60 394.96 644.90 410.22 645.20 395.36 645.50 406.54 645.80 395.26 646.10 406.89 646.40 389.11 646.70 407.35 647.00 395.16 647.30 406.70 647.60 395.61 647.90 408.94 648.20 394.45 648.50 406.48 648.80 394.67 649.10 408.29 649.40 393.37 649.70 406.92 650.00 393.77 650.30 407.41 650.60 394.54 650.90 407.56 651.20 394.54 651.50 407.02 651.80 395.26 652.10 406.40 652.40 394.73 652.70 406.23 653.00 393.28 653.30 408.30 653.60 393.17 653.90 407.74 654.20 394.73 654.50 406.04 654.80 394.17 655.10 408.10 655.40 391.38 655.70 408.09 656.00 393.85 656.30 407.55 656.60 393.94 656.90 410.32 657.20 393.28 657.50 407.43 657.80 393.06 658.10 406.17 658.40 395.18 658.70 405.50 659.00 395.33 659.30 405.73" fill="none" stroke="#1a74b8" stroke-width="1.0" stroke-linejoin="round" />
<path d="M616.2 400 L617.2 383.5 L618.4 382.7 L619.2 392 L619.8 402 Z" fill="#1a74b8"/>
<line x1="641.2" y1="411.3" x2="641.2" y2="421.3" stroke="#1a74b8" stroke-width="1.3"/>
<line x1="648.7" y1="408.5" x2="648.7" y2="418.5" stroke="#1a74b8" stroke-width="1.3"/>
<line x1="576.3" y1="398.3" x2="576.3" y2="408.3" stroke="#1a74b8" stroke-width="1.3"/>
<line x1="580.9" y1="399.5" x2="580.9" y2="409.5" stroke="#1a74b8" stroke-width="1.3"/>
<line x1="583.9" y1="398" x2="583.9" y2="408" stroke="#1a74b8" stroke-width="1.3"/>
<line x1="606.4" y1="401.9" x2="606.4" y2="411.9" stroke="#1a74b8" stroke-width="1.3"/>
<line x1="514.6" y1="401.5" x2="514.6" y2="411.5" stroke="#1a74b8" stroke-width="1.3"/>
<line x1="517" y1="400.5" x2="517" y2="410.5" stroke="#1a74b8" stroke-width="1.3"/>
<line x1="571.7" y1="396" x2="571.7" y2="389.9" stroke="#1a74b8" stroke-width="1.3"/>
<path d="M408.00 283.60 408.10 300.00 408.60 331.84 408.80 336.05 409.00 339.31 409.20 341.97 409.40 344.23 409.60 346.18 409.80 347.90 410.00 349.45 410.20 350.84 410.40 352.12 410.60 353.29 410.80 354.38 411.00 355.39 411.20 356.33 411.40 357.23 411.60 358.06 411.80 358.86 412.00 359.61 412.20 360.33 412.40 361.01 412.60 361.67 412.80 362.30 413.00 362.90 413.20 363.47 413.40 364.03 413.60 364.57 413.80 365.08 414.00 365.58 414.20 366.07 414.40 366.54 414.60 366.99 414.80 367.43 415.00 367.86 415.20 368.27 415.40 368.68 415.60 369.07 415.80 369.45 416.00 369.83 416.20 370.19 416.40 370.55 416.60 370.89 416.80 371.23 417.00 371.56 417.20 371.88 417.40 372.20 417.60 372.51 417.80 372.81 418.00 373.11 418.20 373.40 418.40 373.68 418.60 373.96 418.80 374.23 419.00 374.50 419.20 374.76 419.40 375.02 419.60 375.28 419.80 375.52 420.00 375.77 420.20 376.01 420.40 376.24 420.60 376.48 420.80 376.71 421.00 376.93 421.20 377.15 421.40 377.37 421.60 377.58 421.80 377.79 422.00 378.00 422.20 378.21 422.40 378.41 422.60 378.61 422.80 378.81 423.00 379.00 423.20 379.20 423.40 379.39 423.60 379.58 423.80 379.76 424.00 379.95 424.20 380.13 424.40 380.31 424.60 380.49 424.80 380.67 425.00 380.85 425.20 381.02 425.40 381.20 425.60 381.37 425.80 381.54 426.00 381.72 426.20 381.89 426.40 382.06 426.60 382.23 426.80 382.40 427.00 382.57 427.20 382.74 427.40 382.90 427.60 383.07 427.80 383.24 428.00 383.41 428.20 383.58 428.40 383.75 428.60 383.92 428.80 384.10 429.00 384.27 429.20 384.44 429.40 384.62 429.60 384.79 429.80 384.97 430.00 385.15 430.20 385.33 430.40 385.51 430.60 385.69 430.80 385.87 431.00 386.06 431.20 386.25 431.40 386.44 431.60 386.64 431.80 386.84 432.00 387.04 432.20 387.24 432.40 387.45 432.60 387.66 432.80 387.87 433.00 388.09 433.20 388.31 433.40 388.54 433.60 388.78 433.80 389.01 434.00 389.26 434.20 389.51 434.40 389.77 434.60 390.03 434.80 390.31 435.00 390.59 435.20 390.88 435.40 391.18 435.60 391.49 435.80 391.81 436.00 392.15 436.20 392.50 436.40 392.86 436.60 393.24 436.80 393.64 437.00 394.06 437.20 394.50 437.40 394.97 437.60 395.46 437.80 395.99 438.00 396.56 438.20 397.17 438.40 397.83 438.60 398.56 438.80 399.36 439.00 400.25 439.00 400.25 439.02 400.35 439.04 400.44 439.06 400.54 439.08 400.64 439.10 400.74 439.12 400.84 439.14 400.94 439.16 401.05 439.18 401.16 439.20 401.26 439.20 401.26 439.22 401.37 439.24 401.48 439.26 401.59 439.28 401.71 439.30 401.82 439.32 401.94 439.34 402.06 439.36 402.18 439.38 402.31 439.40 402.43 439.40 402.43 439.42 402.56 439.44 402.69 439.46 402.82 439.48 402.95 439.50 403.09 439.52 403.23 439.54 403.37 439.56 403.52 439.58 403.66 439.60 403.81 439.60 403.81 439.62 403.97 439.64 404.12 439.66 404.28 439.68 404.45 439.70 404.61 439.72 404.78 439.74 404.96 439.76 405.14 439.78 405.32 439.80 405.51 439.80 405.51 439.82 405.70 439.84 405.90 439.86 406.10 439.88 406.31 439.90 406.53 439.92 406.75 439.94 406.98 439.96 407.21 439.98 407.46 440.00 407.71 440.00 407.71 440.02 407.97 440.04 408.24 440.06 408.52 440.08 408.81 440.10 409.11 440.12 409.43 440.14 409.76 440.16 410.11 440.18 410.47 440.20 410.85 440.20 410.85 440.22 411.25 440.24 411.68 440.26 412.13 440.28 412.61 440.30 413.12 440.32 413.68 440.34 414.27 440.36 414.93 440.38 415.64 440.40 416.43 440.40 416.43 440.42 417.32 440.44 418.33 440.46 419.50 440.48 420.89 440.50 423.12 440.52 425.34 440.54 427.56 440.56 429.78 440.58 432.00 440.60 429.44 440.60 429.44 440.62 426.87 440.64 424.31 440.66 421.75 440.68 420.20 440.70 418.93 440.72 417.85 440.74 416.91 440.76 416.07 440.78 415.33 440.80 414.65 440.80 414.65 440.82 414.03 440.84 413.46 440.86 412.93 440.88 412.43 440.90 411.97 440.92 411.54 440.94 411.13 440.96 410.74 440.98 410.37 441.00 410.02 441.02 409.69 441.04 409.37 441.06 409.07 441.08 408.77 441.10 408.49 441.12 408.22 441.14 407.96 441.16 407.71 441.18 407.46 441.20 407.23 441.20 407.23 441.22 407.00 441.24 406.78 441.26 406.57 441.28 406.36 441.30 406.16 441.32 405.96 441.34 405.77 441.36 405.58 441.38 405.40 441.40 405.22 441.40 405.22 441.42 405.05 441.44 404.88 441.46 404.72 441.48 404.56 441.50 404.40 441.52 404.24 441.54 404.09 441.56 403.95 441.58 403.80 441.60 403.66 441.60 403.66 441.62 403.52 441.64 403.38 441.66 403.25 441.68 403.12 441.70 402.99 441.72 402.86 441.74 402.74 441.76 402.62 441.78 402.50 441.80 402.38 441.80 402.38 441.82 402.26 441.84 402.15 441.86 402.04 441.88 401.93 441.90 401.82 441.92 401.71 441.94 401.60 441.96 401.50 441.98 401.40 442.00 401.30 442.00 401.30 442.02 401.20 442.04 401.10 442.06 401.00 442.08 400.91 442.10 400.81 442.12 400.72 442.14 400.63 442.16 400.54 442.18 400.45 442.20 400.36 442.20 400.36 442.22 400.27 442.24 400.19 442.26 400.10 442.28 400.02 442.30 399.93 442.32 399.85 442.34 399.77 442.36 399.69 442.38 399.61 442.40 399.53 442.40 399.53 442.42 399.45 442.44 399.38 442.46 399.30 442.48 399.23 442.60 398.79 442.80 398.13 443.00 397.52 443.20 396.97 443.40 396.45 443.60 395.97 443.80 395.53 444.00 395.11 444.20 394.72 444.40 394.35 444.60 394.00 444.80 393.67 445.00 393.35 445.20 393.05 445.40 392.77 445.60 392.49 445.80 392.23 446.00 391.98 446.20 391.74 446.40 391.51 446.60 391.28 446.80 391.07 447.00 390.86 447.20 390.65 447.40 390.46 447.60 390.27 447.80 390.09 448.00 389.91 448.20 389.73 448.40 389.56 448.60 389.40 448.80 389.23 449.00 389.08 449.20 388.92 449.40 388.77 449.60 388.62 449.80 388.47 450.00 388.32 450.20 388.18 450.40 388.04 450.60 387.90 450.80 387.76 451.00 387.62 451.20 387.48 451.40 387.34 451.60 387.20 451.80 387.06 452.00 386.92 452.20 386.78 452.40 386.64 452.60 386.50 452.80 386.36 453.00 386.22 453.20 386.07 453.40 385.92 453.60 385.77 453.80 385.62 454.00 385.47 454.20 385.31 454.40 385.15 454.60 384.99 454.80 384.82 455.00 384.65 455.20 384.48 455.40 384.30 455.60 384.12 455.80 383.94 456.00 383.75 456.20 383.56 456.40 383.36 456.60 383.15 456.80 382.94 457.00 382.73 457.20 382.51 457.40 382.28 457.60 382.05 457.80 381.81 458.00 381.56 458.20 381.31 458.40 381.04 458.60 380.77 458.80 380.48 459.00 380.19 459.20 379.89 459.40 379.57 459.60 379.24 459.80 378.89 460.00 378.53 460.20 378.15 460.40 377.75 460.60 377.33 460.80 376.88 461.00 376.41 461.20 375.90 461.40 375.36 461.60 374.78 461.80 374.14 462.00 373.45 462.20 372.69 462.40 371.84 462.50 371.37 462.52 371.27 462.54 371.18 462.56 371.08 462.58 370.98 462.60 370.87 462.60 370.87 462.62 370.77 462.64 370.67 462.66 370.56 462.68 370.45 462.70 370.34 462.72 370.23 462.74 370.12 462.76 370.00 462.78 369.88 462.80 369.77 462.80 369.77 462.82 369.65 462.84 369.52 462.86 369.40 462.88 369.27 462.90 369.14 462.92 369.01 462.94 368.88 462.96 368.74 462.98 368.60 463.00 368.46 463.00 368.46 463.02 368.32 463.04 368.17 463.06 368.02 463.08 367.87 463.10 367.71 463.12 367.55 463.14 367.39 463.16 367.22 463.18 367.05 463.20 366.88 463.20 366.88 463.22 366.70 463.24 366.51 463.26 366.32 463.28 366.13 463.30 365.93 463.32 365.73 463.34 365.52 463.36 365.30 463.38 365.08 463.40 364.85 463.40 364.85 463.42 364.61 463.44 364.37 463.46 364.11 463.48 363.85 463.50 363.58 463.52 363.29 463.54 363.00 463.56 362.69 463.58 362.37 463.60 362.04 463.60 362.04 463.62 361.69 463.64 361.32 463.66 360.93 463.68 360.52 463.70 360.08 463.72 359.62 463.74 359.13 463.76 358.60 463.78 358.03 463.80 357.42 463.80 357.42 463.82 356.74 463.84 356.00 463.86 355.18 463.88 354.26 463.90 352.78 463.92 351.30 463.94 349.82 463.96 348.34 463.98 346.86 464.00 345.38 464.00 345.38 464.02 343.90 464.04 345.26 464.06 346.61 464.08 347.97 464.10 349.33 464.12 350.68 464.14 352.04 464.16 353.40 464.18 354.75 464.20 355.62 464.20 355.62 464.22 356.40 464.24 357.10 464.26 357.74 464.28 358.33 464.30 358.88 464.32 359.39 464.34 359.86 464.36 360.31 464.38 360.73 464.40 361.13 464.40 361.13 464.42 361.51 464.44 361.87 464.46 362.21 464.48 362.54 464.50 362.85 464.52 363.15 464.54 363.44 464.56 363.72 464.58 363.98 464.60 364.24 464.60 364.24 464.62 364.49 464.64 364.73 464.66 364.97 464.68 365.19 464.70 365.41 464.72 365.62 464.74 365.83 464.76 366.03 464.78 366.23 464.80 366.42 464.80 366.42 464.82 366.60 464.84 366.79 464.86 366.96 464.88 367.14 464.90 367.30 464.92 367.47 464.94 367.63 464.96 367.79 464.98 367.94 465.00 368.09 465.00 368.09 465.02 368.24 465.04 368.39 465.06 368.53 465.08 368.67 465.10 368.81 465.12 368.94 465.14 369.07 465.16 369.20 465.18 369.33 465.20 369.46 465.20 369.46 465.22 369.58 465.24 369.70 465.26 369.82 465.28 369.94 465.30 370.05 465.32 370.17 465.34 370.28 465.36 370.39 465.38 370.50 465.40 370.61 465.40 370.61 465.42 370.71 465.44 370.82 465.46 370.92 465.48 371.02 465.60 371.60 465.80 372.47 466.00 373.26 466.20 373.96 466.40 374.61 466.60 375.20 466.80 375.75 467.00 376.26 467.20 376.74 467.40 377.19 467.60 377.62 467.80 378.02 468.00 378.40 468.20 378.77 468.40 379.12 468.60 379.45 468.80 379.77 469.00 380.07 469.20 380.37 469.40 380.65 469.60 380.92 469.80 381.19 470.00 381.44 470.20 381.69 470.40 381.93 470.60 382.16 470.80 382.39 471.00 382.60 471.20 382.82 471.40 383.02 471.60 383.23 471.80 383.42 472.00 383.61 472.20 383.80 472.40 383.98 472.60 384.16 472.80 384.34 473.00 384.51 473.20 384.67 473.40 384.83 473.60 384.99 473.80 385.15 474.00 385.30 474.20 385.45 474.40 385.60 474.60 385.74 474.80 385.88 475.00 386.02 475.20 386.15 475.40 386.28 475.60 386.41 475.80 386.54 476.00 386.66 476.20 386.79 476.40 386.91 476.60 387.02 476.80 387.14 477.00 387.25 477.20 387.37 477.40 387.48 477.60 387.58 477.80 387.69 478.00 387.79 478.20 387.90 478.40 388.00 478.60 388.10 478.80 388.19 479.00 388.29 479.20 388.38 479.40 388.48 479.60 388.57 479.80 388.66 480.00 388.75 480.20 388.83 480.40 388.92 480.60 389.01 480.80 389.09 481.00 389.17 481.20 389.25 481.40 389.33 481.60 389.41 481.80 389.49 482.00 389.57 482.20 389.64 482.40 389.72 482.60 389.79 482.80 389.87 483.00 389.94 483.20 390.01 483.40 390.08 483.60 390.15 483.80 390.22 484.00 390.28 484.20 390.35 484.40 390.42 484.60 390.48 484.80 390.55 485.00 390.61 485.20 390.68 485.40 390.74 485.60 390.80 485.80 390.86 486.00 390.92 486.20 390.98 486.40 391.04 486.60 391.10 486.80 391.16 487.00 391.22 487.20 391.28 487.40 391.33 487.60 391.39 487.80 391.45 488.00 391.50 488.20 391.56 488.40 391.61 488.60 391.67 488.80 391.72 489.00 391.78 489.20 391.83 489.40 391.88 489.60 391.93 489.80 391.99 490.00 392.04 490.20 392.09 490.40 392.14 490.60 392.19 490.80 392.25 491.00 392.30 491.20 392.35 491.40 392.40 491.60 392.45 491.80 392.50 492.00 392.55 492.20 392.60 492.40 392.65 492.60 392.70 492.80 392.75 493.00 392.80 493.20 392.86 493.40 392.91 493.60 392.96 493.80 393.01 494.00 393.06 494.20 393.11 494.40 393.16 494.60 393.22 494.80 393.27 495.00 393.32 495.20 393.38 495.40 393.43 495.60 393.48 495.80 393.54 496.00 393.59 496.20 393.65 496.40 393.70 496.60 393.76 496.80 393.81 497.00 393.87 497.20 393.93 497.40 393.98 497.60 394.04 497.80 394.10 498.00 394.15 498.20 394.21 498.40 394.27 498.60 394.33 498.80 394.39 499.00 394.45 499.20 394.50 499.40 394.56 499.60 394.62 499.80 394.68 500.00 394.74 500.20 394.80 500.40 394.86 500.60 394.92 500.80 394.98 501.00 395.04 501.20 395.09 501.40 395.15 501.60 395.21 501.80 395.27 502.00 395.33 502.20 395.38 502.40 395.44 502.60 395.50 502.80 395.56 503.00 395.61 503.20 395.67 503.40 395.72 503.60 395.78 503.80 395.83 504.00 395.89 504.20 395.94 504.40 396.00 504.60 396.05 504.80 396.10 505.00 396.16 505.20 396.21 505.40 396.26 505.60 396.31 505.80 396.37 506.00 396.42 506.20 396.47 506.40 396.52 506.60 396.57 506.80 396.61 507.00 396.66 507.20 396.71 507.40 396.76 507.60 396.81 507.80 396.85 508.00 396.90 508.20 396.94 508.40 396.99 508.60 397.03 508.80 397.08 509.00 397.12 509.20 397.17 509.40 397.21 509.60 397.25 509.80 397.29 510.00 397.33 510.20 397.37 510.40 397.41 510.60 397.45 510.80 397.49 511.00 397.53 511.20 397.57 511.40 397.61 511.60 397.65 511.80 397.68 512.00 397.72 512.20 397.76 512.40 397.79 512.60 397.83 512.80 397.87 513.00 397.90 513.20 397.94 513.40 397.97 513.60 398.01 513.80 398.04 514.00 398.08 514.20 398.11 514.40 398.15 514.60 398.18 514.80 398.22 515.00 398.25 515.20 398.29 515.40 398.32 515.60 398.36 515.80 398.39 516.00 398.43 516.20 398.46 516.40 398.50 516.60 398.54 516.80 398.58 517.00 398.61 517.20 398.65 517.40 398.69 517.60 398.73 517.80 398.77 518.00 398.81 518.20 398.85 518.40 398.89 518.60 398.93 518.80 398.98 519.00 399.02 519.20 399.06 519.40 399.11 519.60 399.15 519.80 399.20 520.00 399.24 520.20 399.29 520.40 399.34 520.60 399.39 520.80 399.44 521.00 399.48 521.20 399.53 521.40 399.58 521.60 399.63 521.80 399.69 522.00 399.74 522.20 399.79 522.40 399.84 522.60 399.89 522.80 399.95 523.00 400.00 523.20 400.05 523.40 400.11 523.60 400.16 523.80 400.22 524.00 400.27 524.20 400.32 524.40 400.38 524.60 400.43 524.80 400.49 525.00 400.54 525.20 400.59 525.40 400.65 525.60 400.70 525.80 400.75 526.00 400.80 526.20 400.85 526.40 400.90 526.60 400.95 526.80 401.00 527.00 401.05 527.20 401.10 527.40 401.14 527.60 401.19 527.80 401.23 528.00 401.27 528.20 401.31 528.40 401.35 528.60 401.39 528.80 401.42 529.00 401.46 529.20 401.49 529.40 401.52 529.60 401.55 529.80 401.57 530.00 401.60 530.20 401.62 530.40 401.64 530.60 401.67 530.80 401.68 531.00 401.70 531.20 401.72 531.40 401.73 531.60 401.75 531.80 401.76 532.00 401.78 532.20 401.79 532.40 401.80 532.60 401.81 532.80 401.83 533.00 401.84 533.20 401.86 533.40 401.87 533.60 401.89 533.80 401.90 534.00 401.92 534.20 401.94 534.40 401.96 534.60 401.99 534.80 402.01 535.00 402.03 535.20 402.06 535.40 402.09 535.60 402.12 535.80 402.15 536.00 402.19 536.20 402.22 536.40 402.26 536.60 402.30 536.80 402.34 537.00 402.38 537.20 402.43 537.40 402.47 537.60 402.52 537.80 402.57 538.00 402.62 538.20 402.67 538.40 402.72 538.60 402.77 538.80 402.82 539.00 402.88 539.20 402.93 539.40 402.99 539.60 403.04 539.80 403.10 540.00 403.16 540.20 403.22 540.40 403.28 540.60 403.34 540.80 403.40 541.00 403.46 541.20 403.52 541.40 403.59 541.60 403.65 541.80 403.71 542.00 403.78 542.20 403.84 542.40 403.91 542.60 403.97 542.80 404.04 543.00 404.10 543.20 404.17 543.40 404.23 543.60 404.30 543.80 404.36 544.00 404.43 544.20 404.49 544.40 404.56 544.60 404.63 544.80 404.69 545.00 404.76 545.20 404.82 545.40 404.89 545.60 404.95 545.80 405.02 546.00 405.08 546.20 405.15 546.40 405.21 546.60 405.27 546.80 405.34 547.00 405.40 547.20 405.46 547.40 405.52 547.60 405.58 547.80 405.64 548.00 405.70 548.20 405.76 548.40 405.82 548.60 405.88 548.80 405.93 549.00 405.99 549.20 406.04 549.40 406.10 549.60 406.15 549.80 406.21 550.00 406.26 550.20 406.31 550.40 406.37 550.60 406.42 550.80 406.47 551.00 406.52 551.20 406.57 551.40 406.63 551.60 406.68 551.80 406.73 552.00 406.78 552.20 406.84 552.40 406.89 552.60 406.94 552.80 407.00 553.00 407.05 553.20 407.11 553.40 407.17 553.60 407.22 553.80 407.28 554.00 407.34 554.20 407.41 554.40 407.47 554.60 407.53 554.80 407.60 555.00 407.67 555.20 407.74 555.40 407.81 555.60 407.88 555.80 407.96 556.00 408.03 556.20 408.11 556.40 408.19 556.60 408.28 556.80 408.36 557.00 408.45 557.20 408.54 557.40 408.63 557.60 408.73 557.80 408.82 558.00 408.92 558.20 409.02 558.40 409.13 558.60 409.24 558.80 409.35 559.00 409.46 559.20 409.57 559.40 409.69 559.60 409.81 559.80 409.94 560.00 410.07 560.20 410.20 560.40 410.33 560.60 410.47 560.80 410.61 561.00 410.76 561.20 410.91 561.40 411.06 561.60 411.22 561.80 411.38 562.00 411.55 562.20 411.72 562.40 411.90 562.60 412.08 562.80 412.26 563.00 412.46 563.20 412.66 563.40 412.86 563.60 413.08 563.80 413.30 564.00 413.52 564.20 413.76 564.40 414.00 564.60 414.25 564.80 414.52 565.00 414.79 565.20 415.07 565.40 415.36 565.60 415.67 565.80 415.99 566.00 416.32 566.20 416.67 566.40 417.03 566.60 417.42 566.80 417.82 567.00 418.24 567.20 418.69 567.40 419.17 567.60 419.67 567.80 420.21 568.00 420.79 568.20 421.41 568.40 422.09 568.50 422.45 568.52 422.52 568.54 422.60 568.56 422.67 568.58 422.75 568.60 422.82 568.60 422.82 568.62 422.90 568.64 422.98 568.66 423.06 568.68 423.14 568.70 423.22 568.72 423.30 568.74 423.38 568.76 423.47 568.78 423.55 568.80 423.64 568.80 423.64 568.82 423.72 568.84 423.81 568.86 423.90 568.88 423.99 568.90 424.08 568.92 424.17 568.94 424.26 568.96 424.35 568.98 424.45 569.00 424.54 569.00 424.54 569.02 424.64 569.04 424.73 569.06 424.83 569.08 424.93 569.10 425.03 569.12 425.14 569.14 425.24 569.16 425.35 569.18 425.45 569.20 425.56 569.20 425.56 569.22 425.67 569.24 425.78 569.26 425.90 569.28 426.01 569.30 426.13 569.32 426.24 569.34 426.36 569.36 426.49 569.38 426.61 569.40 426.74 569.40 426.74 569.42 426.86 569.44 426.99 569.46 427.12 569.48 427.26 569.50 427.40 569.52 427.54 569.54 427.68 569.56 427.82 569.58 427.97 569.60 428.12 569.60 428.12 569.62 428.27 569.64 428.43 569.66 428.59 569.68 428.75 569.70 428.92 569.72 429.09 569.74 429.26 569.76 429.44 569.78 429.62 569.80 429.80 569.80 429.80 569.82 430.00 569.84 430.19 569.86 430.46 569.88 430.72 569.90 430.98 569.92 431.25 569.94 431.51 569.96 431.77 569.98 432.04 570.00 432.30 570.00 432.30 570.02 432.56 570.04 432.83 570.06 433.09 570.08 433.35 570.10 433.62 570.12 433.88 570.14 434.14 570.16 434.41 570.18 434.67 570.20 434.93 570.20 434.93 570.22 435.20 570.24 435.46 570.26 435.72 570.28 435.99 570.30 436.25 570.32 436.51 570.34 436.78 570.36 437.04 570.38 437.30 570.40 437.57 570.40 437.57 570.42 437.83 570.44 438.09 570.46 438.36 570.48 438.62 570.50 438.88 570.52 439.15 570.54 439.41 570.56 439.67 570.58 439.94 570.60 440.20 570.60 440.20 570.62 439.94 570.64 439.69 570.66 439.43 570.68 439.17 570.70 438.91 570.72 438.66 570.74 438.40 570.76 438.14 570.78 437.88 570.80 437.63 570.80 437.63 570.82 437.37 570.84 437.11 570.86 436.85 570.88 436.60 570.90 436.34 570.92 436.08 570.94 435.82 570.96 435.57 570.98 435.31 571.00 435.05 571.00 435.05 571.02 434.79 571.04 434.54 571.06 434.28 571.08 434.02 571.10 433.76 571.12 433.51 571.14 433.25 571.16 432.99 571.18 432.73 571.20 432.48 571.20 432.48 571.22 432.22 571.24 431.96 571.26 431.70 571.28 431.45 571.30 431.19 571.32 430.93 571.34 430.67 571.36 430.42 571.38 430.16 571.40 429.98 571.40 429.98 571.42 429.81 571.44 429.64 571.46 429.47 571.48 429.31 571.50 429.15 571.52 428.99 571.54 428.84 571.56 428.69 571.58 428.55 571.60 428.41 571.60 428.41 571.62 428.27 571.64 428.13 571.66 428.00 571.68 427.86 571.70 427.74 571.72 427.61 571.74 427.48 571.76 427.36 571.78 427.24 571.80 427.12 571.80 427.12 571.82 427.01 571.84 426.89 571.86 426.78 571.88 426.67 571.90 426.56 571.92 426.46 571.94 426.35 571.96 426.25 571.98 426.14 572.00 426.04 572.00 426.04 572.02 425.94 572.04 425.85 572.06 425.75 572.08 425.66 572.10 425.56 572.12 425.47 572.14 425.38 572.16 425.29 572.18 425.20 572.20 425.11 572.20 425.11 572.22 425.02 572.24 424.94 572.26 424.85 572.28 424.77 572.30 424.69 572.32 424.61 572.34 424.53 572.36 424.45 572.38 424.37 572.40 424.29 572.40 424.29 572.42 424.21 572.44 424.14 572.46 424.06 572.48 423.99 572.60 423.56 572.80 422.90 573.00 422.30 573.20 421.75 573.40 421.24 573.60 420.76 573.80 420.32 574.00 419.90 574.20 419.51 574.40 419.14 574.60 418.78 574.80 418.45 575.00 418.13 575.20 417.82 575.40 417.52 575.60 417.24 575.80 416.96 576.00 416.70 576.20 416.44 576.40 416.20 576.60 415.96 576.80 415.72 577.00 415.49 577.20 415.27 577.40 415.06 577.60 414.85 577.80 414.64 578.00 414.44 578.20 414.25 578.40 414.06 578.60 413.87 578.80 413.68 579.00 413.50 579.20 413.33 579.40 413.15 579.60 412.98 579.80 412.82 580.00 412.65 580.20 412.49 580.40 412.33 580.60 412.17 580.80 412.02 581.00 411.86 581.20 411.71 581.40 411.57 581.60 411.42 581.80 411.27 582.00 411.13 582.20 410.99 582.40 410.85 582.60 410.71 582.80 410.58 583.00 410.44 583.20 410.31 583.40 410.17 583.60 410.04 583.80 409.91 584.00 409.78 584.20 409.65 584.40 409.52 584.60 409.40 584.80 409.27 585.00 409.14 585.20 409.02 585.40 408.89 585.60 408.77 585.80 408.65 586.00 408.52 586.20 408.40 586.40 408.28 586.60 408.16 586.80 408.03 587.00 407.91 587.20 407.79 587.40 407.67 587.60 407.55 587.80 407.43 588.00 407.31 588.20 407.19 588.40 407.07 588.60 406.94 588.80 406.82 589.00 406.70 589.20 406.58 589.40 406.46 589.60 406.34 589.80 406.21 590.00 406.09 590.20 405.97 590.40 405.85 590.60 405.72 590.80 405.60 591.00 405.48 591.20 405.35 591.40 405.23 591.60 405.10 591.80 404.98 592.00 404.85 592.20 404.72 592.40 404.59 592.60 404.47 592.80 404.34 593.00 404.21 593.20 404.08 593.40 403.95 593.60 403.82 593.80 403.69 594.00 403.56 594.20 403.42 594.40 403.29 594.60 403.16 594.80 403.02 595.00 402.89 595.20 402.75 595.40 402.61 595.60 402.48 595.80 402.34 596.00 402.20 596.20 402.06 596.40 401.92 596.60 401.78 596.80 401.64 597.00 401.50 597.20 401.36 597.40 401.21 597.60 401.07 597.80 400.93 598.00 400.78 598.20 400.64 598.40 400.49 598.60 400.35 598.80 400.20 599.00 400.05 599.20 399.91 599.40 399.76 599.60 399.61 599.80 399.46 600.00 399.31 600.20 399.16 600.40 399.01 600.60 398.87 600.80 398.71 601.00 398.56 601.20 398.41 601.40 398.26 601.60 398.11 601.80 397.96 602.00 397.80 602.20 397.65 602.40 397.50 602.60 397.34 602.80 397.19 603.00 397.04 603.20 396.88 603.40 396.72 603.60 396.57 603.80 396.41 604.00 396.25 604.20 396.09 604.40 395.94 604.60 395.78 604.80 395.62 605.00 395.45 605.20 395.29 605.40 395.13 605.60 394.96 605.80 394.80 606.00 394.63 606.20 394.46 606.40 394.29 606.60 394.12 606.80 393.95 607.00 393.77 607.20 393.59 607.40 393.41 607.60 393.23 607.80 393.05 608.00 392.86 608.20 392.67 608.40 392.48 608.60 392.29 608.80 392.09 609.00 391.89 609.20 391.68 609.40 391.47 609.60 391.26 609.80 391.04 610.00 390.82 610.20 390.60 610.40 390.36 610.60 390.13 610.80 389.88 611.00 389.63 611.20 389.37 611.40 389.11 611.60 388.84 611.80 388.56 612.00 388.27 612.20 387.97 612.40 387.66 612.60 387.34 612.80 387.01 613.00 386.66 613.20 386.30 613.40 385.92 613.60 385.53 613.80 385.11 614.00 384.67 614.20 384.21 614.40 383.73 614.60 383.21 614.80 382.65 615.00 382.05 615.20 381.41 615.40 380.70 615.50 380.33 615.52 380.25 615.54 380.17 615.56 380.09 615.58 380.01 615.60 379.93 615.60 379.93 615.62 379.85 615.64 379.77 615.66 379.68 615.68 379.60 615.70 379.51 615.72 379.43 615.74 379.34 615.76 379.25 615.78 379.16 615.80 379.07 615.80 379.07 615.82 378.98 615.84 378.89 615.86 378.80 615.88 378.70 615.90 378.60 615.92 378.51 615.94 378.41 615.96 378.31 615.98 378.21 616.00 378.11 616.00 378.11 616.02 378.00 616.04 377.90 616.06 377.79 616.08 377.68 616.10 377.57 616.12 377.46 616.14 377.35 616.16 377.24 616.18 377.12 616.20 377.00 616.20 377.00 616.22 376.88 616.24 376.76 616.26 376.64 616.28 376.51 616.30 376.38 616.32 376.25 616.34 376.12 616.36 375.99 616.38 375.85 616.40 375.71 616.40 375.71 616.42 375.57 616.44 375.42 616.46 375.27 616.48 375.12 616.50 374.97 616.52 374.81 616.54 374.65 616.56 374.49 616.58 374.32 616.60 374.15 616.60 374.15 616.62 373.97 616.64 373.73 616.66 373.49 616.68 373.25 616.70 373.00 616.72 372.76 616.74 372.52 616.76 372.28 616.78 372.04 616.80 371.79 616.80 371.79 616.82 371.55 616.84 371.31 616.86 371.07 616.88 370.82 616.90 370.58 616.92 370.34 616.94 370.10 616.96 369.86 616.98 369.61 617.00 369.37 617.00 369.37 617.02 369.13 617.04 368.89 617.06 368.64 617.08 368.40 617.10 368.16 617.12 367.92 617.14 367.68 617.16 367.43 617.18 367.19 617.20 366.95 617.20 366.95 617.22 366.71 617.24 366.46 617.26 366.22 617.28 365.98 617.30 365.74 617.32 365.50 617.34 365.25 617.36 365.01 617.38 364.77 617.40 364.53 617.40 364.53 617.42 364.28 617.44 364.04 617.46 363.80 617.48 364.04 617.50 364.28 617.52 364.52 617.54 364.76 617.56 365.00 617.58 365.24 617.60 365.48 617.60 365.48 617.62 365.72 617.64 365.96 617.66 366.20 617.68 366.44 617.70 366.68 617.72 366.92 617.74 367.16 617.76 367.40 617.78 367.64 617.80 367.88 617.80 367.88 617.82 368.12 617.84 368.36 617.86 368.60 617.88 368.84 617.90 369.08 617.92 369.33 617.94 369.57 617.96 369.81 617.98 370.05 618.00 370.29 618.00 370.29 618.02 370.53 618.04 370.77 618.06 371.01 618.08 371.25 618.10 371.49 618.12 371.73 618.14 371.97 618.16 372.21 618.18 372.45 618.20 372.69 618.20 372.69 618.22 372.93 618.24 373.17 618.26 373.41 618.28 373.65 618.30 373.89 618.32 374.06 618.34 374.22 618.36 374.38 618.38 374.54 618.40 374.69 618.40 374.69 618.42 374.84 618.44 374.99 618.46 375.14 618.48 375.28 618.50 375.42 618.52 375.55 618.54 375.69 618.56 375.82 618.58 375.95 618.60 376.07 618.60 376.07 618.62 376.20 618.64 376.32 618.66 376.44 618.68 376.56 618.70 376.67 618.72 376.79 618.74 376.90 618.76 377.01 618.78 377.12 618.80 377.23 618.80 377.23 618.82 377.33 618.84 377.44 618.86 377.54 618.88 377.64 618.90 377.74 618.92 377.84 618.94 377.94 618.96 378.03 618.98 378.13 619.00 378.22 619.20 379.09 619.40 379.86 619.60 380.56 619.80 381.19 620.00 381.77 620.20 382.30 620.40 382.80 620.60 383.27 620.80 383.70 621.00 384.11 621.20 384.50 621.40 384.86 621.60 385.21 621.80 385.54 622.00 385.86 622.20 386.16 622.40 386.46 622.60 386.73 622.80 387.00 623.00 387.26 623.20 387.51 623.40 387.76 623.60 387.99 623.80 388.22 624.00 388.44 624.20 388.65 624.40 388.86 624.60 389.06 624.80 389.26 625.00 389.45 625.20 389.64 625.40 389.82 625.60 390.00 625.80 390.17 626.00 390.34 626.20 390.50 626.40 390.67 626.60 390.82 626.80 390.98 627.00 391.13 627.20 391.28 627.40 391.43 627.60 391.57 627.80 391.71 628.00 391.85 628.20 391.98 628.40 392.11 628.60 392.24 628.80 392.37 629.00 392.49 629.20 392.62 629.40 392.74 629.60 392.86 629.80 392.97 630.00 393.09 630.20 393.20 630.40 393.31 630.60 393.43 630.80 393.53 631.00 393.64 631.20 393.75 631.40 393.85 631.60 393.95 631.80 394.06 632.00 394.16 632.20 394.26 632.40 394.35 632.60 394.45 632.80 394.55 633.00 394.64 633.20 394.74 633.40 394.83 633.60 394.93 633.80 395.02 634.00 395.11 634.20 395.20 634.40 395.30 634.60 395.39 634.80 395.48 635.00 395.57 635.20 395.66 635.40 395.74 635.60 395.83 635.80 395.92 636.00 396.01 636.20 396.10 636.40 396.18 636.60 396.27 636.80 396.35 637.00 396.44 637.20 396.52 637.40 396.61 637.60 396.69 637.80 396.77 638.00 396.85 638.20 396.93 638.40 397.01 638.60 397.09 638.80 397.17 639.00 397.25 639.20 397.32 639.40 397.40 639.60 397.47 639.80 397.54 640.00 397.62 640.20 397.69 640.40 397.76 640.60 397.83 640.80 397.89 641.00 397.96 641.20 398.03 641.40 398.09 641.60 398.15 641.80 398.22 642.00 398.28 642.20 398.34 642.40 398.40 642.60 398.46 642.80 398.52 643.00 398.58 643.20 398.64 643.40 398.70 643.60 398.75 643.80 398.81 644.00 398.87 644.20 398.92 644.40 398.98 644.60 399.03 644.80 399.09 645.00 399.15 645.20 399.20 645.40 399.26 645.60 399.31 645.80 399.37 646.00 399.42 646.20 399.48 646.40 399.53 646.60 399.59 646.80 399.65 647.00 399.70 647.20 399.76 647.40 399.82 647.60 399.88 647.80 399.94 648.00 400.00 648.20 400.06 648.40 400.12 648.60 400.19 648.80 400.25 649.00 400.32 649.20 400.38 649.40 400.45 649.60 400.52 649.80 400.59 650.00 400.66 650.20 400.73 650.40 400.80 650.60 400.87 650.80 400.95 651.00 401.02 651.20 401.10 651.40 401.17 651.60 401.25 651.80 401.33 652.00 401.40 652.20 401.48 652.40 401.56 652.60 401.63 652.80 401.71 653.00 401.79 653.20 401.86 653.40 401.94 653.60 402.01 653.80 402.09 654.00 402.16 654.20 402.23 654.40 402.30 654.60 402.37 654.80 402.43 655.00 402.50 655.20 402.56 655.40 402.63 655.60 402.69 655.80 402.75 656.00 402.81 656.20 402.86 656.40 402.92 656.60 402.97 656.80 403.03 657.00 403.08 657.20 403.13 657.40 403.18 657.60 403.22 657.80 403.27 658.00 403.32 658.20 403.36 658.40 403.40 658.60 403.45 658.80 403.49 659.00 403.53 659.20 403.57 659.40 403.61 659.60 403.64 659.80 403.68 660.00 403.72 660.20 403.75 660.40 403.79" fill="none" stroke="#e4601f" stroke-width="2.3" stroke-linejoin="round" />
<rect x="489" y="318.7" width="50" height="18.69999999999999" fill="#fff"/>
<rect x="511" y="350.9" width="98" height="19.100000000000023" fill="#fff"/>
<text x="491.7" y="333.9" font-size="15.3">Modell</text>
<text x="513.4" y="365.9" font-size="15.3">Measurement</text>
<line x1="492.4" y1="335.5" x2="464.3" y2="346.3" stroke="#222" stroke-width="0.9"/>
<line x1="550" y1="371" x2="541.8" y2="391.4" stroke="#222" stroke-width="0.9"/>
<rect x="408" y="274.4" width="252.5" height="168.10000000000002" fill="none" stroke="#383434" stroke-width="1.9"/>
<text x="405.0" y="280.70" text-anchor="end" font-size="15.2">10<tspan dy="-5.2" font-size="13">0</tspan></text>
<text x="405.6" y="312.90" text-anchor="end" font-size="15.2">m/N</text>
<text x="405.0" y="347.60" text-anchor="end" font-size="15.2">10<tspan dy="-5.2" font-size="13">-4</tspan></text>
<text x="405.0" y="382.90" text-anchor="end" font-size="15.2">10<tspan dy="-5.2" font-size="13">-6</tspan></text>
<text x="405.0" y="416.60" text-anchor="end" font-size="15.2">10<tspan dy="-5.2" font-size="13">-8</tspan></text>
<text x="405.0" y="450.60" text-anchor="end" font-size="15.2">10<tspan dy="-5.2" font-size="13">-10</tspan></text>
<text x="407.7" y="462.7" text-anchor="middle" font-size="15.2">0</text>
<text x="452.8" y="460.2" text-anchor="middle" font-size="15.2">2,000</text>
<text x="507.3" y="460.2" text-anchor="middle" font-size="15.2">4,000</text>
<text x="560.9" y="460.2" text-anchor="middle" font-size="15.2">6,000</text>
<text x="610.7" y="460.2" text-anchor="middle" font-size="15.2">Hz</text>
<text x="661.8" y="460.2" text-anchor="middle" font-size="15.2">10,000</text>
<text x="7.5" y="16.2" font-size="18" font-weight="bold">a</text>
<text x="62.4" y="16.2" font-size="15.25">Shrinking chuck</text>
<text x="349.5" y="16.3" font-size="18" font-weight="bold">b</text>
<text x="408.4" y="16.3" font-size="15.2">Hydraulic chuck</text>
<text x="7.5" y="267.5" font-size="18" font-weight="bold">c</text>
<text x="61.9" y="268" font-size="15.25">Shrinking chuck - carbide rod</text>
<text x="349" y="267.7" font-size="18" font-weight="bold">d</text>
<text x="408.3" y="267.7" font-size="15.2">Hydraulic chuck - carbide rod</text>
<text transform="translate(20.0,99.9) rotate(-90)" text-anchor="middle" font-size="20" textLength="119.6" lengthAdjust="spacingAndGlyphs">Compliance C</text>
<text transform="translate(363.2,100.3) rotate(-90)" text-anchor="middle" font-size="20" textLength="119.6" lengthAdjust="spacingAndGlyphs">Compliance C</text>
<text transform="translate(16.5,352.8) rotate(-90)" text-anchor="middle" font-size="20" textLength="119.6" lengthAdjust="spacingAndGlyphs">Compliance C</text>
<text transform="translate(363.0,352.5) rotate(-90)" text-anchor="middle" font-size="20" textLength="119.6" lengthAdjust="spacingAndGlyphs">Compliance C</text>
<text x="139.7" y="229.8" font-size="18.7">Frequency f</text>
<text x="487.5" y="229.3" font-size="18.7">Frequency f</text>
<text x="140.0" y="482.8" font-size="18.7">Frequency f</text>
<text x="487.3" y="483.1" font-size="18.7">Frequency f</text>
<text x="589" y="487.2" font-size="11.4">Rei/111878 ©</text>
<text x="663.8" y="487.2" font-size="11.4">IFW</text>
</svg></body></html>
